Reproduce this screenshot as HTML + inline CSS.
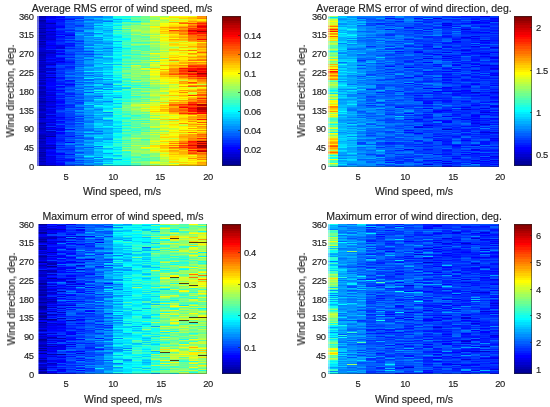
<!DOCTYPE html>
<html><head><meta charset="utf-8"><style>
*{margin:0;padding:0}
html,body{width:550px;height:407px;overflow:hidden;background:#fff}
body{position:relative;font-family:"Liberation Sans",sans-serif;color:#222}
.ax{position:absolute;overflow:hidden}
.box{position:absolute;left:0;top:0;right:0;bottom:0;border:1px solid rgba(38,38,38,0.55)}
.edge{position:absolute;left:0;top:0;right:0;bottom:0;border-right:1px solid rgba(40,30,30,0.35);border-bottom:1px solid rgba(40,30,30,0.35)}
.ledge{position:absolute;left:0;top:0;bottom:0;width:1.5px;background:rgba(235,245,255,0.45)}
.ctk{position:absolute;width:1.8px;height:1px;background:rgba(38,38,38,0.6)}
.lab,.ylab,.xt,.yt,.ct{will-change:transform;-webkit-text-stroke:0.15px #222}
.lab{position:absolute;font-size:10.5px;line-height:12px;white-space:nowrap;transform:translateX(-50%)}
.ylab{position:absolute;font-size:10.5px;line-height:12px;white-space:nowrap;transform:translate(-50%,-50%) rotate(-90deg)}
.xt{letter-spacing:-0.35px;position:absolute;font-size:9.4px;line-height:11px;white-space:nowrap;transform:translateX(-50%)}
.yt{letter-spacing:-0.35px;position:absolute;font-size:9.4px;line-height:11px;white-space:nowrap}
.ct{letter-spacing:-0.35px;position:absolute;font-size:9.4px;line-height:11px;white-space:nowrap}
</style></head><body>
<div class="ax" style="left:37.4px;top:16px;width:169.9px;height:150.4px"><svg width="169.9" height="150.4" viewBox="0 0 18 150" preserveAspectRatio="none" shape-rendering="crispEdges" style="position:absolute;left:0;top:0;filter:blur(0.35px)"><path fill="#0000af" d="M0 0h1v1h-1zM0 5h1v1h-1zM1 7h1v1h-1zM0 21h1v1h-1zM0 28h1v1h-1zM0 36h1v1h-1zM0 38h1v1h-1zM0 39h1v1h-1zM0 44h1v1h-1zM0 55h1v1h-1zM1 61h1v1h-1zM0 64h1v1h-1zM0 67h1v1h-1zM0 71h1v1h-1zM0 72h1v1h-1zM0 75h1v1h-1zM0 76h1v1h-1zM0 78h1v1h-1zM0 82h1v1h-1zM0 86h1v1h-1zM0 89h1v1h-1zM0 93h1v1h-1zM0 94h1v1h-1zM0 112h1v1h-1zM0 119h1v1h-1zM0 120h1v1h-1zM0 125h1v1h-1zM0 131h1v1h-1zM0 132h1v1h-1zM0 138h1v1h-1zM0 139h1v1h-1zM0 140h1v1h-1zM0 142h1v1h-1zM0 145h1v1h-1z"/><path fill="#0000df" d="M1 0h1v1h-1zM0 3h1v1h-1zM1 11h1v1h-1zM1 17h1v1h-1zM1 19h1v1h-1zM1 21h1v1h-1zM1 22h1v1h-1zM0 24h1v1h-1zM1 29h1v1h-1zM2 31h1v1h-1zM0 32h1v1h-1zM2 32h1v1h-1zM0 33h1v1h-1zM1 35h1v1h-1zM1 39h1v1h-1zM1 43h1v1h-1zM0 45h1v1h-1zM2 45h1v1h-1zM1 46h1v1h-1zM1 47h1v1h-1zM1 53h1v1h-1zM0 57h1v1h-1zM0 63h1v1h-1zM0 65h1v1h-1zM1 74h1v1h-1zM1 76h1v1h-1zM1 78h1v1h-1zM0 81h2v1h-2zM1 83h1v1h-1zM1 86h1v1h-1zM1 87h1v1h-1zM1 91h1v1h-1zM1 93h1v1h-1zM1 95h1v1h-1zM0 96h2v1h-2zM0 102h1v1h-1zM1 103h1v1h-1zM0 104h1v1h-1zM0 105h1v1h-1zM1 109h1v1h-1zM0 116h1v1h-1zM1 117h1v1h-1zM1 119h1v1h-1zM1 140h1v1h-1zM1 147h1v1h-1z"/><path fill="#0010ff" d="M2 0h1v1h-1zM1 3h1v1h-1zM3 3h1v1h-1zM2 4h1v1h-1zM2 5h1v1h-1zM2 9h1v1h-1zM2 15h1v1h-1zM2 16h1v1h-1zM3 18h1v1h-1zM2 21h1v1h-1zM2 24h1v1h-1zM1 26h1v1h-1zM3 27h1v1h-1zM3 29h1v1h-1zM2 34h1v1h-1zM2 41h1v1h-1zM1 42h1v1h-1zM2 44h1v1h-1zM1 45h1v1h-1zM3 46h1v1h-1zM1 58h1v1h-1zM1 60h1v1h-1zM2 61h1v1h-1zM2 62h1v1h-1zM3 64h1v1h-1zM2 67h1v1h-1zM2 68h1v1h-1zM1 70h1v1h-1zM2 71h1v1h-1zM1 75h1v1h-1zM2 76h1v1h-1zM2 79h1v1h-1zM2 81h1v1h-1zM2 83h1v1h-1zM2 84h1v1h-1zM2 87h1v1h-1zM2 90h1v1h-1zM1 92h2v1h-2zM1 102h2v1h-2zM2 103h1v1h-1zM2 106h1v1h-1zM1 107h1v1h-1zM2 109h1v1h-1zM2 110h1v1h-1zM3 113h1v1h-1zM3 120h1v1h-1zM2 124h1v1h-1zM1 127h1v1h-1zM2 129h1v1h-1zM1 134h1v1h-1zM3 138h1v1h-1zM1 139h1v1h-1zM2 142h1v1h-1zM3 143h1v1h-1zM3 144h1v1h-1zM2 146h1v1h-1zM2 149h1v1h-1z"/><path fill="#0040ff" d="M3 0h1v1h-1zM4 4h1v1h-1zM3 5h1v1h-1zM3 7h1v1h-1zM3 8h1v1h-1zM4 10h1v1h-1zM3 11h1v1h-1zM2 13h2v1h-2zM2 19h1v1h-1zM3 20h1v1h-1zM4 27h1v1h-1zM4 32h1v1h-1zM2 33h1v1h-1zM4 35h2v1h-2zM3 36h1v1h-1zM3 37h1v1h-1zM5 38h1v1h-1zM2 39h2v1h-2zM2 40h1v1h-1zM3 43h1v1h-1zM2 50h1v1h-1zM2 51h1v1h-1zM3 53h1v1h-1zM2 54h1v1h-1zM2 58h2v1h-2zM2 60h1v1h-1zM3 61h1v1h-1zM2 64h1v1h-1zM2 72h1v1h-1zM3 73h1v1h-1zM3 76h1v1h-1zM2 77h1v1h-1zM2 78h1v1h-1zM4 78h1v1h-1zM2 82h1v1h-1zM3 83h1v1h-1zM4 84h1v1h-1zM3 85h1v1h-1zM4 87h1v1h-1zM2 94h1v1h-1zM3 95h1v1h-1zM3 97h1v1h-1zM3 98h1v1h-1zM3 99h1v1h-1zM3 100h1v1h-1zM3 102h2v1h-2zM2 104h1v1h-1zM3 105h2v1h-2zM4 107h1v1h-1zM3 110h1v1h-1zM2 115h1v1h-1zM3 117h1v1h-1zM3 118h1v1h-1zM3 119h2v1h-2zM3 122h2v1h-2zM3 124h1v1h-1zM2 127h1v1h-1zM3 129h1v1h-1zM2 130h1v1h-1zM3 131h1v1h-1zM3 132h1v1h-1zM2 134h2v1h-2zM3 135h1v1h-1zM4 136h1v1h-1zM3 140h1v1h-1zM4 144h1v1h-1zM3 148h2v1h-2zM3 149h1v1h-1z"/><path fill="#0050ff" d="M4 0h1v1h-1zM3 1h2v1h-2zM3 4h1v1h-1zM3 9h1v1h-1zM3 10h1v1h-1zM4 14h1v1h-1zM4 15h1v1h-1zM4 24h1v1h-1zM3 25h1v1h-1zM3 26h1v1h-1zM4 30h1v1h-1zM3 31h1v1h-1zM3 33h2v1h-2zM3 35h1v1h-1zM4 38h1v1h-1zM3 40h1v1h-1zM4 44h1v1h-1zM4 48h1v1h-1zM2 49h2v1h-2zM4 50h1v1h-1zM3 54h1v1h-1zM3 55h1v1h-1zM3 57h1v1h-1zM4 61h1v1h-1zM3 62h1v1h-1zM3 66h2v1h-2zM4 68h1v1h-1zM2 69h1v1h-1zM3 71h1v1h-1zM4 72h1v1h-1zM3 74h1v1h-1zM5 76h1v1h-1zM3 79h1v1h-1zM4 81h1v1h-1zM3 82h2v1h-2zM3 84h1v1h-1zM3 86h1v1h-1zM4 91h1v1h-1zM3 93h2v1h-2zM2 95h1v1h-1zM3 96h2v1h-2zM4 103h1v1h-1zM3 106h1v1h-1zM2 108h1v1h-1zM3 109h1v1h-1zM4 110h1v1h-1zM3 111h1v1h-1zM3 121h2v1h-2zM3 125h1v1h-1zM2 128h1v1h-1zM4 128h1v1h-1zM3 130h1v1h-1zM5 131h1v1h-1zM2 132h1v1h-1zM2 135h1v1h-1zM3 136h1v1h-1zM3 137h1v1h-1zM3 139h1v1h-1zM4 141h1v1h-1zM4 146h1v1h-1z"/><path fill="#0080ff" d="M5 0h1v1h-1zM5 1h2v1h-2zM4 3h1v1h-1zM6 4h1v1h-1zM5 9h1v1h-1zM4 13h1v1h-1zM5 16h1v1h-1zM4 17h1v1h-1zM6 17h1v1h-1zM4 19h1v1h-1zM4 23h1v1h-1zM6 23h1v1h-1zM5 25h1v1h-1zM5 28h1v1h-1zM4 39h2v1h-2zM4 40h1v1h-1zM6 41h1v1h-1zM4 43h1v1h-1zM5 48h1v1h-1zM5 56h1v1h-1zM5 57h1v1h-1zM3 59h1v1h-1zM6 60h1v1h-1zM6 63h1v1h-1zM5 67h2v1h-2zM4 70h1v1h-1zM7 73h1v1h-1zM5 80h1v1h-1zM5 81h1v1h-1zM4 83h1v1h-1zM5 85h1v1h-1zM7 85h1v1h-1zM5 89h1v1h-1zM4 90h1v1h-1zM5 91h1v1h-1zM6 93h1v1h-1zM7 96h1v1h-1zM4 101h1v1h-1zM6 103h1v1h-1zM5 104h1v1h-1zM5 112h1v1h-1zM3 115h2v1h-2zM4 116h1v1h-1zM4 118h1v1h-1zM5 126h1v1h-1zM3 127h1v1h-1zM3 128h1v1h-1zM5 133h1v1h-1zM4 135h2v1h-2zM5 136h1v1h-1zM5 137h1v1h-1zM4 140h1v1h-1zM5 145h2v1h-2zM4 147h1v1h-1zM4 149h1v1h-1z"/><path fill="#0070ff" d="M6 0h1v1h-1zM5 4h1v1h-1zM7 5h1v1h-1zM4 6h1v1h-1zM5 7h1v1h-1zM5 10h1v1h-1zM4 11h1v1h-1zM4 12h1v1h-1zM5 17h1v1h-1zM5 19h1v1h-1zM4 20h1v1h-1zM4 21h1v1h-1zM4 22h1v1h-1zM4 26h1v1h-1zM4 29h2v1h-2zM5 32h1v1h-1zM7 32h1v1h-1zM4 36h1v1h-1zM5 37h1v1h-1zM6 38h1v1h-1zM4 45h1v1h-1zM4 47h1v1h-1zM4 49h2v1h-2zM4 52h1v1h-1zM3 56h1v1h-1zM4 58h1v1h-1zM4 59h1v1h-1zM3 60h1v1h-1zM3 63h2v1h-2zM4 64h2v1h-2zM7 68h1v1h-1zM4 71h1v1h-1zM6 72h1v1h-1zM5 73h1v1h-1zM3 75h2v1h-2zM4 76h1v1h-1zM4 79h1v1h-1zM5 84h1v1h-1zM4 98h1v1h-1zM5 99h1v1h-1zM5 101h1v1h-1zM5 105h1v1h-1zM5 106h1v1h-1zM4 109h1v1h-1zM4 111h1v1h-1zM3 112h1v1h-1zM4 113h2v1h-2zM6 115h1v1h-1zM6 117h1v1h-1zM4 120h1v1h-1zM5 121h1v1h-1zM5 123h1v1h-1zM4 126h1v1h-1zM4 129h1v1h-1zM6 130h1v1h-1zM4 133h1v1h-1zM4 139h1v1h-1zM6 141h1v1h-1zM4 142h2v1h-2zM5 144h1v1h-1zM4 145h1v1h-1zM5 146h1v1h-1zM5 149h1v1h-1z"/><path fill="#00afff" d="M7 0h1v1h-1zM8 3h1v1h-1zM5 5h1v1h-1zM6 7h1v1h-1zM6 12h1v1h-1zM6 13h1v1h-1zM5 14h1v1h-1zM4 18h1v1h-1zM7 19h1v1h-1zM6 22h1v1h-1zM7 25h2v1h-2zM7 26h1v1h-1zM7 28h1v1h-1zM7 30h1v1h-1zM7 31h2v1h-2zM5 33h1v1h-1zM7 34h1v1h-1zM6 37h2v1h-2zM7 38h1v1h-1zM7 39h1v1h-1zM5 42h1v1h-1zM7 43h1v1h-1zM6 44h1v1h-1zM7 51h1v1h-1zM6 53h1v1h-1zM6 54h1v1h-1zM5 60h1v1h-1zM6 64h1v1h-1zM6 65h1v1h-1zM6 66h1v1h-1zM6 71h1v1h-1zM5 72h1v1h-1zM6 73h1v1h-1zM5 74h1v1h-1zM7 77h1v1h-1zM6 78h1v1h-1zM6 81h1v1h-1zM6 85h1v1h-1zM5 87h1v1h-1zM6 92h1v1h-1zM5 93h1v1h-1zM6 96h1v1h-1zM6 97h1v1h-1zM6 102h1v1h-1zM6 104h1v1h-1zM6 105h2v1h-2zM6 106h1v1h-1zM5 107h1v1h-1zM7 107h1v1h-1zM7 109h1v1h-1zM6 113h2v1h-2zM6 116h2v1h-2zM5 120h1v1h-1zM6 122h1v1h-1zM5 124h2v1h-2zM7 132h1v1h-1zM6 135h1v1h-1zM6 136h1v1h-1zM4 138h1v1h-1zM5 139h2v1h-2zM7 142h1v1h-1zM8 143h1v1h-1z"/><path fill="#20ffdf" d="M8 0h1v1h-1zM8 1h2v1h-2zM8 15h1v1h-1zM8 16h1v1h-1zM9 19h1v1h-1zM8 24h1v1h-1zM9 29h1v1h-1zM9 33h1v1h-1zM9 37h1v1h-1zM9 38h2v1h-2zM8 46h1v1h-1zM9 48h1v1h-1zM8 53h1v1h-1zM8 57h1v1h-1zM8 58h1v1h-1zM8 60h1v1h-1zM8 63h1v1h-1zM9 66h1v1h-1zM9 69h1v1h-1zM11 71h1v1h-1zM9 76h1v1h-1zM9 77h1v1h-1zM9 79h1v1h-1zM9 80h2v1h-2zM9 82h1v1h-1zM8 88h1v1h-1zM8 93h1v1h-1zM8 96h1v1h-1zM8 97h1v1h-1zM9 98h1v1h-1zM10 99h1v1h-1zM8 100h1v1h-1zM9 101h1v1h-1zM8 103h1v1h-1zM10 114h1v1h-1zM8 117h1v1h-1zM9 119h1v1h-1zM8 122h1v1h-1zM9 124h1v1h-1zM8 130h1v1h-1zM7 131h1v1h-1zM8 134h1v1h-1zM8 135h1v1h-1zM9 136h1v1h-1zM9 141h1v1h-1zM8 145h1v1h-1zM8 146h2v1h-2zM9 148h1v1h-1z"/><path fill="#10ffef" d="M9 0h1v1h-1zM9 4h1v1h-1zM8 11h1v1h-1zM8 18h1v1h-1zM8 22h1v1h-1zM8 27h1v1h-1zM8 36h1v1h-1zM8 37h1v1h-1zM7 40h2v1h-2zM9 41h1v1h-1zM7 47h2v1h-2zM9 51h1v1h-1zM9 63h1v1h-1zM8 67h1v1h-1zM10 69h1v1h-1zM6 74h1v1h-1zM9 75h1v1h-1zM9 78h1v1h-1zM9 81h1v1h-1zM8 82h1v1h-1zM9 85h1v1h-1zM8 86h1v1h-1zM6 89h1v1h-1zM8 89h1v1h-1zM8 95h1v1h-1zM8 101h1v1h-1zM8 104h1v1h-1zM9 106h1v1h-1zM8 108h1v1h-1zM8 111h1v1h-1zM9 112h1v1h-1zM9 115h1v1h-1zM8 119h1v1h-1zM7 130h1v1h-1zM8 132h1v1h-1zM7 141h2v1h-2zM9 142h1v1h-1zM8 147h2v1h-2zM8 148h1v1h-1z"/><path fill="#30ffcf" d="M10 0h1v1h-1zM8 7h1v1h-1zM9 8h1v1h-1zM8 10h1v1h-1zM8 12h1v1h-1zM9 13h1v1h-1zM9 17h1v1h-1zM9 24h1v1h-1zM9 25h1v1h-1zM10 26h1v1h-1zM10 30h1v1h-1zM9 31h1v1h-1zM9 34h1v1h-1zM9 35h1v1h-1zM9 40h1v1h-1zM9 42h1v1h-1zM9 45h1v1h-1zM10 48h1v1h-1zM8 52h1v1h-1zM8 55h1v1h-1zM8 56h1v1h-1zM9 57h1v1h-1zM10 64h1v1h-1zM11 69h1v1h-1zM10 71h1v1h-1zM8 83h1v1h-1zM9 84h1v1h-1zM8 94h1v1h-1zM7 95h1v1h-1zM7 102h1v1h-1zM10 104h2v1h-2zM9 118h1v1h-1zM8 123h1v1h-1zM8 125h1v1h-1zM8 127h1v1h-1zM8 128h1v1h-1zM8 129h1v1h-1zM9 130h1v1h-1zM9 135h1v1h-1zM8 138h1v1h-1zM9 139h1v1h-1zM9 140h1v1h-1zM10 141h1v1h-1zM8 142h1v1h-1zM9 144h1v1h-1zM7 148h1v1h-1zM10 149h1v1h-1z"/><path fill="#70ff8f" d="M11 0h1v1h-1zM11 1h1v1h-1zM10 2h1v1h-1zM11 4h1v1h-1zM11 6h1v1h-1zM11 9h1v1h-1zM9 14h1v1h-1zM10 16h1v1h-1zM10 17h1v1h-1zM10 21h1v1h-1zM10 22h1v1h-1zM10 24h1v1h-1zM12 26h1v1h-1zM10 29h1v1h-1zM12 33h1v1h-1zM11 36h2v1h-2zM9 39h2v1h-2zM12 42h2v1h-2zM11 45h1v1h-1zM10 46h1v1h-1zM9 47h1v1h-1zM11 47h1v1h-1zM11 49h1v1h-1zM9 50h1v1h-1zM9 52h1v1h-1zM9 56h1v1h-1zM9 58h1v1h-1zM10 61h1v1h-1zM9 70h1v1h-1zM12 71h1v1h-1zM12 72h1v1h-1zM11 73h1v1h-1zM11 76h1v1h-1zM10 83h1v1h-1zM9 86h1v1h-1zM11 87h1v1h-1zM9 90h1v1h-1zM9 92h1v1h-1zM9 93h1v1h-1zM10 96h1v1h-1zM10 98h1v1h-1zM11 108h1v1h-1zM11 109h1v1h-1zM9 114h1v1h-1zM11 114h1v1h-1zM11 119h1v1h-1zM11 120h1v1h-1zM9 122h1v1h-1zM10 123h1v1h-1zM10 126h2v1h-2zM10 128h2v1h-2zM9 129h1v1h-1zM11 133h1v1h-1zM10 137h1v1h-1zM11 140h1v1h-1zM11 141h1v1h-1zM10 142h1v1h-1zM12 142h1v1h-1zM12 143h1v1h-1zM11 148h1v1h-1z"/><path fill="#cfff30" d="M12 0h1v1h-1zM13 1h1v1h-1zM14 2h1v1h-1zM14 3h2v1h-2zM12 13h1v1h-1zM12 16h1v1h-1zM13 20h1v1h-1zM12 21h1v1h-1zM12 24h1v1h-1zM15 25h1v1h-1zM13 26h1v1h-1zM14 32h1v1h-1zM16 32h1v1h-1zM14 35h1v1h-1zM13 36h1v1h-1zM13 37h1v1h-1zM13 38h1v1h-1zM13 39h1v1h-1zM13 40h1v1h-1zM13 45h1v1h-1zM13 48h1v1h-1zM10 49h1v1h-1zM11 53h1v1h-1zM12 54h1v1h-1zM12 61h1v1h-1zM12 63h1v1h-1zM15 64h1v1h-1zM12 65h1v1h-1zM12 67h1v1h-1zM13 72h1v1h-1zM13 78h1v1h-1zM12 79h1v1h-1zM13 80h2v1h-2zM13 84h1v1h-1zM12 86h1v1h-1zM12 87h1v1h-1zM10 89h1v1h-1zM12 89h1v1h-1zM11 94h1v1h-1zM13 98h1v1h-1zM13 99h2v1h-2zM12 101h1v1h-1zM13 102h1v1h-1zM13 105h1v1h-1zM12 110h1v1h-1zM12 111h2v1h-2zM14 113h1v1h-1zM12 116h1v1h-1zM12 118h1v1h-1zM13 123h1v1h-1zM12 124h1v1h-1zM13 126h1v1h-1zM11 132h2v1h-2zM12 135h1v1h-1zM13 142h1v1h-1zM14 144h1v1h-1zM13 146h1v1h-1zM12 147h1v1h-1zM13 148h1v1h-1zM12 149h2v1h-2z"/><path fill="#9fff60" d="M13 0h1v1h-1zM13 4h1v1h-1zM12 9h1v1h-1zM11 11h1v1h-1zM9 12h1v1h-1zM10 13h1v1h-1zM11 14h1v1h-1zM10 15h1v1h-1zM12 23h1v1h-1zM10 28h1v1h-1zM12 28h1v1h-1zM12 30h1v1h-1zM14 31h1v1h-1zM12 34h1v1h-1zM11 37h1v1h-1zM12 39h1v1h-1zM11 40h1v1h-1zM12 43h1v1h-1zM11 44h1v1h-1zM11 46h1v1h-1zM10 50h1v1h-1zM10 51h1v1h-1zM12 51h1v1h-1zM10 53h1v1h-1zM11 55h1v1h-1zM11 56h1v1h-1zM10 57h2v1h-2zM10 60h1v1h-1zM11 62h1v1h-1zM12 68h1v1h-1zM13 69h1v1h-1zM10 72h1v1h-1zM12 73h1v1h-1zM12 74h1v1h-1zM12 76h1v1h-1zM13 77h1v1h-1zM12 80h1v1h-1zM11 82h2v1h-2zM11 91h1v1h-1zM10 92h1v1h-1zM11 93h1v1h-1zM11 97h1v1h-1zM12 104h1v1h-1zM14 104h1v1h-1zM12 105h1v1h-1zM12 106h1v1h-1zM12 108h1v1h-1zM11 116h1v1h-1zM11 118h1v1h-1zM12 121h1v1h-1zM11 122h1v1h-1zM12 123h1v1h-1zM10 134h1v1h-1zM10 135h2v1h-2zM11 136h1v1h-1zM11 137h1v1h-1zM12 140h1v1h-1zM13 145h1v1h-1zM14 147h1v1h-1z"/><path fill="#efff10" d="M14 0h1v1h-1zM16 0h1v1h-1zM15 5h1v1h-1zM13 8h1v1h-1zM13 9h1v1h-1zM12 11h1v1h-1zM13 22h1v1h-1zM13 23h1v1h-1zM15 27h1v1h-1zM16 35h1v1h-1zM14 36h1v1h-1zM16 39h1v1h-1zM13 43h1v1h-1zM12 44h1v1h-1zM13 46h1v1h-1zM13 50h1v1h-1zM13 51h1v1h-1zM13 54h1v1h-1zM12 56h1v1h-1zM12 62h1v1h-1zM13 63h1v1h-1zM13 64h1v1h-1zM13 65h2v1h-2zM15 71h1v1h-1zM17 71h1v1h-1zM16 72h1v1h-1zM14 73h1v1h-1zM13 75h1v1h-1zM14 78h1v1h-1zM13 82h2v1h-2zM15 83h1v1h-1zM14 85h1v1h-1zM11 88h1v1h-1zM11 92h2v1h-2zM12 96h1v1h-1zM14 106h1v1h-1zM13 107h1v1h-1zM13 109h1v1h-1zM13 110h2v1h-2zM13 113h1v1h-1zM15 113h1v1h-1zM14 117h1v1h-1zM14 118h1v1h-1zM14 124h1v1h-1zM12 125h1v1h-1zM13 133h1v1h-1zM16 139h1v1h-1zM15 142h1v1h-1zM15 143h1v1h-1zM15 144h1v1h-1zM15 145h1v1h-1zM12 146h1v1h-1z"/><path fill="#ffff00" d="M15 0h1v1h-1zM13 2h1v1h-1zM13 7h2v1h-2zM13 19h1v1h-1zM14 22h1v1h-1zM15 33h1v1h-1zM16 36h1v1h-1zM12 37h1v1h-1zM14 37h1v1h-1zM15 39h1v1h-1zM14 42h1v1h-1zM13 47h1v1h-1zM13 52h1v1h-1zM12 53h1v1h-1zM12 55h1v1h-1zM12 58h1v1h-1zM14 63h1v1h-1zM13 67h1v1h-1zM16 68h1v1h-1zM15 69h1v1h-1zM15 73h1v1h-1zM14 77h1v1h-1zM16 80h1v1h-1zM15 81h1v1h-1zM13 88h1v1h-1zM12 94h1v1h-1zM13 96h1v1h-1zM14 100h1v1h-1zM14 102h1v1h-1zM12 103h1v1h-1zM15 106h1v1h-1zM14 111h3v1h-3zM15 112h1v1h-1zM16 113h1v1h-1zM14 114h1v1h-1zM15 115h2v1h-2zM16 117h1v1h-1zM14 119h1v1h-1zM13 124h1v1h-1zM13 128h1v1h-1zM11 131h2v1h-2zM16 145h1v1h-1zM14 148h1v1h-1z"/><path fill="#ff8f00" d="M17 0h1v1h-1zM15 6h1v1h-1zM14 11h1v1h-1zM17 24h1v1h-1zM17 30h1v1h-1zM17 31h1v1h-1zM16 37h1v1h-1zM17 40h1v1h-1zM14 44h1v1h-1zM17 46h1v1h-1zM16 48h1v1h-1zM14 52h1v1h-1zM14 54h1v1h-1zM17 65h1v1h-1zM16 69h1v1h-1zM17 73h1v1h-1zM17 81h1v1h-1zM17 83h1v1h-1zM16 85h1v1h-1zM17 87h1v1h-1zM17 100h1v1h-1zM16 103h1v1h-1zM16 105h1v1h-1zM15 107h1v1h-1zM17 110h1v1h-1zM17 114h1v1h-1zM16 123h2v1h-2zM14 132h2v1h-2zM16 133h1v1h-1zM17 136h1v1h-1zM16 142h1v1h-1z"/><path fill="#0000bf" d="M0 1h1v1h-1zM0 6h1v1h-1zM0 7h1v1h-1zM0 9h1v1h-1zM0 10h1v1h-1zM0 14h1v1h-1zM0 15h2v1h-2zM0 20h1v1h-1zM0 22h1v1h-1zM0 23h1v1h-1zM0 27h1v1h-1zM0 30h1v1h-1zM1 36h1v1h-1zM0 37h1v1h-1zM0 40h1v1h-1zM0 41h1v1h-1zM0 42h1v1h-1zM0 46h1v1h-1zM0 48h2v1h-2zM0 49h1v1h-1zM0 50h1v1h-1zM1 52h1v1h-1zM0 53h1v1h-1zM0 56h1v1h-1zM1 57h1v1h-1zM0 59h1v1h-1zM0 61h1v1h-1zM0 62h1v1h-1zM0 66h1v1h-1zM0 68h1v1h-1zM0 70h1v1h-1zM0 77h1v1h-1zM0 79h1v1h-1zM0 80h1v1h-1zM0 83h1v1h-1zM0 84h1v1h-1zM1 85h1v1h-1zM0 87h1v1h-1zM0 90h1v1h-1zM0 92h1v1h-1zM0 97h1v1h-1zM0 98h1v1h-1zM0 99h1v1h-1zM0 100h1v1h-1zM0 106h1v1h-1zM0 108h1v1h-1zM0 109h1v1h-1zM0 113h1v1h-1zM1 115h1v1h-1zM0 118h1v1h-1zM0 121h1v1h-1zM0 126h1v1h-1zM0 127h1v1h-1zM0 129h2v1h-2zM1 131h1v1h-1zM1 132h1v1h-1zM0 134h1v1h-1zM0 137h1v1h-1zM0 143h1v1h-1z"/><path fill="#0000ef" d="M1 1h1v1h-1zM1 6h1v1h-1zM1 8h1v1h-1zM1 9h1v1h-1zM1 10h1v1h-1zM1 16h1v1h-1zM3 19h1v1h-1zM1 20h1v1h-1zM1 24h1v1h-1zM2 29h1v1h-1zM2 30h1v1h-1zM1 32h1v1h-1zM2 37h1v1h-1zM1 38h1v1h-1zM1 40h1v1h-1zM1 41h1v1h-1zM2 42h1v1h-1zM1 44h1v1h-1zM1 56h1v1h-1zM1 59h1v1h-1zM1 64h1v1h-1zM1 65h1v1h-1zM0 69h1v1h-1zM1 73h1v1h-1zM1 77h1v1h-1zM1 82h1v1h-1zM1 84h1v1h-1zM1 88h1v1h-1zM1 89h1v1h-1zM1 94h1v1h-1zM1 97h1v1h-1zM1 100h1v1h-1zM1 101h2v1h-2zM1 104h1v1h-1zM1 105h1v1h-1zM1 108h1v1h-1zM2 112h1v1h-1zM2 113h1v1h-1zM1 122h1v1h-1zM1 124h1v1h-1zM1 126h1v1h-1zM1 128h1v1h-1zM1 130h1v1h-1zM1 136h1v1h-1zM1 137h1v1h-1zM1 141h1v1h-1zM1 142h1v1h-1zM1 143h1v1h-1zM1 144h1v1h-1zM1 145h1v1h-1zM1 146h1v1h-1zM1 148h1v1h-1z"/><path fill="#0000ff" d="M2 1h1v1h-1zM1 2h1v1h-1zM2 3h1v1h-1zM1 4h1v1h-1zM1 5h1v1h-1zM2 10h1v1h-1zM2 11h1v1h-1zM1 13h1v1h-1zM1 14h1v1h-1zM2 18h1v1h-1zM2 20h1v1h-1zM1 25h1v1h-1zM1 27h1v1h-1zM1 28h1v1h-1zM1 30h1v1h-1zM1 31h1v1h-1zM2 35h1v1h-1zM2 38h1v1h-1zM2 43h1v1h-1zM2 46h1v1h-1zM1 49h1v1h-1zM1 62h1v1h-1zM1 63h1v1h-1zM1 66h1v1h-1zM1 67h1v1h-1zM1 68h1v1h-1zM3 68h1v1h-1zM1 69h1v1h-1zM2 70h1v1h-1zM1 71h1v1h-1zM1 72h1v1h-1zM2 74h1v1h-1zM1 80h1v1h-1zM2 85h1v1h-1zM2 86h1v1h-1zM2 89h1v1h-1zM2 105h1v1h-1zM1 112h1v1h-1zM2 114h1v1h-1zM2 116h1v1h-1zM2 117h1v1h-1zM1 121h1v1h-1zM1 123h1v1h-1zM1 125h1v1h-1zM3 126h1v1h-1zM1 133h1v1h-1zM1 135h1v1h-1zM2 137h1v1h-1zM1 138h2v1h-2zM2 144h1v1h-1zM2 147h1v1h-1zM2 148h1v1h-1z"/><path fill="#009fff" d="M7 1h1v1h-1zM5 2h1v1h-1zM6 3h1v1h-1zM7 4h1v1h-1zM6 5h1v1h-1zM7 14h1v1h-1zM5 23h1v1h-1zM5 24h1v1h-1zM5 26h1v1h-1zM6 29h1v1h-1zM6 32h1v1h-1zM6 33h1v1h-1zM5 41h1v1h-1zM6 42h2v1h-2zM5 45h1v1h-1zM5 46h1v1h-1zM5 47h2v1h-2zM7 48h1v1h-1zM6 51h1v1h-1zM5 52h2v1h-2zM6 58h1v1h-1zM6 59h2v1h-2zM5 61h1v1h-1zM6 62h1v1h-1zM7 67h1v1h-1zM5 68h1v1h-1zM6 70h2v1h-2zM7 71h1v1h-1zM4 73h1v1h-1zM6 75h1v1h-1zM6 77h1v1h-1zM6 79h1v1h-1zM8 81h1v1h-1zM6 86h1v1h-1zM6 88h1v1h-1zM5 90h1v1h-1zM4 94h1v1h-1zM6 94h1v1h-1zM5 95h1v1h-1zM5 97h1v1h-1zM5 98h1v1h-1zM6 99h2v1h-2zM5 100h1v1h-1zM6 101h1v1h-1zM5 103h1v1h-1zM5 108h1v1h-1zM5 111h1v1h-1zM7 112h1v1h-1zM6 114h1v1h-1zM5 115h1v1h-1zM7 117h1v1h-1zM6 118h1v1h-1zM7 122h1v1h-1zM6 123h1v1h-1zM5 125h2v1h-2zM5 127h1v1h-1zM4 130h2v1h-2zM5 132h1v1h-1zM4 134h1v1h-1zM7 137h1v1h-1zM5 141h1v1h-1zM5 143h1v1h-1zM7 143h1v1h-1zM6 144h1v1h-1zM5 147h1v1h-1z"/><path fill="#60ff9f" d="M10 1h1v1h-1zM11 3h1v1h-1zM10 4h1v1h-1zM9 6h1v1h-1zM9 7h1v1h-1zM9 11h1v1h-1zM9 15h1v1h-1zM11 18h1v1h-1zM10 19h1v1h-1zM10 20h2v1h-2zM11 23h1v1h-1zM10 27h2v1h-2zM10 36h1v1h-1zM10 37h1v1h-1zM11 39h1v1h-1zM10 40h1v1h-1zM10 41h1v1h-1zM11 42h1v1h-1zM10 43h1v1h-1zM9 44h1v1h-1zM11 48h1v1h-1zM9 49h1v1h-1zM11 54h1v1h-1zM11 59h1v1h-1zM11 61h1v1h-1zM10 66h1v1h-1zM11 67h1v1h-1zM10 68h1v1h-1zM11 74h1v1h-1zM11 80h1v1h-1zM10 82h1v1h-1zM11 85h1v1h-1zM8 92h1v1h-1zM9 96h1v1h-1zM11 96h1v1h-1zM9 99h1v1h-1zM11 99h1v1h-1zM9 100h1v1h-1zM11 100h1v1h-1zM10 101h1v1h-1zM9 105h2v1h-2zM10 106h1v1h-1zM10 107h1v1h-1zM10 109h1v1h-1zM9 110h1v1h-1zM12 112h1v1h-1zM11 113h1v1h-1zM10 115h1v1h-1zM9 117h2v1h-2zM10 118h1v1h-1zM10 120h1v1h-1zM9 121h1v1h-1zM9 123h1v1h-1zM11 124h1v1h-1zM9 125h1v1h-1zM9 133h1v1h-1zM12 141h1v1h-1zM10 143h1v1h-1zM10 145h1v1h-1z"/><path fill="#8fff70" d="M12 1h1v1h-1zM12 2h1v1h-1zM10 9h1v1h-1zM10 10h1v1h-1zM10 11h1v1h-1zM10 12h2v1h-2zM11 13h1v1h-1zM11 17h1v1h-1zM12 18h1v1h-1zM11 24h1v1h-1zM12 25h1v1h-1zM12 29h1v1h-1zM10 34h1v1h-1zM11 35h1v1h-1zM13 35h1v1h-1zM11 50h1v1h-1zM10 55h1v1h-1zM10 59h1v1h-1zM11 60h1v1h-1zM10 62h1v1h-1zM11 64h2v1h-2zM11 65h1v1h-1zM12 66h1v1h-1zM12 69h1v1h-1zM12 70h1v1h-1zM11 72h1v1h-1zM13 76h1v1h-1zM11 78h1v1h-1zM10 79h1v1h-1zM10 87h1v1h-1zM9 91h1v1h-1zM10 94h1v1h-1zM10 103h1v1h-1zM12 107h1v1h-1zM12 109h1v1h-1zM10 111h1v1h-1zM12 119h1v1h-1zM12 120h1v1h-1zM10 124h1v1h-1zM10 127h1v1h-1zM9 131h2v1h-2zM10 132h1v1h-1zM11 134h1v1h-1zM10 136h1v1h-1zM10 139h1v1h-1zM12 139h1v1h-1zM10 146h2v1h-2z"/><path fill="#ffdf00" d="M14 1h2v1h-2zM16 3h1v1h-1zM14 9h2v1h-2zM13 12h1v1h-1zM13 16h1v1h-1zM14 19h1v1h-1zM14 25h1v1h-1zM15 26h1v1h-1zM14 27h1v1h-1zM15 28h2v1h-2zM14 29h3v1h-3zM15 36h1v1h-1zM17 38h1v1h-1zM14 39h1v1h-1zM16 42h1v1h-1zM15 45h1v1h-1zM14 46h1v1h-1zM14 47h1v1h-1zM14 61h1v1h-1zM14 62h1v1h-1zM15 63h1v1h-1zM16 65h1v1h-1zM14 66h1v1h-1zM17 72h1v1h-1zM16 73h1v1h-1zM16 78h1v1h-1zM13 79h1v1h-1zM15 82h1v1h-1zM13 90h1v1h-1zM15 101h1v1h-1zM15 104h1v1h-1zM14 105h1v1h-1zM17 105h1v1h-1zM14 108h1v1h-1zM14 116h1v1h-1zM13 118h1v1h-1zM14 120h1v1h-1zM14 121h1v1h-1zM14 126h1v1h-1zM12 129h1v1h-1zM12 130h1v1h-1zM14 130h1v1h-1zM14 133h1v1h-1zM13 134h1v1h-1zM14 137h1v1h-1zM15 139h1v1h-1zM14 140h2v1h-2zM16 141h1v1h-1zM14 143h1v1h-1zM16 144h1v1h-1zM14 145h1v1h-1zM17 145h1v1h-1zM14 146h1v1h-1zM16 146h1v1h-1zM16 149h1v1h-1z"/><path fill="#ffbf00" d="M16 1h1v1h-1zM16 2h1v1h-1zM16 6h1v1h-1zM13 15h1v1h-1zM14 21h1v1h-1zM15 24h1v1h-1zM15 31h1v1h-1zM17 37h1v1h-1zM16 38h1v1h-1zM17 39h1v1h-1zM15 40h1v1h-1zM14 41h1v1h-1zM17 47h1v1h-1zM14 50h2v1h-2zM13 56h1v1h-1zM14 59h1v1h-1zM13 60h1v1h-1zM17 67h1v1h-1zM17 75h1v1h-1zM14 79h1v1h-1zM16 81h1v1h-1zM13 89h1v1h-1zM13 91h1v1h-1zM13 94h1v1h-1zM13 95h1v1h-1zM14 97h1v1h-1zM15 102h1v1h-1zM16 110h1v1h-1zM15 114h2v1h-2zM15 116h1v1h-1zM17 116h1v1h-1zM15 118h1v1h-1zM15 119h1v1h-1zM15 122h1v1h-1zM15 124h1v1h-1zM13 131h1v1h-1zM14 138h2v1h-2zM17 142h1v1h-1zM16 148h1v1h-1zM17 149h1v1h-1z"/><path fill="#ff9f00" d="M17 1h1v1h-1zM16 5h1v1h-1zM16 8h1v1h-1zM15 12h1v1h-1zM15 13h1v1h-1zM14 15h1v1h-1zM15 16h1v1h-1zM15 21h1v1h-1zM14 23h1v1h-1zM17 27h1v1h-1zM17 28h1v1h-1zM16 41h2v1h-2zM16 47h1v1h-1zM14 49h1v1h-1zM15 51h1v1h-1zM14 56h1v1h-1zM13 58h1v1h-1zM15 59h1v1h-1zM14 60h1v1h-1zM15 65h1v1h-1zM15 67h1v1h-1zM15 70h1v1h-1zM15 74h1v1h-1zM16 75h1v1h-1zM15 84h2v1h-2zM14 86h2v1h-2zM16 101h1v1h-1zM16 108h1v1h-1zM16 112h1v1h-1zM16 118h1v1h-1zM16 119h1v1h-1zM15 120h2v1h-2zM16 121h1v1h-1zM14 125h1v1h-1zM15 133h1v1h-1zM14 134h1v1h-1zM16 138h1v1h-1zM17 139h1v1h-1zM17 146h1v1h-1z"/><path fill="#0000cf" d="M0 2h1v1h-1zM0 8h1v1h-1zM0 11h1v1h-1zM1 12h1v1h-1zM0 13h1v1h-1zM0 17h1v1h-1zM0 18h2v1h-2zM1 23h1v1h-1zM0 26h1v1h-1zM0 29h1v1h-1zM0 31h1v1h-1zM0 34h2v1h-2zM0 35h1v1h-1zM1 37h1v1h-1zM0 43h1v1h-1zM0 47h1v1h-1zM0 51h1v1h-1zM0 52h1v1h-1zM0 54h2v1h-2zM0 58h1v1h-1zM0 60h1v1h-1zM0 73h1v1h-1zM0 74h1v1h-1zM1 79h1v1h-1zM0 88h1v1h-1zM1 90h1v1h-1zM0 91h1v1h-1zM0 95h1v1h-1zM1 99h1v1h-1zM0 103h1v1h-1zM1 106h1v1h-1zM0 110h1v1h-1zM0 111h2v1h-2zM1 113h1v1h-1zM0 114h1v1h-1zM0 115h1v1h-1zM1 116h1v1h-1zM0 117h1v1h-1zM1 118h1v1h-1zM0 123h1v1h-1zM0 124h1v1h-1zM0 128h1v1h-1zM0 130h1v1h-1zM0 133h1v1h-1zM0 135h1v1h-1zM0 141h1v1h-1zM0 144h1v1h-1zM0 146h1v1h-1zM0 147h1v1h-1zM0 148h1v1h-1zM1 149h1v1h-1z"/><path fill="#0020ff" d="M2 2h1v1h-1zM2 6h1v1h-1zM2 7h1v1h-1zM2 8h1v1h-1zM2 14h2v1h-2zM2 17h2v1h-2zM2 22h2v1h-2zM3 24h1v1h-1zM2 25h1v1h-1zM2 28h2v1h-2zM3 30h1v1h-1zM3 32h1v1h-1zM1 33h1v1h-1zM3 38h1v1h-1zM3 41h1v1h-1zM3 45h1v1h-1zM2 47h1v1h-1zM2 48h1v1h-1zM1 50h1v1h-1zM3 50h1v1h-1zM1 51h1v1h-1zM3 51h1v1h-1zM2 52h1v1h-1zM2 53h1v1h-1zM1 55h1v1h-1zM2 57h1v1h-1zM2 65h2v1h-2zM2 66h1v1h-1zM3 69h1v1h-1zM2 75h1v1h-1zM3 77h1v1h-1zM3 78h1v1h-1zM2 80h2v1h-2zM3 89h1v1h-1zM2 91h2v1h-2zM2 93h1v1h-1zM2 97h1v1h-1zM1 98h2v1h-2zM2 99h1v1h-1zM2 100h1v1h-1zM3 101h1v1h-1zM3 103h1v1h-1zM2 107h1v1h-1zM2 111h1v1h-1zM2 118h1v1h-1zM2 120h1v1h-1zM2 122h1v1h-1zM2 123h1v1h-1zM2 125h1v1h-1zM2 131h1v1h-1zM2 133h2v1h-2zM2 140h1v1h-1zM2 143h1v1h-1zM2 145h1v1h-1z"/><path fill="#0030ff" d="M3 2h2v1h-2zM4 9h1v1h-1zM2 12h1v1h-1zM3 16h1v1h-1zM3 21h1v1h-1zM2 23h1v1h-1zM4 25h1v1h-1zM2 26h1v1h-1zM2 27h1v1h-1zM2 36h1v1h-1zM3 44h1v1h-1zM3 47h1v1h-1zM3 48h1v1h-1zM3 52h1v1h-1zM2 55h1v1h-1zM2 56h1v1h-1zM2 59h1v1h-1zM2 63h1v1h-1zM3 67h1v1h-1zM3 70h1v1h-1zM2 73h1v1h-1zM4 86h1v1h-1zM2 88h2v1h-2zM3 90h1v1h-1zM2 96h1v1h-1zM4 100h1v1h-1zM3 104h1v1h-1zM3 107h1v1h-1zM3 108h1v1h-1zM1 110h1v1h-1zM1 114h1v1h-1zM3 116h1v1h-1zM2 119h1v1h-1zM2 121h1v1h-1zM2 126h1v1h-1zM2 136h1v1h-1zM2 139h1v1h-1zM2 141h1v1h-1zM3 142h1v1h-1zM3 145h1v1h-1z"/><path fill="#00bfff" d="M6 2h2v1h-2zM7 10h1v1h-1zM6 11h1v1h-1zM7 12h1v1h-1zM5 15h1v1h-1zM7 15h1v1h-1zM7 16h1v1h-1zM6 18h1v1h-1zM5 20h1v1h-1zM7 20h1v1h-1zM7 22h1v1h-1zM6 24h1v1h-1zM6 30h1v1h-1zM6 31h1v1h-1zM7 33h1v1h-1zM6 36h2v1h-2zM6 39h1v1h-1zM6 40h1v1h-1zM7 41h1v1h-1zM7 44h1v1h-1zM6 45h2v1h-2zM6 48h1v1h-1zM8 48h1v1h-1zM7 50h1v1h-1zM5 51h1v1h-1zM7 53h1v1h-1zM7 56h1v1h-1zM6 57h1v1h-1zM5 58h1v1h-1zM7 61h1v1h-1zM5 65h1v1h-1zM7 65h2v1h-2zM7 66h1v1h-1zM5 69h1v1h-1zM7 69h2v1h-2zM8 73h1v1h-1zM5 75h1v1h-1zM5 77h1v1h-1zM5 78h1v1h-1zM7 80h1v1h-1zM6 84h1v1h-1zM5 86h1v1h-1zM7 86h1v1h-1zM6 87h1v1h-1zM8 87h1v1h-1zM6 91h1v1h-1zM5 92h1v1h-1zM6 95h1v1h-1zM7 98h1v1h-1zM6 100h2v1h-2zM7 106h1v1h-1zM7 108h1v1h-1zM6 110h1v1h-1zM8 112h1v1h-1zM7 114h1v1h-1zM7 115h1v1h-1zM5 119h1v1h-1zM7 119h1v1h-1zM6 120h2v1h-2zM7 121h1v1h-1zM7 126h1v1h-1zM5 128h1v1h-1zM6 137h1v1h-1zM6 138h1v1h-1zM8 139h1v1h-1zM7 145h1v1h-1zM7 147h1v1h-1z"/><path fill="#00ffff" d="M8 2h1v1h-1zM8 8h1v1h-1zM8 19h1v1h-1zM9 22h1v1h-1zM8 23h2v1h-2zM8 26h1v1h-1zM8 29h1v1h-1zM8 34h1v1h-1zM8 41h1v1h-1zM8 50h1v1h-1zM8 51h1v1h-1zM8 54h1v1h-1zM7 62h2v1h-2zM9 68h1v1h-1zM8 70h1v1h-1zM8 74h1v1h-1zM8 76h1v1h-1zM7 78h2v1h-2zM8 85h1v1h-1zM7 90h1v1h-1zM7 94h1v1h-1zM8 99h1v1h-1zM8 102h2v1h-2zM9 109h1v1h-1zM7 110h1v1h-1zM8 118h1v1h-1zM7 134h1v1h-1zM7 135h1v1h-1zM8 137h1v1h-1zM9 143h1v1h-1zM8 144h1v1h-1zM9 145h1v1h-1z"/><path fill="#40ffbf" d="M9 2h1v1h-1zM10 6h1v1h-1zM8 17h1v1h-1zM9 20h1v1h-1zM9 21h1v1h-1zM11 26h1v1h-1zM9 27h1v1h-1zM11 30h1v1h-1zM10 31h1v1h-1zM10 33h1v1h-1zM11 34h1v1h-1zM9 36h1v1h-1zM10 42h1v1h-1zM10 45h1v1h-1zM12 45h1v1h-1zM9 46h1v1h-1zM8 49h1v1h-1zM11 51h1v1h-1zM9 62h1v1h-1zM10 67h1v1h-1zM8 68h1v1h-1zM10 73h1v1h-1zM9 74h1v1h-1zM11 77h1v1h-1zM10 81h1v1h-1zM9 83h1v1h-1zM9 95h1v1h-1zM9 97h1v1h-1zM8 98h1v1h-1zM10 100h1v1h-1zM9 103h1v1h-1zM11 106h1v1h-1zM9 108h1v1h-1zM10 110h1v1h-1zM9 111h1v1h-1zM11 111h1v1h-1zM10 112h1v1h-1zM10 113h1v1h-1zM11 115h1v1h-1zM10 116h1v1h-1zM9 120h1v1h-1zM11 123h1v1h-1zM9 126h1v1h-1zM9 128h1v1h-1zM9 137h1v1h-1zM9 138h1v1h-1zM11 142h1v1h-1zM11 144h1v1h-1zM10 147h1v1h-1z"/><path fill="#80ff80" d="M11 2h1v1h-1zM12 3h1v1h-1zM10 7h1v1h-1zM9 10h1v1h-1zM11 22h1v1h-1zM10 23h1v1h-1zM10 25h2v1h-2zM12 31h1v1h-1zM12 32h1v1h-1zM12 35h1v1h-1zM12 40h1v1h-1zM10 44h1v1h-1zM10 47h1v1h-1zM10 52h1v1h-1zM9 54h2v1h-2zM9 55h1v1h-1zM10 56h1v1h-1zM10 58h1v1h-1zM9 59h1v1h-1zM9 61h1v1h-1zM10 63h2v1h-2zM11 68h1v1h-1zM11 70h1v1h-1zM13 71h1v1h-1zM10 75h1v1h-1zM10 77h1v1h-1zM11 79h1v1h-1zM12 81h1v1h-1zM11 84h1v1h-1zM12 85h1v1h-1zM10 86h1v1h-1zM9 89h1v1h-1zM10 91h1v1h-1zM9 94h1v1h-1zM10 95h1v1h-1zM10 97h1v1h-1zM12 99h1v1h-1zM11 102h2v1h-2zM11 103h1v1h-1zM11 105h1v1h-1zM11 110h1v1h-1zM12 113h1v1h-1zM12 115h2v1h-2zM11 117h2v1h-2zM10 119h1v1h-1zM10 121h2v1h-2zM10 125h2v1h-2zM9 127h1v1h-1zM11 127h1v1h-1zM10 130h2v1h-2zM10 133h1v1h-1zM12 137h1v1h-1zM10 138h1v1h-1zM12 138h1v1h-1zM11 145h1v1h-1zM11 147h1v1h-1zM12 148h1v1h-1zM11 149h1v1h-1z"/><path fill="#ffcf00" d="M15 2h1v1h-1zM16 4h1v1h-1zM14 10h1v1h-1zM13 13h1v1h-1zM13 17h1v1h-1zM15 19h1v1h-1zM14 20h1v1h-1zM15 22h1v1h-1zM14 24h1v1h-1zM14 28h1v1h-1zM16 31h1v1h-1zM17 32h1v1h-1zM14 33h1v1h-1zM14 34h1v1h-1zM17 34h1v1h-1zM16 40h1v1h-1zM17 42h1v1h-1zM14 43h1v1h-1zM15 44h1v1h-1zM14 48h1v1h-1zM14 51h1v1h-1zM12 52h1v1h-1zM13 55h1v1h-1zM13 59h1v1h-1zM16 64h1v1h-1zM14 75h1v1h-1zM15 80h1v1h-1zM15 85h1v1h-1zM13 86h1v1h-1zM12 95h1v1h-1zM13 103h1v1h-1zM15 103h1v1h-1zM16 104h2v1h-2zM16 107h1v1h-1zM16 109h1v1h-1zM13 121h1v1h-1zM15 123h1v1h-1zM13 125h1v1h-1zM13 130h1v1h-1zM13 132h1v1h-1zM15 134h1v1h-1zM13 135h1v1h-1zM14 136h1v1h-1zM16 140h1v1h-1zM15 146h1v1h-1z"/><path fill="#ff8000" d="M17 2h1v1h-1zM16 9h1v1h-1zM16 11h1v1h-1zM15 17h1v1h-1zM15 18h1v1h-1zM16 22h1v1h-1zM16 24h1v1h-1zM17 43h1v1h-1zM16 46h1v1h-1zM17 48h1v1h-1zM15 49h1v1h-1zM14 53h1v1h-1zM14 55h1v1h-1zM15 61h2v1h-2zM17 63h1v1h-1zM17 64h1v1h-1zM16 67h1v1h-1zM17 69h1v1h-1zM17 70h1v1h-1zM17 74h1v1h-1zM15 76h1v1h-1zM17 76h1v1h-1zM16 83h1v1h-1zM14 92h2v1h-2zM14 93h1v1h-1zM14 94h1v1h-1zM15 95h1v1h-1zM16 96h1v1h-1zM17 99h1v1h-1zM17 101h1v1h-1zM17 108h1v1h-1zM17 119h1v1h-1zM16 122h1v1h-1zM16 124h1v1h-1zM15 125h1v1h-1zM15 126h1v1h-1zM14 127h1v1h-1zM17 138h1v1h-1zM17 141h1v1h-1zM17 143h1v1h-1z"/><path fill="#0060ff" d="M5 3h1v1h-1zM4 5h1v1h-1zM3 6h1v1h-1zM4 7h1v1h-1zM4 8h1v1h-1zM3 12h1v1h-1zM5 12h1v1h-1zM3 15h1v1h-1zM3 23h1v1h-1zM4 28h1v1h-1zM4 31h1v1h-1zM3 34h2v1h-2zM4 37h1v1h-1zM5 40h1v1h-1zM4 41h1v1h-1zM3 42h2v1h-2zM5 43h1v1h-1zM4 46h1v1h-1zM4 54h1v1h-1zM4 56h1v1h-1zM4 57h1v1h-1zM5 59h1v1h-1zM4 62h1v1h-1zM5 63h1v1h-1zM5 66h1v1h-1zM5 70h1v1h-1zM3 72h1v1h-1zM4 74h1v1h-1zM4 77h1v1h-1zM4 80h1v1h-1zM6 80h1v1h-1zM3 81h1v1h-1zM4 85h1v1h-1zM3 87h1v1h-1zM4 88h1v1h-1zM3 92h2v1h-2zM3 94h1v1h-1zM4 99h1v1h-1zM4 104h1v1h-1zM4 108h1v1h-1zM4 112h1v1h-1zM3 114h3v1h-3zM4 117h2v1h-2zM5 122h1v1h-1zM3 123h1v1h-1zM4 124h1v1h-1zM4 125h1v1h-1zM4 131h1v1h-1zM4 132h1v1h-1zM4 137h1v1h-1zM3 141h1v1h-1zM3 146h1v1h-1zM3 147h1v1h-1z"/><path fill="#00dfff" d="M7 3h1v1h-1zM9 3h1v1h-1zM7 6h2v1h-2zM6 8h2v1h-2zM8 9h1v1h-1zM6 10h1v1h-1zM7 11h1v1h-1zM8 13h1v1h-1zM7 17h1v1h-1zM6 19h1v1h-1zM8 20h1v1h-1zM7 21h2v1h-2zM8 28h1v1h-1zM8 33h1v1h-1zM6 34h1v1h-1zM7 49h1v1h-1zM6 50h1v1h-1zM7 54h1v1h-1zM6 61h1v1h-1zM8 61h1v1h-1zM7 64h1v1h-1zM6 68h1v1h-1zM6 69h1v1h-1zM9 71h1v1h-1zM7 75h1v1h-1zM8 80h1v1h-1zM7 87h1v1h-1zM5 88h1v1h-1zM7 89h1v1h-1zM8 91h1v1h-1zM7 93h1v1h-1zM6 98h1v1h-1zM7 101h1v1h-1zM7 103h1v1h-1zM8 105h1v1h-1zM8 106h1v1h-1zM6 107h1v1h-1zM6 108h1v1h-1zM6 111h2v1h-2zM8 114h1v1h-1zM8 116h1v1h-1zM7 124h1v1h-1zM7 125h1v1h-1zM6 126h1v1h-1zM7 128h1v1h-1zM8 131h1v1h-1zM8 133h1v1h-1zM7 138h1v1h-1zM7 139h1v1h-1zM8 140h1v1h-1z"/><path fill="#50ffaf" d="M10 3h1v1h-1zM11 5h1v1h-1zM10 8h1v1h-1zM9 9h1v1h-1zM8 14h1v1h-1zM9 16h1v1h-1zM9 18h1v1h-1zM11 21h1v1h-1zM9 26h1v1h-1zM9 28h1v1h-1zM11 29h1v1h-1zM9 30h1v1h-1zM11 31h1v1h-1zM10 32h2v1h-2zM11 33h1v1h-1zM10 35h1v1h-1zM11 38h1v1h-1zM11 41h1v1h-1zM9 43h1v1h-1zM11 43h1v1h-1zM9 53h1v1h-1zM9 60h1v1h-1zM9 64h1v1h-1zM9 65h1v1h-1zM11 66h1v1h-1zM9 67h1v1h-1zM10 70h1v1h-1zM9 73h1v1h-1zM10 74h1v1h-1zM8 75h1v1h-1zM10 76h1v1h-1zM10 78h1v1h-1zM11 81h1v1h-1zM11 83h1v1h-1zM10 84h1v1h-1zM10 85h1v1h-1zM9 87h1v1h-1zM9 88h1v1h-1zM11 98h1v1h-1zM11 101h1v1h-1zM10 102h1v1h-1zM9 104h1v1h-1zM9 107h1v1h-1zM10 108h1v1h-1zM11 112h1v1h-1zM9 113h1v1h-1zM9 116h1v1h-1zM9 132h1v1h-1zM11 138h1v1h-1zM11 139h1v1h-1zM10 140h1v1h-1zM11 143h1v1h-1zM10 144h1v1h-1zM12 144h1v1h-1zM10 148h1v1h-1z"/><path fill="#bfff40" d="M13 3h1v1h-1zM12 5h3v1h-3zM13 6h1v1h-1zM11 7h2v1h-2zM12 8h1v1h-1zM12 12h1v1h-1zM10 14h1v1h-1zM12 17h1v1h-1zM14 26h1v1h-1zM12 27h2v1h-2zM13 29h1v1h-1zM13 30h1v1h-1zM13 31h1v1h-1zM12 41h1v1h-1zM14 45h1v1h-1zM12 50h1v1h-1zM12 60h1v1h-1zM13 66h1v1h-1zM13 68h1v1h-1zM17 68h1v1h-1zM13 70h1v1h-1zM14 71h1v1h-1zM16 71h1v1h-1zM12 75h1v1h-1zM16 77h1v1h-1zM12 78h1v1h-1zM13 81h1v1h-1zM13 87h1v1h-1zM10 88h1v1h-1zM11 89h1v1h-1zM11 90h1v1h-1zM12 97h1v1h-1zM14 112h1v1h-1zM13 114h1v1h-1zM13 117h1v1h-1zM10 122h1v1h-1zM14 122h1v1h-1zM10 129h1v1h-1zM12 136h1v1h-1zM13 137h1v1h-1z"/><path fill="#ffef00" d="M17 3h1v1h-1zM14 4h2v1h-2zM17 4h1v1h-1zM14 8h2v1h-2zM12 10h2v1h-2zM14 13h1v1h-1zM13 14h1v1h-1zM14 18h1v1h-1zM13 21h1v1h-1zM13 24h1v1h-1zM17 26h1v1h-1zM16 27h1v1h-1zM16 33h1v1h-1zM15 37h1v1h-1zM14 40h1v1h-1zM13 41h1v1h-1zM15 41h1v1h-1zM15 42h1v1h-1zM15 43h1v1h-1zM13 44h1v1h-1zM16 45h2v1h-2zM15 48h1v1h-1zM13 61h1v1h-1zM13 62h1v1h-1zM14 64h1v1h-1zM14 67h1v1h-1zM15 68h1v1h-1zM15 72h1v1h-1zM14 74h1v1h-1zM15 75h1v1h-1zM14 76h1v1h-1zM15 77h1v1h-1zM15 78h1v1h-1zM14 81h1v1h-1zM14 83h1v1h-1zM12 90h1v1h-1zM12 91h1v1h-1zM13 92h1v1h-1zM12 93h1v1h-1zM13 97h1v1h-1zM14 98h1v1h-1zM15 99h2v1h-2zM13 100h1v1h-1zM15 100h1v1h-1zM15 105h1v1h-1zM16 106h1v1h-1zM17 107h1v1h-1zM14 109h1v1h-1zM17 109h1v1h-1zM15 110h1v1h-1zM17 113h1v1h-1zM17 115h1v1h-1zM13 120h1v1h-1zM14 123h1v1h-1zM13 127h1v1h-1zM14 128h1v1h-1zM12 134h1v1h-1zM13 138h1v1h-1zM14 139h1v1h-1zM14 141h2v1h-2zM14 142h1v1h-1zM16 143h1v1h-1zM17 144h1v1h-1zM16 147h1v1h-1zM14 149h2v1h-2z"/><path fill="#00009f" d="M0 4h1v1h-1zM0 12h1v1h-1zM0 16h1v1h-1zM0 19h1v1h-1zM0 25h1v1h-1zM0 85h1v1h-1zM0 101h1v1h-1zM0 107h1v1h-1zM1 120h1v1h-1zM0 122h1v1h-1zM0 136h1v1h-1zM0 149h1v1h-1z"/><path fill="#00efff" d="M8 4h1v1h-1zM9 5h2v1h-2zM7 9h1v1h-1zM6 16h1v1h-1zM6 20h1v1h-1zM7 23h1v1h-1zM8 30h1v1h-1zM8 32h2v1h-2zM8 38h1v1h-1zM8 39h1v1h-1zM8 42h1v1h-1zM8 44h1v1h-1zM8 45h1v1h-1zM5 55h3v1h-3zM7 57h1v1h-1zM7 58h1v1h-1zM8 59h1v1h-1zM5 62h1v1h-1zM8 64h1v1h-1zM7 72h1v1h-1zM7 74h1v1h-1zM6 76h2v1h-2zM8 77h1v1h-1zM7 81h1v1h-1zM6 83h1v1h-1zM8 84h1v1h-1zM6 90h1v1h-1zM8 90h1v1h-1zM7 91h1v1h-1zM8 107h1v1h-1zM8 109h1v1h-1zM8 113h1v1h-1zM8 120h1v1h-1zM6 121h1v1h-1zM8 121h1v1h-1zM8 124h1v1h-1zM8 126h1v1h-1zM7 127h1v1h-1zM6 129h2v1h-2zM7 136h2v1h-2zM5 140h1v1h-1zM7 140h1v1h-1zM6 142h1v1h-1zM7 146h1v1h-1zM8 149h2v1h-2z"/><path fill="#dfff20" d="M12 4h1v1h-1zM12 14h1v1h-1zM12 15h1v1h-1zM13 18h1v1h-1zM12 19h1v1h-1zM13 25h1v1h-1zM16 26h1v1h-1zM13 28h1v1h-1zM14 30h2v1h-2zM15 32h1v1h-1zM13 34h1v1h-1zM15 35h1v1h-1zM14 38h2v1h-2zM12 46h1v1h-1zM12 48h1v1h-1zM12 49h1v1h-1zM11 52h1v1h-1zM12 57h1v1h-1zM12 59h1v1h-1zM14 69h1v1h-1zM14 70h1v1h-1zM14 72h1v1h-1zM13 74h1v1h-1zM16 76h1v1h-1zM13 83h1v1h-1zM12 84h1v1h-1zM12 88h1v1h-1zM12 98h1v1h-1zM12 100h1v1h-1zM13 101h2v1h-2zM13 106h1v1h-1zM14 107h1v1h-1zM15 108h1v1h-1zM14 115h1v1h-1zM13 116h1v1h-1zM15 117h1v1h-1zM13 119h1v1h-1zM13 122h1v1h-1zM12 127h1v1h-1zM12 133h1v1h-1zM13 136h1v1h-1zM13 139h1v1h-1zM13 140h1v1h-1zM15 147h1v1h-1z"/><path fill="#00cfff" d="M8 5h1v1h-1zM7 7h1v1h-1zM7 13h1v1h-1zM6 14h1v1h-1zM6 15h1v1h-1zM7 18h1v1h-1zM7 24h1v1h-1zM6 28h1v1h-1zM7 29h1v1h-1zM5 30h1v1h-1zM8 35h1v1h-1zM6 43h1v1h-1zM8 43h1v1h-1zM6 46h2v1h-2zM6 49h1v1h-1zM7 52h1v1h-1zM7 60h1v1h-1zM8 66h1v1h-1zM8 71h1v1h-1zM8 72h2v1h-2zM7 79h2v1h-2zM7 82h1v1h-1zM7 83h1v1h-1zM7 84h1v1h-1zM7 88h1v1h-1zM7 92h1v1h-1zM7 97h1v1h-1zM6 109h1v1h-1zM8 110h1v1h-1zM8 115h1v1h-1zM5 116h1v1h-1zM7 118h1v1h-1zM6 119h1v1h-1zM6 127h1v1h-1zM6 128h1v1h-1zM6 131h1v1h-1zM6 133h2v1h-2zM6 134h1v1h-1zM6 140h1v1h-1zM7 144h1v1h-1zM6 146h1v1h-1zM6 149h2v1h-2z"/><path fill="#ffaf00" d="M17 5h1v1h-1zM14 6h1v1h-1zM15 10h1v1h-1zM13 11h1v1h-1zM14 12h1v1h-1zM14 16h1v1h-1zM14 17h1v1h-1zM15 20h1v1h-1zM15 23h1v1h-1zM16 25h1v1h-1zM17 29h1v1h-1zM16 30h1v1h-1zM17 33h1v1h-1zM15 34h1v1h-1zM17 35h1v1h-1zM16 43h1v1h-1zM15 46h1v1h-1zM15 47h1v1h-1zM13 49h1v1h-1zM13 53h1v1h-1zM13 57h1v1h-1zM15 62h1v1h-1zM16 63h1v1h-1zM15 66h1v1h-1zM17 66h1v1h-1zM16 74h1v1h-1zM17 77h1v1h-1zM15 79h1v1h-1zM17 80h1v1h-1zM16 82h1v1h-1zM14 84h1v1h-1zM14 87h2v1h-2zM14 90h1v1h-1zM14 91h1v1h-1zM13 93h1v1h-1zM14 96h1v1h-1zM15 98h1v1h-1zM17 98h1v1h-1zM16 100h1v1h-1zM16 102h2v1h-2zM14 103h1v1h-1zM17 111h1v1h-1zM17 112h1v1h-1zM17 117h1v1h-1zM15 121h1v1h-1zM17 121h1v1h-1zM15 128h1v1h-1zM13 129h1v1h-1zM14 135h2v1h-2zM15 136h1v1h-1zM15 137h1v1h-1zM17 140h1v1h-1zM17 147h1v1h-1zM15 148h1v1h-1zM17 148h1v1h-1z"/><path fill="#008fff" d="M5 6h2v1h-2zM5 8h1v1h-1zM6 9h1v1h-1zM5 11h1v1h-1zM5 13h1v1h-1zM4 16h1v1h-1zM5 18h1v1h-1zM5 21h2v1h-2zM5 22h1v1h-1zM6 25h1v1h-1zM6 26h1v1h-1zM5 27h3v1h-3zM5 31h1v1h-1zM5 34h1v1h-1zM6 35h2v1h-2zM5 36h1v1h-1zM5 44h1v1h-1zM5 50h1v1h-1zM4 51h1v1h-1zM4 53h2v1h-2zM5 54h1v1h-1zM4 55h1v1h-1zM6 56h1v1h-1zM4 60h1v1h-1zM7 63h1v1h-1zM4 65h1v1h-1zM4 67h1v1h-1zM4 69h1v1h-1zM5 71h1v1h-1zM5 79h1v1h-1zM5 82h2v1h-2zM5 83h1v1h-1zM4 89h1v1h-1zM5 94h1v1h-1zM4 95h1v1h-1zM5 96h1v1h-1zM4 97h1v1h-1zM5 102h1v1h-1zM7 104h1v1h-1zM4 106h1v1h-1zM5 109h1v1h-1zM5 110h1v1h-1zM6 112h1v1h-1zM5 118h1v1h-1zM4 123h1v1h-1zM7 123h1v1h-1zM4 127h1v1h-1zM5 129h1v1h-1zM6 132h1v1h-1zM5 134h1v1h-1zM5 138h1v1h-1zM4 143h1v1h-1zM6 143h1v1h-1zM6 147h1v1h-1zM5 148h2v1h-2z"/><path fill="#afff50" d="M12 6h1v1h-1zM11 8h1v1h-1zM11 10h1v1h-1zM11 15h1v1h-1zM11 16h1v1h-1zM10 18h1v1h-1zM11 19h1v1h-1zM12 20h1v1h-1zM12 22h1v1h-1zM11 28h1v1h-1zM13 32h1v1h-1zM13 33h1v1h-1zM12 38h1v1h-1zM12 47h1v1h-1zM11 58h1v1h-1zM10 65h1v1h-1zM14 68h1v1h-1zM13 73h1v1h-1zM11 75h1v1h-1zM12 77h1v1h-1zM12 83h1v1h-1zM13 85h1v1h-1zM11 86h1v1h-1zM10 90h1v1h-1zM10 93h1v1h-1zM11 95h1v1h-1zM13 104h1v1h-1zM11 107h1v1h-1zM13 108h1v1h-1zM15 109h1v1h-1zM13 112h1v1h-1zM12 114h1v1h-1zM12 122h1v1h-1zM12 126h1v1h-1zM12 128h1v1h-1zM11 129h1v1h-1zM9 134h1v1h-1zM13 141h1v1h-1zM13 143h1v1h-1zM13 144h1v1h-1zM12 145h1v1h-1zM13 147h1v1h-1z"/><path fill="#ff6000" d="M17 6h1v1h-1zM15 7h1v1h-1zM15 14h1v1h-1zM17 18h1v1h-1zM17 20h1v1h-1zM17 21h1v1h-1zM17 22h1v1h-1zM17 36h1v1h-1zM16 51h1v1h-1zM15 56h2v1h-2zM16 59h1v1h-1zM16 62h1v1h-1zM17 85h1v1h-1zM14 88h1v1h-1zM14 89h2v1h-2zM15 93h1v1h-1zM17 118h1v1h-1zM15 130h1v1h-1zM14 131h1v1h-1zM17 133h1v1h-1zM16 136h1v1h-1zM17 137h1v1h-1z"/><path fill="#ff4000" d="M16 7h1v1h-1zM17 12h1v1h-1zM16 13h1v1h-1zM14 14h1v1h-1zM16 16h1v1h-1zM16 18h1v1h-1zM16 49h2v1h-2zM15 58h1v1h-1zM16 66h1v1h-1zM17 86h1v1h-1zM16 87h1v1h-1zM15 90h1v1h-1zM15 127h2v1h-2zM16 130h1v1h-1zM16 137h1v1h-1z"/><path fill="#ff2000" d="M17 7h1v1h-1zM16 50h1v1h-1zM17 54h1v1h-1zM15 57h2v1h-2zM16 60h1v1h-1zM17 82h1v1h-1zM16 91h1v1h-1zM16 93h1v1h-1zM17 96h1v1h-1zM17 122h1v1h-1zM16 126h2v1h-2zM17 128h1v1h-1zM16 131h1v1h-1zM16 132h2v1h-2z"/><path fill="#ff5000" d="M17 8h1v1h-1zM16 10h1v1h-1zM17 51h1v1h-1zM15 53h1v1h-1zM14 58h1v1h-1zM16 70h1v1h-1zM17 78h1v1h-1zM17 79h1v1h-1zM17 84h1v1h-1zM16 90h2v1h-2zM15 94h1v1h-1zM17 106h1v1h-1z"/><path fill="#ff1000" d="M17 9h1v1h-1zM17 13h1v1h-1zM17 16h1v1h-1zM16 17h2v1h-2zM15 52h2v1h-2zM16 53h1v1h-1zM17 56h1v1h-1zM17 59h1v1h-1zM16 94h1v1h-1zM16 95h1v1h-1zM16 97h1v1h-1zM17 103h1v1h-1zM16 125h1v1h-1zM16 134h1v1h-1z"/><path fill="#df0000" d="M17 10h1v1h-1zM16 14h1v1h-1zM17 58h1v1h-1zM17 94h1v1h-1zM16 129h1v1h-1zM17 134h1v1h-1z"/><path fill="#ff7000" d="M15 11h1v1h-1zM15 15h1v1h-1zM16 19h1v1h-1zM16 20h1v1h-1zM16 21h1v1h-1zM16 23h1v1h-1zM17 25h1v1h-1zM16 34h1v1h-1zM16 44h2v1h-2zM14 57h1v1h-1zM15 60h1v1h-1zM17 61h1v1h-1zM14 95h1v1h-1zM15 96h1v1h-1zM16 98h1v1h-1zM16 116h1v1h-1zM17 120h1v1h-1zM17 124h1v1h-1zM14 129h1v1h-1zM16 135h1v1h-1z"/><path fill="#ff0000" d="M17 11h1v1h-1zM17 14h1v1h-1zM16 15h1v1h-1zM17 23h1v1h-1zM16 54h1v1h-1zM16 58h1v1h-1zM15 91h1v1h-1zM17 97h1v1h-1z"/><path fill="#ff3000" d="M16 12h1v1h-1zM17 19h1v1h-1zM17 50h1v1h-1zM15 54h1v1h-1zM15 55h1v1h-1zM17 62h1v1h-1zM16 79h1v1h-1zM16 86h1v1h-1zM15 88h1v1h-1zM16 89h1v1h-1zM15 97h1v1h-1zM16 128h1v1h-1zM15 129h1v1h-1zM15 131h1v1h-1z"/><path fill="#9f0000" d="M17 15h1v1h-1zM16 55h1v1h-1zM17 57h1v1h-1z"/><path fill="#ef0000" d="M17 52h1v1h-1zM17 53h1v1h-1zM17 55h1v1h-1zM17 60h1v1h-1zM16 88h1v1h-1zM16 92h1v1h-1z"/><path fill="#af0000" d="M17 88h1v1h-1zM17 92h1v1h-1zM17 93h1v1h-1zM17 127h1v1h-1zM17 130h1v1h-1zM17 131h1v1h-1z"/><path fill="#bf0000" d="M17 89h1v1h-1zM17 91h1v1h-1zM17 135h1v1h-1z"/><path fill="#cf0000" d="M17 95h1v1h-1z"/><path fill="#8f0000" d="M17 125h1v1h-1zM17 129h1v1h-1z"/></svg><div class="edge"></div><div class="ledge"></div></div><div class="ax" style="left:222px;top:16px;width:18.5px;height:150px"><svg width="18.5" height="150" viewBox="0 0 1 64" preserveAspectRatio="none" shape-rendering="crispEdges" style="position:absolute;left:0;top:0"><rect x="0" y="0" width="1" height="1" fill="#800000"/><rect x="0" y="1" width="1" height="1" fill="#8f0000"/><rect x="0" y="2" width="1" height="1" fill="#9f0000"/><rect x="0" y="3" width="1" height="1" fill="#af0000"/><rect x="0" y="4" width="1" height="1" fill="#bf0000"/><rect x="0" y="5" width="1" height="1" fill="#cf0000"/><rect x="0" y="6" width="1" height="1" fill="#df0000"/><rect x="0" y="7" width="1" height="1" fill="#ef0000"/><rect x="0" y="8" width="1" height="1" fill="#ff0000"/><rect x="0" y="9" width="1" height="1" fill="#ff1000"/><rect x="0" y="10" width="1" height="1" fill="#ff2000"/><rect x="0" y="11" width="1" height="1" fill="#ff3000"/><rect x="0" y="12" width="1" height="1" fill="#ff4000"/><rect x="0" y="13" width="1" height="1" fill="#ff5000"/><rect x="0" y="14" width="1" height="1" fill="#ff6000"/><rect x="0" y="15" width="1" height="1" fill="#ff7000"/><rect x="0" y="16" width="1" height="1" fill="#ff8000"/><rect x="0" y="17" width="1" height="1" fill="#ff8f00"/><rect x="0" y="18" width="1" height="1" fill="#ff9f00"/><rect x="0" y="19" width="1" height="1" fill="#ffaf00"/><rect x="0" y="20" width="1" height="1" fill="#ffbf00"/><rect x="0" y="21" width="1" height="1" fill="#ffcf00"/><rect x="0" y="22" width="1" height="1" fill="#ffdf00"/><rect x="0" y="23" width="1" height="1" fill="#ffef00"/><rect x="0" y="24" width="1" height="1" fill="#ffff00"/><rect x="0" y="25" width="1" height="1" fill="#efff10"/><rect x="0" y="26" width="1" height="1" fill="#dfff20"/><rect x="0" y="27" width="1" height="1" fill="#cfff30"/><rect x="0" y="28" width="1" height="1" fill="#bfff40"/><rect x="0" y="29" width="1" height="1" fill="#afff50"/><rect x="0" y="30" width="1" height="1" fill="#9fff60"/><rect x="0" y="31" width="1" height="1" fill="#8fff70"/><rect x="0" y="32" width="1" height="1" fill="#80ff80"/><rect x="0" y="33" width="1" height="1" fill="#70ff8f"/><rect x="0" y="34" width="1" height="1" fill="#60ff9f"/><rect x="0" y="35" width="1" height="1" fill="#50ffaf"/><rect x="0" y="36" width="1" height="1" fill="#40ffbf"/><rect x="0" y="37" width="1" height="1" fill="#30ffcf"/><rect x="0" y="38" width="1" height="1" fill="#20ffdf"/><rect x="0" y="39" width="1" height="1" fill="#10ffef"/><rect x="0" y="40" width="1" height="1" fill="#00ffff"/><rect x="0" y="41" width="1" height="1" fill="#00efff"/><rect x="0" y="42" width="1" height="1" fill="#00dfff"/><rect x="0" y="43" width="1" height="1" fill="#00cfff"/><rect x="0" y="44" width="1" height="1" fill="#00bfff"/><rect x="0" y="45" width="1" height="1" fill="#00afff"/><rect x="0" y="46" width="1" height="1" fill="#009fff"/><rect x="0" y="47" width="1" height="1" fill="#008fff"/><rect x="0" y="48" width="1" height="1" fill="#0080ff"/><rect x="0" y="49" width="1" height="1" fill="#0070ff"/><rect x="0" y="50" width="1" height="1" fill="#0060ff"/><rect x="0" y="51" width="1" height="1" fill="#0050ff"/><rect x="0" y="52" width="1" height="1" fill="#0040ff"/><rect x="0" y="53" width="1" height="1" fill="#0030ff"/><rect x="0" y="54" width="1" height="1" fill="#0020ff"/><rect x="0" y="55" width="1" height="1" fill="#0010ff"/><rect x="0" y="56" width="1" height="1" fill="#0000ff"/><rect x="0" y="57" width="1" height="1" fill="#0000ef"/><rect x="0" y="58" width="1" height="1" fill="#0000df"/><rect x="0" y="59" width="1" height="1" fill="#0000cf"/><rect x="0" y="60" width="1" height="1" fill="#0000bf"/><rect x="0" y="61" width="1" height="1" fill="#0000af"/><rect x="0" y="62" width="1" height="1" fill="#00009f"/><rect x="0" y="63" width="1" height="1" fill="#00008f"/></svg><div class="box"></div></div><div class="lab" style="left:122.35px;top:1.6999999999999993px">Average RMS error of wind speed, m/s</div><div class="lab" style="left:122.35px;top:184.9px">Wind speed, m/s</div><div class="ylab" style="left:10.2px;top:91.2px">Wind direction, deg.</div><div class="xt" style="left:66.01666666666667px;top:170.8px">5</div><div class="xt" style="left:113.2111111111111px;top:170.8px">10</div><div class="xt" style="left:160.40555555555557px;top:170.8px">15</div><div class="xt" style="left:207.60000000000002px;top:170.8px">20</div><div class="yt" style="right:516.5px;top:160.9px">0</div><div class="yt" style="right:516.5px;top:142.1px">45</div><div class="yt" style="right:516.5px;top:123.30000000000001px">90</div><div class="yt" style="right:516.5px;top:104.5px">135</div><div class="yt" style="right:516.5px;top:85.7px">180</div><div class="yt" style="right:516.5px;top:66.9px">225</div><div class="yt" style="right:516.5px;top:48.099999999999994px">270</div><div class="yt" style="right:516.5px;top:29.30000000000001px">315</div><div class="yt" style="right:516.5px;top:10.5px">360</div><div class="ctk" style="left:238.3px;top:148.8px"></div><div class="ct" style="left:244.0px;top:143.8px">0.02</div><div class="ctk" style="left:238.3px;top:129.8px"></div><div class="ct" style="left:244.0px;top:124.80000000000001px">0.04</div><div class="ctk" style="left:238.3px;top:110.9px"></div><div class="ct" style="left:244.0px;top:105.9px">0.06</div><div class="ctk" style="left:238.3px;top:91.9px"></div><div class="ct" style="left:244.0px;top:86.9px">0.08</div><div class="ctk" style="left:238.3px;top:72.9px"></div><div class="ct" style="left:244.0px;top:67.9px">0.1</div><div class="ctk" style="left:238.3px;top:54.0px"></div><div class="ct" style="left:244.0px;top:49.0px">0.12</div><div class="ctk" style="left:238.3px;top:35.1px"></div><div class="ct" style="left:244.0px;top:30.1px">0.14</div><div class="ax" style="left:328.4px;top:16px;width:171.0px;height:150.6px"><svg width="171.0" height="150.6" viewBox="0 0 18 150" preserveAspectRatio="none" shape-rendering="crispEdges" style="position:absolute;left:0;top:0;filter:blur(0.35px)"><path fill="#9fff60" d="M0 0h1v1h-1zM0 46h1v1h-1zM0 133h1v1h-1z"/><path fill="#00bfff" d="M1 0h1v1h-1zM2 2h1v1h-1zM2 4h1v1h-1zM1 5h1v1h-1zM3 6h1v1h-1zM3 8h1v1h-1zM1 9h1v1h-1zM2 20h1v1h-1zM1 28h1v1h-1zM1 29h1v1h-1zM1 30h1v1h-1zM3 37h1v1h-1zM2 41h1v1h-1zM2 44h1v1h-1zM4 46h1v1h-1zM1 49h1v1h-1zM1 50h2v1h-2zM2 51h1v1h-1zM2 55h1v1h-1zM1 56h1v1h-1zM1 57h1v1h-1zM3 57h1v1h-1zM2 58h1v1h-1zM1 62h1v1h-1zM1 66h1v1h-1zM2 69h1v1h-1zM3 70h1v1h-1zM1 72h2v1h-2zM1 74h1v1h-1zM2 75h1v1h-1zM2 77h1v1h-1zM1 80h1v1h-1zM2 81h1v1h-1zM1 82h1v1h-1zM2 87h1v1h-1zM1 89h1v1h-1zM1 90h1v1h-1zM1 96h1v1h-1zM2 98h1v1h-1zM1 109h1v1h-1zM2 111h1v1h-1zM1 112h1v1h-1zM2 113h1v1h-1zM3 114h1v1h-1zM1 115h1v1h-1zM2 116h1v1h-1zM1 121h1v1h-1zM2 122h1v1h-1zM2 123h1v1h-1zM2 125h1v1h-1zM1 126h1v1h-1zM2 127h1v1h-1zM3 128h1v1h-1zM2 139h1v1h-1zM1 145h1v1h-1z"/><path fill="#009fff" d="M2 0h1v1h-1zM1 2h1v1h-1zM5 2h1v1h-1zM2 3h2v1h-2zM2 5h1v1h-1zM2 8h1v1h-1zM1 10h1v1h-1zM3 13h1v1h-1zM3 14h1v1h-1zM2 15h1v1h-1zM3 17h2v1h-2zM3 18h1v1h-1zM5 25h1v1h-1zM2 26h1v1h-1zM8 27h1v1h-1zM2 29h1v1h-1zM3 30h1v1h-1zM2 31h1v1h-1zM6 31h1v1h-1zM5 32h1v1h-1zM2 36h1v1h-1zM2 37h1v1h-1zM2 40h1v1h-1zM1 42h2v1h-2zM4 45h1v1h-1zM3 47h1v1h-1zM2 49h1v1h-1zM1 51h1v1h-1zM2 52h1v1h-1zM3 54h1v1h-1zM2 57h1v1h-1zM7 58h1v1h-1zM1 60h1v1h-1zM2 61h1v1h-1zM4 62h1v1h-1zM1 63h2v1h-2zM2 64h1v1h-1zM2 65h1v1h-1zM2 66h1v1h-1zM8 66h1v1h-1zM2 67h1v1h-1zM4 69h1v1h-1zM4 70h1v1h-1zM4 71h1v1h-1zM3 74h1v1h-1zM1 75h1v1h-1zM2 76h1v1h-1zM1 78h1v1h-1zM1 84h1v1h-1zM1 86h1v1h-1zM1 87h1v1h-1zM5 88h1v1h-1zM4 92h1v1h-1zM3 93h1v1h-1zM2 95h1v1h-1zM4 95h1v1h-1zM8 95h1v1h-1zM2 97h1v1h-1zM3 98h1v1h-1zM5 98h1v1h-1zM1 99h2v1h-2zM2 100h1v1h-1zM7 102h1v1h-1zM1 103h1v1h-1zM3 104h1v1h-1zM1 105h1v1h-1zM1 106h2v1h-2zM4 109h1v1h-1zM3 111h2v1h-2zM2 115h1v1h-1zM3 118h1v1h-1zM4 122h1v1h-1zM4 126h1v1h-1zM2 130h1v1h-1zM2 131h1v1h-1zM4 131h1v1h-1zM2 132h1v1h-1zM2 134h1v1h-1zM5 134h1v1h-1zM1 135h1v1h-1zM3 135h1v1h-1zM1 136h1v1h-1zM5 136h1v1h-1zM1 137h1v1h-1zM3 138h1v1h-1zM3 141h1v1h-1zM1 143h1v1h-1zM1 144h3v1h-3zM2 145h2v1h-2zM3 146h1v1h-1zM1 148h2v1h-2z"/><path fill="#0080ff" d="M3 0h2v1h-2zM8 3h1v1h-1zM4 6h2v1h-2zM3 7h1v1h-1zM5 9h1v1h-1zM3 10h2v1h-2zM4 11h1v1h-1zM13 11h1v1h-1zM4 13h1v1h-1zM9 13h1v1h-1zM11 13h1v1h-1zM4 14h1v1h-1zM6 14h1v1h-1zM5 15h1v1h-1zM13 15h1v1h-1zM6 16h1v1h-1zM5 17h1v1h-1zM4 18h1v1h-1zM3 19h1v1h-1zM7 19h1v1h-1zM10 19h1v1h-1zM8 21h1v1h-1zM2 22h1v1h-1zM7 22h1v1h-1zM9 22h1v1h-1zM3 23h1v1h-1zM2 24h1v1h-1zM6 24h2v1h-2zM3 26h1v1h-1zM1 27h1v1h-1zM2 28h1v1h-1zM6 28h1v1h-1zM4 29h1v1h-1zM7 30h1v1h-1zM2 32h1v1h-1zM4 32h1v1h-1zM9 32h1v1h-1zM5 34h1v1h-1zM7 34h1v1h-1zM4 35h1v1h-1zM5 36h1v1h-1zM1 37h1v1h-1zM4 39h1v1h-1zM8 39h1v1h-1zM11 45h1v1h-1zM3 46h1v1h-1zM5 46h1v1h-1zM6 47h1v1h-1zM4 49h1v1h-1zM12 49h1v1h-1zM4 51h1v1h-1zM6 51h1v1h-1zM4 52h1v1h-1zM8 52h1v1h-1zM4 53h2v1h-2zM10 54h1v1h-1zM2 59h1v1h-1zM6 59h1v1h-1zM11 60h1v1h-1zM4 65h3v1h-3zM4 66h1v1h-1zM3 67h1v1h-1zM5 67h1v1h-1zM11 68h1v1h-1zM6 71h1v1h-1zM3 72h1v1h-1zM2 73h1v1h-1zM4 74h1v1h-1zM3 75h3v1h-3zM7 76h1v1h-1zM2 78h2v1h-2zM2 79h2v1h-2zM5 79h1v1h-1zM2 80h1v1h-1zM3 81h1v1h-1zM7 82h1v1h-1zM6 83h1v1h-1zM4 86h1v1h-1zM3 87h1v1h-1zM7 87h1v1h-1zM11 88h1v1h-1zM5 89h1v1h-1zM12 89h1v1h-1zM3 90h1v1h-1zM3 91h1v1h-1zM5 91h2v1h-2zM9 91h1v1h-1zM2 92h2v1h-2zM13 92h1v1h-1zM3 94h3v1h-3zM5 95h1v1h-1zM4 96h2v1h-2zM5 97h1v1h-1zM8 98h1v1h-1zM6 100h1v1h-1zM2 101h1v1h-1zM4 101h2v1h-2zM5 102h1v1h-1zM2 104h1v1h-1zM4 104h1v1h-1zM5 105h1v1h-1zM3 106h1v1h-1zM5 106h1v1h-1zM11 106h1v1h-1zM7 107h1v1h-1zM6 108h1v1h-1zM2 110h1v1h-1zM4 110h2v1h-2zM16 112h1v1h-1zM3 113h1v1h-1zM6 113h1v1h-1zM3 115h1v1h-1zM7 115h1v1h-1zM3 116h1v1h-1zM5 118h1v1h-1zM6 119h1v1h-1zM2 120h1v1h-1zM9 123h1v1h-1zM5 124h1v1h-1zM4 125h1v1h-1zM7 125h1v1h-1zM13 126h1v1h-1zM7 128h1v1h-1zM5 129h1v1h-1zM4 130h1v1h-1zM7 130h1v1h-1zM3 131h1v1h-1zM4 132h1v1h-1zM3 133h1v1h-1zM4 134h1v1h-1zM4 135h2v1h-2zM8 135h1v1h-1zM3 137h1v1h-1zM9 137h1v1h-1zM1 138h2v1h-2zM1 141h1v1h-1zM5 142h1v1h-1zM9 142h1v1h-1zM3 143h2v1h-2zM5 144h1v1h-1zM8 147h1v1h-1zM3 148h1v1h-1zM1 149h1v1h-1zM4 149h1v1h-1z"/><path fill="#0070ff" d="M5 0h1v1h-1zM10 0h1v1h-1zM3 1h4v1h-4zM8 2h1v1h-1zM3 4h1v1h-1zM6 4h2v1h-2zM9 4h1v1h-1zM8 5h1v1h-1zM8 6h2v1h-2zM11 9h1v1h-1zM14 9h1v1h-1zM5 10h2v1h-2zM15 11h1v1h-1zM4 12h2v1h-2zM7 12h1v1h-1zM10 14h1v1h-1zM6 15h1v1h-1zM11 15h1v1h-1zM4 16h1v1h-1zM13 17h1v1h-1zM11 18h1v1h-1zM4 19h1v1h-1zM5 20h2v1h-2zM3 21h1v1h-1zM7 21h1v1h-1zM3 22h1v1h-1zM3 25h1v1h-1zM12 25h1v1h-1zM4 26h2v1h-2zM7 26h1v1h-1zM4 27h1v1h-1zM15 27h1v1h-1zM4 28h2v1h-2zM7 28h1v1h-1zM5 29h1v1h-1zM5 30h1v1h-1zM11 30h1v1h-1zM5 31h1v1h-1zM11 31h1v1h-1zM3 32h1v1h-1zM8 32h1v1h-1zM3 33h1v1h-1zM4 36h1v1h-1zM4 37h2v1h-2zM4 38h2v1h-2zM8 38h1v1h-1zM3 39h1v1h-1zM10 39h1v1h-1zM5 40h2v1h-2zM14 40h1v1h-1zM4 41h1v1h-1zM4 42h2v1h-2zM11 44h1v1h-1zM12 45h1v1h-1zM1 46h1v1h-1zM11 46h1v1h-1zM8 47h1v1h-1zM11 47h1v1h-1zM5 48h1v1h-1zM8 48h1v1h-1zM5 49h1v1h-1zM4 50h1v1h-1zM12 50h1v1h-1zM6 52h1v1h-1zM9 52h1v1h-1zM13 52h1v1h-1zM7 53h1v1h-1zM10 53h1v1h-1zM6 55h1v1h-1zM8 55h1v1h-1zM4 56h2v1h-2zM4 57h1v1h-1zM6 57h1v1h-1zM9 57h1v1h-1zM5 58h1v1h-1zM8 59h1v1h-1zM10 59h2v1h-2zM5 60h1v1h-1zM8 60h1v1h-1zM4 61h1v1h-1zM6 61h1v1h-1zM3 62h1v1h-1zM4 63h1v1h-1zM8 63h2v1h-2zM3 64h2v1h-2zM3 66h1v1h-1zM5 66h1v1h-1zM4 67h1v1h-1zM6 67h2v1h-2zM9 67h1v1h-1zM11 67h1v1h-1zM2 68h1v1h-1zM8 68h1v1h-1zM11 69h1v1h-1zM11 71h1v1h-1zM4 72h1v1h-1zM6 72h2v1h-2zM9 72h1v1h-1zM7 74h1v1h-1zM11 74h1v1h-1zM8 75h1v1h-1zM4 76h1v1h-1zM5 77h1v1h-1zM7 77h1v1h-1zM4 78h1v1h-1zM10 78h1v1h-1zM4 79h1v1h-1zM7 81h1v1h-1zM13 81h1v1h-1zM3 82h2v1h-2zM3 85h1v1h-1zM6 85h1v1h-1zM8 85h1v1h-1zM9 86h1v1h-1zM8 87h1v1h-1zM3 88h1v1h-1zM6 90h1v1h-1zM11 91h1v1h-1zM2 93h1v1h-1zM8 93h1v1h-1zM10 93h1v1h-1zM2 94h1v1h-1zM7 94h1v1h-1zM6 95h1v1h-1zM3 97h1v1h-1zM9 97h1v1h-1zM4 98h1v1h-1zM11 98h1v1h-1zM4 99h1v1h-1zM6 99h1v1h-1zM11 99h1v1h-1zM8 100h1v1h-1zM6 101h1v1h-1zM7 103h1v1h-1zM2 107h1v1h-1zM6 107h1v1h-1zM9 107h1v1h-1zM14 107h1v1h-1zM7 108h1v1h-1zM3 109h1v1h-1zM6 109h1v1h-1zM9 109h1v1h-1zM3 110h1v1h-1zM8 110h1v1h-1zM4 112h1v1h-1zM8 112h1v1h-1zM4 113h2v1h-2zM7 113h1v1h-1zM5 114h1v1h-1zM4 115h1v1h-1zM5 116h1v1h-1zM3 117h1v1h-1zM4 118h1v1h-1zM6 118h1v1h-1zM8 118h1v1h-1zM5 119h1v1h-1zM8 119h1v1h-1zM3 120h1v1h-1zM8 121h2v1h-2zM14 121h1v1h-1zM9 122h1v1h-1zM3 123h1v1h-1zM10 123h1v1h-1zM13 123h1v1h-1zM3 124h1v1h-1zM10 124h1v1h-1zM6 125h1v1h-1zM8 125h1v1h-1zM15 126h1v1h-1zM16 128h1v1h-1zM5 131h1v1h-1zM8 131h1v1h-1zM12 131h1v1h-1zM3 132h1v1h-1zM5 132h3v1h-3zM8 134h1v1h-1zM7 135h1v1h-1zM3 136h2v1h-2zM7 136h1v1h-1zM6 137h1v1h-1zM10 137h1v1h-1zM4 138h1v1h-1zM6 138h2v1h-2zM6 139h1v1h-1zM8 141h1v1h-1zM9 143h1v1h-1zM6 144h1v1h-1zM8 146h2v1h-2zM2 147h1v1h-1zM5 148h1v1h-1zM14 148h1v1h-1zM5 149h2v1h-2z"/><path fill="#0040ff" d="M6 0h1v1h-1zM13 0h1v1h-1zM17 0h1v1h-1zM12 1h1v1h-1zM7 2h1v1h-1zM14 2h1v1h-1zM11 3h1v1h-1zM16 3h1v1h-1zM5 4h1v1h-1zM10 4h3v1h-3zM12 6h1v1h-1zM14 6h1v1h-1zM4 7h1v1h-1zM9 7h1v1h-1zM15 8h2v1h-2zM4 9h1v1h-1zM9 9h1v1h-1zM7 10h1v1h-1zM11 10h1v1h-1zM17 10h1v1h-1zM15 12h2v1h-2zM12 14h1v1h-1zM9 15h1v1h-1zM12 15h1v1h-1zM16 15h1v1h-1zM9 16h1v1h-1zM13 16h1v1h-1zM17 16h1v1h-1zM8 18h1v1h-1zM10 18h1v1h-1zM16 18h2v1h-2zM14 19h2v1h-2zM9 20h1v1h-1zM13 20h1v1h-1zM16 21h1v1h-1zM9 23h1v1h-1zM11 23h1v1h-1zM14 23h1v1h-1zM10 24h1v1h-1zM13 24h2v1h-2zM6 25h2v1h-2zM10 26h1v1h-1zM7 27h1v1h-1zM10 27h1v1h-1zM11 28h2v1h-2zM12 29h1v1h-1zM13 30h1v1h-1zM6 32h1v1h-1zM9 33h1v1h-1zM13 33h1v1h-1zM9 34h1v1h-1zM16 34h2v1h-2zM8 35h1v1h-1zM11 35h1v1h-1zM13 35h1v1h-1zM10 36h1v1h-1zM13 36h2v1h-2zM17 37h1v1h-1zM6 38h1v1h-1zM13 38h1v1h-1zM6 39h1v1h-1zM11 39h1v1h-1zM17 39h1v1h-1zM8 40h2v1h-2zM7 41h2v1h-2zM12 41h1v1h-1zM14 41h1v1h-1zM6 42h3v1h-3zM14 42h1v1h-1zM11 43h2v1h-2zM14 43h1v1h-1zM16 43h2v1h-2zM9 44h1v1h-1zM9 46h1v1h-1zM5 47h1v1h-1zM7 47h1v1h-1zM16 47h1v1h-1zM14 48h1v1h-1zM17 48h1v1h-1zM3 49h1v1h-1zM6 49h1v1h-1zM8 49h1v1h-1zM10 49h1v1h-1zM14 49h1v1h-1zM8 50h1v1h-1zM10 50h1v1h-1zM14 50h1v1h-1zM10 51h1v1h-1zM15 51h1v1h-1zM11 52h1v1h-1zM14 52h1v1h-1zM8 53h2v1h-2zM15 53h1v1h-1zM8 54h2v1h-2zM11 54h1v1h-1zM17 54h1v1h-1zM7 55h1v1h-1zM17 55h1v1h-1zM7 56h1v1h-1zM11 56h1v1h-1zM14 56h1v1h-1zM4 58h1v1h-1zM6 58h1v1h-1zM15 58h1v1h-1zM7 59h1v1h-1zM7 60h1v1h-1zM10 60h1v1h-1zM14 60h1v1h-1zM17 60h1v1h-1zM8 62h1v1h-1zM12 62h4v1h-4zM10 63h1v1h-1zM13 63h1v1h-1zM16 63h2v1h-2zM5 64h1v1h-1zM11 64h1v1h-1zM12 65h2v1h-2zM16 65h1v1h-1zM10 66h1v1h-1zM13 66h1v1h-1zM16 66h1v1h-1zM16 67h1v1h-1zM5 68h1v1h-1zM13 68h1v1h-1zM5 69h2v1h-2zM8 69h1v1h-1zM15 69h2v1h-2zM7 70h1v1h-1zM5 71h1v1h-1zM5 72h1v1h-1zM8 72h1v1h-1zM8 73h1v1h-1zM6 74h1v1h-1zM8 74h1v1h-1zM10 74h1v1h-1zM15 74h1v1h-1zM16 75h1v1h-1zM9 76h1v1h-1zM6 77h1v1h-1zM8 78h1v1h-1zM15 78h1v1h-1zM7 79h2v1h-2zM10 79h1v1h-1zM12 79h1v1h-1zM4 80h1v1h-1zM9 80h1v1h-1zM11 80h2v1h-2zM8 81h2v1h-2zM15 81h1v1h-1zM13 82h1v1h-1zM10 83h1v1h-1zM6 84h2v1h-2zM16 84h2v1h-2zM11 85h1v1h-1zM13 85h1v1h-1zM13 86h1v1h-1zM15 86h1v1h-1zM4 87h1v1h-1zM11 87h3v1h-3zM6 88h1v1h-1zM12 88h1v1h-1zM6 89h3v1h-3zM11 89h1v1h-1zM14 89h1v1h-1zM5 90h1v1h-1zM9 90h1v1h-1zM11 90h1v1h-1zM13 90h1v1h-1zM16 90h1v1h-1zM15 91h2v1h-2zM8 92h1v1h-1zM16 93h1v1h-1zM6 94h1v1h-1zM9 94h1v1h-1zM13 94h1v1h-1zM15 96h1v1h-1zM15 97h1v1h-1zM9 98h1v1h-1zM12 98h1v1h-1zM14 98h1v1h-1zM7 99h1v1h-1zM14 99h1v1h-1zM16 99h1v1h-1zM17 100h1v1h-1zM8 101h1v1h-1zM11 101h1v1h-1zM9 102h1v1h-1zM6 103h1v1h-1zM5 104h3v1h-3zM10 104h1v1h-1zM13 104h2v1h-2zM17 104h1v1h-1zM6 106h1v1h-1zM8 106h1v1h-1zM10 106h1v1h-1zM14 106h1v1h-1zM10 107h1v1h-1zM17 107h1v1h-1zM13 108h1v1h-1zM12 109h1v1h-1zM14 109h1v1h-1zM7 110h1v1h-1zM13 110h1v1h-1zM11 111h1v1h-1zM7 112h1v1h-1zM14 112h1v1h-1zM17 113h1v1h-1zM11 114h1v1h-1zM13 114h1v1h-1zM15 114h1v1h-1zM6 115h1v1h-1zM10 115h2v1h-2zM13 115h1v1h-1zM17 115h1v1h-1zM6 116h1v1h-1zM9 116h1v1h-1zM9 118h1v1h-1zM12 118h2v1h-2zM17 118h1v1h-1zM4 119h1v1h-1zM11 119h1v1h-1zM15 119h1v1h-1zM8 120h1v1h-1zM6 121h1v1h-1zM12 121h1v1h-1zM15 121h1v1h-1zM5 122h1v1h-1zM7 122h1v1h-1zM8 124h1v1h-1zM13 124h1v1h-1zM15 124h1v1h-1zM3 126h1v1h-1zM5 126h1v1h-1zM8 126h1v1h-1zM14 126h1v1h-1zM5 127h1v1h-1zM7 127h1v1h-1zM10 127h1v1h-1zM17 127h1v1h-1zM8 128h1v1h-1zM10 128h1v1h-1zM6 129h1v1h-1zM8 129h1v1h-1zM12 130h1v1h-1zM7 131h1v1h-1zM10 131h2v1h-2zM17 131h1v1h-1zM11 132h1v1h-1zM13 132h1v1h-1zM8 133h2v1h-2zM11 133h1v1h-1zM13 133h1v1h-1zM10 134h2v1h-2zM13 134h1v1h-1zM9 135h3v1h-3zM15 135h1v1h-1zM6 136h1v1h-1zM9 136h1v1h-1zM4 137h1v1h-1zM8 137h1v1h-1zM13 137h1v1h-1zM9 138h1v1h-1zM12 138h2v1h-2zM5 139h1v1h-1zM7 139h2v1h-2zM7 140h1v1h-1zM11 140h1v1h-1zM12 141h1v1h-1zM14 141h1v1h-1zM6 142h2v1h-2zM12 142h1v1h-1zM15 142h1v1h-1zM17 142h1v1h-1zM12 143h2v1h-2zM16 143h1v1h-1zM9 144h1v1h-1zM14 144h1v1h-1zM12 145h1v1h-1zM10 146h2v1h-2zM5 147h1v1h-1zM11 147h2v1h-2zM6 148h1v1h-1zM9 148h1v1h-1zM13 148h1v1h-1zM17 148h1v1h-1zM7 149h1v1h-1zM10 149h1v1h-1z"/><path fill="#008fff" d="M7 0h1v1h-1zM2 1h1v1h-1zM7 1h1v1h-1zM10 2h1v1h-1zM1 3h1v1h-1zM8 4h1v1h-1zM1 7h1v1h-1zM1 8h1v1h-1zM3 11h1v1h-1zM7 11h1v1h-1zM3 12h1v1h-1zM6 12h1v1h-1zM5 14h1v1h-1zM3 16h1v1h-1zM5 16h1v1h-1zM11 19h1v1h-1zM4 20h1v1h-1zM7 20h1v1h-1zM4 22h2v1h-2zM5 23h2v1h-2zM3 27h1v1h-1zM5 27h1v1h-1zM3 28h1v1h-1zM3 31h1v1h-1zM3 34h2v1h-2zM6 34h1v1h-1zM2 35h2v1h-2zM1 36h1v1h-1zM3 36h1v1h-1zM6 36h1v1h-1zM2 38h1v1h-1zM2 39h1v1h-1zM3 40h2v1h-2zM3 41h1v1h-1zM5 43h1v1h-1zM4 44h1v1h-1zM6 45h1v1h-1zM3 48h2v1h-2zM3 51h1v1h-1zM3 53h1v1h-1zM4 54h1v1h-1zM3 55h1v1h-1zM3 56h1v1h-1zM7 57h1v1h-1zM3 58h1v1h-1zM3 59h1v1h-1zM2 60h1v1h-1zM3 61h1v1h-1zM5 61h1v1h-1zM5 62h1v1h-1zM1 65h1v1h-1zM3 65h1v1h-1zM10 67h1v1h-1zM3 68h1v1h-1zM3 69h1v1h-1zM3 71h1v1h-1zM1 73h1v1h-1zM6 73h1v1h-1zM3 76h1v1h-1zM4 77h1v1h-1zM7 78h1v1h-1zM3 80h1v1h-1zM1 83h2v1h-2zM5 83h1v1h-1zM3 84h1v1h-1zM5 85h1v1h-1zM3 86h1v1h-1zM4 88h1v1h-1zM2 91h1v1h-1zM7 92h1v1h-1zM4 93h1v1h-1zM8 94h1v1h-1zM7 96h1v1h-1zM3 100h1v1h-1zM2 103h3v1h-3zM1 104h1v1h-1zM3 105h2v1h-2zM5 107h1v1h-1zM5 108h1v1h-1zM2 112h1v1h-1zM6 114h1v1h-1zM1 116h1v1h-1zM2 117h1v1h-1zM5 117h1v1h-1zM7 117h1v1h-1zM3 119h1v1h-1zM3 121h3v1h-3zM7 121h1v1h-1zM2 124h1v1h-1zM3 125h1v1h-1zM5 125h1v1h-1zM4 129h1v1h-1zM3 134h1v1h-1zM3 139h2v1h-2zM3 140h2v1h-2zM5 145h1v1h-1zM2 146h1v1h-1zM4 146h3v1h-3zM3 147h2v1h-2zM7 147h1v1h-1zM15 147h1v1h-1zM4 148h1v1h-1zM3 149h1v1h-1z"/><path fill="#0060ff" d="M8 0h1v1h-1zM11 0h1v1h-1zM8 1h2v1h-2zM4 2h1v1h-1zM12 2h2v1h-2zM5 3h2v1h-2zM4 4h1v1h-1zM14 4h1v1h-1zM4 5h2v1h-2zM6 6h1v1h-1zM11 6h1v1h-1zM17 6h1v1h-1zM7 7h1v1h-1zM6 8h3v1h-3zM10 8h1v1h-1zM3 9h1v1h-1zM14 10h1v1h-1zM6 11h1v1h-1zM5 13h1v1h-1zM8 13h1v1h-1zM3 15h2v1h-2zM7 16h1v1h-1zM11 16h1v1h-1zM8 17h1v1h-1zM11 17h1v1h-1zM5 18h1v1h-1zM9 18h1v1h-1zM8 20h1v1h-1zM6 21h1v1h-1zM4 23h1v1h-1zM7 23h1v1h-1zM12 23h1v1h-1zM3 24h2v1h-2zM8 24h1v1h-1zM12 24h1v1h-1zM4 25h1v1h-1zM6 26h1v1h-1zM6 27h1v1h-1zM11 27h1v1h-1zM8 28h1v1h-1zM17 28h1v1h-1zM6 29h2v1h-2zM9 29h1v1h-1zM4 31h1v1h-1zM7 31h2v1h-2zM16 31h1v1h-1zM12 32h1v1h-1zM2 33h1v1h-1zM5 33h1v1h-1zM10 34h1v1h-1zM6 37h1v1h-1zM12 37h1v1h-1zM3 38h1v1h-1zM7 38h1v1h-1zM7 40h1v1h-1zM11 40h1v1h-1zM6 41h1v1h-1zM11 41h1v1h-1zM3 42h1v1h-1zM9 42h1v1h-1zM3 43h1v1h-1zM6 43h1v1h-1zM8 43h1v1h-1zM10 43h1v1h-1zM5 44h2v1h-2zM14 44h1v1h-1zM16 44h1v1h-1zM3 45h1v1h-1zM5 45h1v1h-1zM9 45h2v1h-2zM7 46h1v1h-1zM4 47h1v1h-1zM10 47h1v1h-1zM6 48h1v1h-1zM7 49h1v1h-1zM7 50h1v1h-1zM5 51h1v1h-1zM7 51h1v1h-1zM11 51h1v1h-1zM7 52h1v1h-1zM11 53h1v1h-1zM6 54h2v1h-2zM4 55h2v1h-2zM9 56h1v1h-1zM13 56h1v1h-1zM14 57h1v1h-1zM16 57h1v1h-1zM5 59h1v1h-1zM6 60h1v1h-1zM9 61h1v1h-1zM6 62h1v1h-1zM9 62h1v1h-1zM11 62h1v1h-1zM7 63h1v1h-1zM11 63h1v1h-1zM6 64h2v1h-2zM9 64h1v1h-1zM7 65h1v1h-1zM6 66h1v1h-1zM14 66h1v1h-1zM4 68h1v1h-1zM10 68h1v1h-1zM9 69h1v1h-1zM12 69h1v1h-1zM6 70h1v1h-1zM8 70h1v1h-1zM10 70h1v1h-1zM15 70h1v1h-1zM5 73h1v1h-1zM7 73h1v1h-1zM10 73h2v1h-2zM10 75h1v1h-1zM12 76h1v1h-1zM6 78h1v1h-1zM5 80h1v1h-1zM7 80h2v1h-2zM10 80h1v1h-1zM5 81h2v1h-2zM14 81h1v1h-1zM5 82h2v1h-2zM8 82h1v1h-1zM8 84h1v1h-1zM4 85h1v1h-1zM7 85h1v1h-1zM9 85h1v1h-1zM7 86h2v1h-2zM6 87h1v1h-1zM9 87h1v1h-1zM16 87h1v1h-1zM7 88h1v1h-1zM9 88h1v1h-1zM17 88h1v1h-1zM3 89h1v1h-1zM4 90h1v1h-1zM4 91h1v1h-1zM10 91h1v1h-1zM6 92h1v1h-1zM11 92h1v1h-1zM6 93h2v1h-2zM7 95h1v1h-1zM3 96h1v1h-1zM7 97h1v1h-1zM12 97h1v1h-1zM3 99h1v1h-1zM5 99h1v1h-1zM5 100h1v1h-1zM11 100h1v1h-1zM3 101h1v1h-1zM7 101h1v1h-1zM12 101h2v1h-2zM4 102h1v1h-1zM8 102h1v1h-1zM11 102h1v1h-1zM5 103h1v1h-1zM8 104h1v1h-1zM11 105h1v1h-1zM4 107h1v1h-1zM8 107h1v1h-1zM8 108h1v1h-1zM14 108h1v1h-1zM17 109h1v1h-1zM6 110h1v1h-1zM16 110h1v1h-1zM7 111h1v1h-1zM5 112h2v1h-2zM9 112h2v1h-2zM10 113h1v1h-1zM4 114h1v1h-1zM7 114h1v1h-1zM4 116h1v1h-1zM14 116h1v1h-1zM6 117h1v1h-1zM10 117h1v1h-1zM13 117h1v1h-1zM9 119h1v1h-1zM4 120h2v1h-2zM9 120h1v1h-1zM14 120h1v1h-1zM11 121h1v1h-1zM8 122h1v1h-1zM4 123h1v1h-1zM6 123h1v1h-1zM8 123h1v1h-1zM16 123h1v1h-1zM4 124h1v1h-1zM13 125h1v1h-1zM9 126h1v1h-1zM5 128h2v1h-2zM7 129h1v1h-1zM14 129h2v1h-2zM3 130h1v1h-1zM6 130h1v1h-1zM8 130h2v1h-2zM6 131h1v1h-1zM14 131h1v1h-1zM4 133h1v1h-1zM7 134h1v1h-1zM6 135h1v1h-1zM16 135h1v1h-1zM8 136h1v1h-1zM5 137h1v1h-1zM11 138h1v1h-1zM10 139h2v1h-2zM16 139h1v1h-1zM10 140h1v1h-1zM12 140h1v1h-1zM14 140h1v1h-1zM5 141h1v1h-1zM3 142h2v1h-2zM10 142h1v1h-1zM5 143h1v1h-1zM7 143h1v1h-1zM4 144h1v1h-1zM4 145h1v1h-1zM8 145h1v1h-1zM14 146h1v1h-1zM6 147h1v1h-1zM9 147h1v1h-1zM8 148h1v1h-1zM10 148h2v1h-2zM15 148h1v1h-1zM8 149h2v1h-2zM11 149h1v1h-1zM14 149h2v1h-2z"/><path fill="#0050ff" d="M9 0h1v1h-1zM11 1h1v1h-1zM3 2h1v1h-1zM4 3h1v1h-1zM9 3h1v1h-1zM15 4h1v1h-1zM6 5h1v1h-1zM12 5h1v1h-1zM7 6h1v1h-1zM13 6h1v1h-1zM8 7h1v1h-1zM10 7h2v1h-2zM4 8h1v1h-1zM7 9h2v1h-2zM13 9h1v1h-1zM8 10h1v1h-1zM5 11h1v1h-1zM9 11h2v1h-2zM10 12h1v1h-1zM7 13h1v1h-1zM13 13h1v1h-1zM7 14h1v1h-1zM11 14h1v1h-1zM7 15h2v1h-2zM8 16h1v1h-1zM10 16h1v1h-1zM6 17h2v1h-2zM10 17h1v1h-1zM7 18h1v1h-1zM12 18h2v1h-2zM5 19h1v1h-1zM8 19h2v1h-2zM13 19h1v1h-1zM4 21h2v1h-2zM9 21h1v1h-1zM6 22h1v1h-1zM8 22h1v1h-1zM10 22h1v1h-1zM12 22h1v1h-1zM10 23h1v1h-1zM16 23h1v1h-1zM5 24h1v1h-1zM8 25h1v1h-1zM11 25h1v1h-1zM8 26h2v1h-2zM9 28h1v1h-1zM16 28h1v1h-1zM11 29h1v1h-1zM13 29h1v1h-1zM15 29h1v1h-1zM14 32h1v1h-1zM7 33h2v1h-2zM17 33h1v1h-1zM8 34h1v1h-1zM11 34h1v1h-1zM5 35h2v1h-2zM10 35h1v1h-1zM12 35h1v1h-1zM7 36h2v1h-2zM8 37h2v1h-2zM11 37h1v1h-1zM13 37h1v1h-1zM9 38h1v1h-1zM5 39h1v1h-1zM7 39h1v1h-1zM9 39h1v1h-1zM15 39h1v1h-1zM9 41h2v1h-2zM4 43h1v1h-1zM7 43h1v1h-1zM7 44h1v1h-1zM10 44h1v1h-1zM7 45h1v1h-1zM13 45h1v1h-1zM6 46h1v1h-1zM12 46h1v1h-1zM15 46h1v1h-1zM9 47h1v1h-1zM12 47h2v1h-2zM17 47h1v1h-1zM10 48h1v1h-1zM12 48h1v1h-1zM15 49h1v1h-1zM5 50h1v1h-1zM9 50h1v1h-1zM13 50h1v1h-1zM3 52h1v1h-1zM5 52h1v1h-1zM15 52h1v1h-1zM5 54h1v1h-1zM12 54h1v1h-1zM14 55h1v1h-1zM8 56h1v1h-1zM12 56h1v1h-1zM15 56h1v1h-1zM5 57h1v1h-1zM8 57h1v1h-1zM8 58h2v1h-2zM13 58h1v1h-1zM4 59h1v1h-1zM16 59h1v1h-1zM3 60h1v1h-1zM7 61h1v1h-1zM10 61h1v1h-1zM14 61h1v1h-1zM5 63h1v1h-1zM8 64h1v1h-1zM8 65h1v1h-1zM7 66h1v1h-1zM11 66h1v1h-1zM15 66h1v1h-1zM6 68h2v1h-2zM12 68h1v1h-1zM7 69h1v1h-1zM13 69h1v1h-1zM5 70h1v1h-1zM11 70h2v1h-2zM17 70h1v1h-1zM7 71h4v1h-4zM15 71h1v1h-1zM9 73h1v1h-1zM13 73h1v1h-1zM15 73h2v1h-2zM9 74h1v1h-1zM6 75h1v1h-1zM9 75h1v1h-1zM15 75h1v1h-1zM6 76h1v1h-1zM8 76h1v1h-1zM3 77h1v1h-1zM12 77h1v1h-1zM5 78h1v1h-1zM9 78h1v1h-1zM6 79h1v1h-1zM6 80h1v1h-1zM13 80h1v1h-1zM4 81h1v1h-1zM10 81h1v1h-1zM4 83h1v1h-1zM7 83h2v1h-2zM11 83h1v1h-1zM13 83h2v1h-2zM4 84h1v1h-1zM15 84h1v1h-1zM15 85h1v1h-1zM6 86h1v1h-1zM11 86h1v1h-1zM5 87h1v1h-1zM17 87h1v1h-1zM8 88h1v1h-1zM10 88h1v1h-1zM14 88h1v1h-1zM13 89h1v1h-1zM12 90h1v1h-1zM8 91h1v1h-1zM17 92h1v1h-1zM5 93h1v1h-1zM9 93h1v1h-1zM10 94h1v1h-1zM3 95h1v1h-1zM9 95h2v1h-2zM17 95h1v1h-1zM6 96h1v1h-1zM8 96h2v1h-2zM4 97h1v1h-1zM6 97h1v1h-1zM10 97h2v1h-2zM7 98h1v1h-1zM12 99h1v1h-1zM4 100h1v1h-1zM9 100h1v1h-1zM16 100h1v1h-1zM9 101h1v1h-1zM16 101h2v1h-2zM6 102h1v1h-1zM12 102h1v1h-1zM10 103h3v1h-3zM6 105h3v1h-3zM13 105h1v1h-1zM7 106h1v1h-1zM9 106h1v1h-1zM13 106h1v1h-1zM12 107h2v1h-2zM4 108h1v1h-1zM9 108h1v1h-1zM12 108h1v1h-1zM5 109h1v1h-1zM7 109h1v1h-1zM6 111h1v1h-1zM8 111h1v1h-1zM12 111h1v1h-1zM14 111h2v1h-2zM17 111h1v1h-1zM11 112h1v1h-1zM8 113h2v1h-2zM11 113h1v1h-1zM9 114h1v1h-1zM12 114h1v1h-1zM5 115h1v1h-1zM8 115h2v1h-2zM15 115h1v1h-1zM7 116h1v1h-1zM11 116h2v1h-2zM4 117h1v1h-1zM8 117h1v1h-1zM15 117h1v1h-1zM7 118h1v1h-1zM10 118h1v1h-1zM7 119h1v1h-1zM10 119h1v1h-1zM6 120h2v1h-2zM10 120h1v1h-1zM6 122h1v1h-1zM10 122h1v1h-1zM13 122h1v1h-1zM5 123h1v1h-1zM7 123h1v1h-1zM15 123h1v1h-1zM6 124h2v1h-2zM16 124h1v1h-1zM10 125h2v1h-2zM11 126h1v1h-1zM3 127h2v1h-2zM11 127h1v1h-1zM9 128h1v1h-1zM17 128h1v1h-1zM11 129h2v1h-2zM10 130h2v1h-2zM16 130h2v1h-2zM9 131h1v1h-1zM15 131h1v1h-1zM9 132h1v1h-1zM14 132h1v1h-1zM6 133h1v1h-1zM6 134h1v1h-1zM14 134h2v1h-2zM17 135h1v1h-1zM11 136h1v1h-1zM13 136h2v1h-2zM8 138h1v1h-1zM10 138h1v1h-1zM6 140h1v1h-1zM9 140h1v1h-1zM6 141h1v1h-1zM9 141h1v1h-1zM11 141h1v1h-1zM11 142h1v1h-1zM11 144h1v1h-1zM13 144h1v1h-1zM10 145h1v1h-1zM7 148h1v1h-1z"/><path fill="#0030ff" d="M12 0h1v1h-1zM10 1h1v1h-1zM14 1h4v1h-4zM16 2h1v1h-1zM7 3h1v1h-1zM14 3h1v1h-1zM13 4h1v1h-1zM10 5h2v1h-2zM13 5h2v1h-2zM6 7h1v1h-1zM13 7h1v1h-1zM5 8h1v1h-1zM9 8h1v1h-1zM11 8h1v1h-1zM14 8h1v1h-1zM6 9h1v1h-1zM10 9h1v1h-1zM15 9h1v1h-1zM17 9h1v1h-1zM9 10h2v1h-2zM12 10h1v1h-1zM16 11h1v1h-1zM8 12h2v1h-2zM11 12h2v1h-2zM12 13h1v1h-1zM15 13h1v1h-1zM17 13h1v1h-1zM8 14h1v1h-1zM13 14h3v1h-3zM12 16h1v1h-1zM9 17h1v1h-1zM6 18h1v1h-1zM14 18h2v1h-2zM6 19h1v1h-1zM16 19h1v1h-1zM11 20h1v1h-1zM14 20h1v1h-1zM17 20h1v1h-1zM11 21h1v1h-1zM13 21h1v1h-1zM15 21h1v1h-1zM11 22h1v1h-1zM16 22h1v1h-1zM9 24h1v1h-1zM11 24h1v1h-1zM9 25h2v1h-2zM14 25h2v1h-2zM14 26h1v1h-1zM17 26h1v1h-1zM9 27h1v1h-1zM13 27h2v1h-2zM13 28h2v1h-2zM8 29h1v1h-1zM10 29h1v1h-1zM14 29h1v1h-1zM17 29h1v1h-1zM4 30h1v1h-1zM6 30h1v1h-1zM9 30h1v1h-1zM17 30h1v1h-1zM9 31h2v1h-2zM14 31h1v1h-1zM10 32h1v1h-1zM13 32h1v1h-1zM15 32h1v1h-1zM6 33h1v1h-1zM10 33h3v1h-3zM12 34h1v1h-1zM15 34h1v1h-1zM15 35h1v1h-1zM17 35h1v1h-1zM11 36h1v1h-1zM7 37h1v1h-1zM12 38h1v1h-1zM17 38h1v1h-1zM12 39h1v1h-1zM16 39h1v1h-1zM13 40h1v1h-1zM11 42h1v1h-1zM13 42h1v1h-1zM16 42h1v1h-1zM3 44h1v1h-1zM8 44h1v1h-1zM8 46h1v1h-1zM14 46h1v1h-1zM16 46h2v1h-2zM7 48h1v1h-1zM9 48h1v1h-1zM9 49h1v1h-1zM11 49h1v1h-1zM9 51h1v1h-1zM12 51h2v1h-2zM10 52h1v1h-1zM6 53h1v1h-1zM12 53h1v1h-1zM14 53h1v1h-1zM13 54h2v1h-2zM9 55h1v1h-1zM16 55h1v1h-1zM6 56h1v1h-1zM10 56h1v1h-1zM10 57h2v1h-2zM13 57h1v1h-1zM11 58h1v1h-1zM9 59h1v1h-1zM13 59h1v1h-1zM15 59h1v1h-1zM12 60h2v1h-2zM17 61h1v1h-1zM7 62h1v1h-1zM10 62h1v1h-1zM6 63h1v1h-1zM15 63h1v1h-1zM10 64h1v1h-1zM13 64h1v1h-1zM9 65h1v1h-1zM11 65h1v1h-1zM14 65h1v1h-1zM9 66h1v1h-1zM17 66h1v1h-1zM12 67h1v1h-1zM14 67h1v1h-1zM14 68h1v1h-1zM16 68h2v1h-2zM10 69h1v1h-1zM9 70h1v1h-1zM13 70h1v1h-1zM13 71h1v1h-1zM17 71h1v1h-1zM14 72h2v1h-2zM17 72h1v1h-1zM4 73h1v1h-1zM14 73h1v1h-1zM17 74h1v1h-1zM10 76h2v1h-2zM13 76h1v1h-1zM16 77h1v1h-1zM11 78h1v1h-1zM14 78h1v1h-1zM11 79h1v1h-1zM17 79h1v1h-1zM14 80h1v1h-1zM16 80h1v1h-1zM11 81h2v1h-2zM16 81h1v1h-1zM14 82h1v1h-1zM16 82h1v1h-1zM9 83h1v1h-1zM12 83h1v1h-1zM15 83h2v1h-2zM13 84h2v1h-2zM16 85h1v1h-1zM5 86h1v1h-1zM14 86h1v1h-1zM14 87h1v1h-1zM13 88h1v1h-1zM4 89h1v1h-1zM9 89h1v1h-1zM7 90h2v1h-2zM10 90h1v1h-1zM14 90h2v1h-2zM12 91h1v1h-1zM9 92h1v1h-1zM12 92h1v1h-1zM14 92h2v1h-2zM11 93h1v1h-1zM17 93h1v1h-1zM14 94h2v1h-2zM14 95h2v1h-2zM13 96h1v1h-1zM13 97h1v1h-1zM16 97h1v1h-1zM6 98h1v1h-1zM8 99h1v1h-1zM10 99h1v1h-1zM14 100h1v1h-1zM10 102h1v1h-1zM14 102h1v1h-1zM13 103h1v1h-1zM16 103h1v1h-1zM14 105h1v1h-1zM16 105h2v1h-2zM11 108h1v1h-1zM8 109h1v1h-1zM13 109h1v1h-1zM10 110h2v1h-2zM17 110h1v1h-1zM13 112h1v1h-1zM16 113h1v1h-1zM10 114h1v1h-1zM16 114h1v1h-1zM12 115h1v1h-1zM10 116h1v1h-1zM11 117h2v1h-2zM13 119h2v1h-2zM16 119h1v1h-1zM12 120h1v1h-1zM17 121h1v1h-1zM12 122h1v1h-1zM15 122h2v1h-2zM11 123h1v1h-1zM14 125h2v1h-2zM7 126h1v1h-1zM17 126h1v1h-1zM6 127h1v1h-1zM8 127h1v1h-1zM14 127h1v1h-1zM11 128h2v1h-2zM5 130h1v1h-1zM15 130h1v1h-1zM13 131h1v1h-1zM16 131h1v1h-1zM16 132h1v1h-1zM10 133h1v1h-1zM9 134h1v1h-1zM12 135h2v1h-2zM7 137h1v1h-1zM17 137h1v1h-1zM5 138h1v1h-1zM14 138h1v1h-1zM17 138h1v1h-1zM9 139h1v1h-1zM14 139h1v1h-1zM13 140h1v1h-1zM15 140h1v1h-1zM7 141h1v1h-1zM10 141h1v1h-1zM15 141h1v1h-1zM13 142h1v1h-1zM8 143h1v1h-1zM14 143h1v1h-1zM8 144h1v1h-1zM10 144h1v1h-1zM7 145h1v1h-1zM15 145h1v1h-1zM7 146h1v1h-1zM17 146h1v1h-1zM13 147h2v1h-2zM16 149h1v1h-1z"/><path fill="#0010ff" d="M14 0h1v1h-1zM6 2h1v1h-1zM9 2h1v1h-1zM10 3h1v1h-1zM15 3h1v1h-1zM17 3h1v1h-1zM16 4h2v1h-2zM14 7h1v1h-1zM16 7h1v1h-1zM12 8h1v1h-1zM13 10h1v1h-1zM8 11h1v1h-1zM12 11h1v1h-1zM6 13h1v1h-1zM10 13h1v1h-1zM17 14h1v1h-1zM14 15h1v1h-1zM17 17h1v1h-1zM12 20h1v1h-1zM14 22h1v1h-1zM13 23h1v1h-1zM17 24h1v1h-1zM13 26h1v1h-1zM15 26h1v1h-1zM12 27h1v1h-1zM16 27h1v1h-1zM15 28h1v1h-1zM16 29h1v1h-1zM10 30h1v1h-1zM12 30h1v1h-1zM12 31h1v1h-1zM17 32h1v1h-1zM14 33h1v1h-1zM13 34h1v1h-1zM7 35h1v1h-1zM9 35h1v1h-1zM15 36h1v1h-1zM15 37h1v1h-1zM16 38h1v1h-1zM13 39h1v1h-1zM13 41h1v1h-1zM15 43h1v1h-1zM15 44h1v1h-1zM17 45h1v1h-1zM13 46h1v1h-1zM14 47h2v1h-2zM11 48h1v1h-1zM13 48h1v1h-1zM6 50h1v1h-1zM11 50h1v1h-1zM17 50h1v1h-1zM14 51h1v1h-1zM17 51h1v1h-1zM12 52h1v1h-1zM10 55h1v1h-1zM13 55h1v1h-1zM15 57h1v1h-1zM12 58h1v1h-1zM16 58h2v1h-2zM14 59h1v1h-1zM9 60h1v1h-1zM15 60h1v1h-1zM8 61h1v1h-1zM13 61h1v1h-1zM15 61h1v1h-1zM16 62h2v1h-2zM12 63h1v1h-1zM14 63h1v1h-1zM12 64h1v1h-1zM14 64h1v1h-1zM12 66h1v1h-1zM8 67h1v1h-1zM15 67h1v1h-1zM17 67h1v1h-1zM14 71h1v1h-1zM12 72h1v1h-1zM17 73h1v1h-1zM14 75h1v1h-1zM14 76h1v1h-1zM16 76h1v1h-1zM10 77h1v1h-1zM13 77h3v1h-3zM17 77h1v1h-1zM13 78h1v1h-1zM9 79h1v1h-1zM13 79h1v1h-1zM15 79h1v1h-1zM17 80h1v1h-1zM9 82h1v1h-1zM11 82h1v1h-1zM17 82h1v1h-1zM9 84h1v1h-1zM11 84h2v1h-2zM10 85h1v1h-1zM12 85h1v1h-1zM14 85h1v1h-1zM10 86h1v1h-1zM16 86h1v1h-1zM7 91h1v1h-1zM13 91h1v1h-1zM17 91h1v1h-1zM15 93h1v1h-1zM11 94h1v1h-1zM16 94h2v1h-2zM16 95h1v1h-1zM11 96h1v1h-1zM8 97h1v1h-1zM10 98h1v1h-1zM13 98h1v1h-1zM15 98h1v1h-1zM17 99h1v1h-1zM10 101h1v1h-1zM13 102h1v1h-1zM16 102h1v1h-1zM8 103h2v1h-2zM17 103h1v1h-1zM12 104h1v1h-1zM16 104h1v1h-1zM15 106h1v1h-1zM17 106h1v1h-1zM17 108h1v1h-1zM9 110h1v1h-1zM14 110h2v1h-2zM10 111h1v1h-1zM14 113h1v1h-1zM8 114h1v1h-1zM14 115h1v1h-1zM16 115h1v1h-1zM8 116h1v1h-1zM17 117h1v1h-1zM14 118h1v1h-1zM16 118h1v1h-1zM11 120h1v1h-1zM13 120h1v1h-1zM17 123h1v1h-1zM12 125h1v1h-1zM16 125h1v1h-1zM16 126h1v1h-1zM12 127h1v1h-1zM16 127h1v1h-1zM13 129h1v1h-1zM17 129h1v1h-1zM10 132h1v1h-1zM12 133h1v1h-1zM16 133h2v1h-2zM14 135h1v1h-1zM16 136h2v1h-2zM11 137h2v1h-2zM16 138h1v1h-1zM13 139h1v1h-1zM17 140h1v1h-1zM17 141h1v1h-1zM16 142h1v1h-1zM10 143h1v1h-1zM17 145h1v1h-1zM16 146h1v1h-1zM12 148h1v1h-1z"/><path fill="#0020ff" d="M15 0h1v1h-1zM13 1h1v1h-1zM15 2h1v1h-1zM12 3h2v1h-2zM7 5h1v1h-1zM9 5h1v1h-1zM16 5h1v1h-1zM10 6h1v1h-1zM5 7h1v1h-1zM17 7h1v1h-1zM13 8h1v1h-1zM17 8h1v1h-1zM16 9h1v1h-1zM15 10h1v1h-1zM11 11h1v1h-1zM14 11h1v1h-1zM17 11h1v1h-1zM13 12h2v1h-2zM17 12h1v1h-1zM16 13h1v1h-1zM9 14h1v1h-1zM16 14h1v1h-1zM10 15h1v1h-1zM15 15h1v1h-1zM17 15h1v1h-1zM14 16h1v1h-1zM12 17h1v1h-1zM14 17h3v1h-3zM12 19h1v1h-1zM17 19h1v1h-1zM10 20h1v1h-1zM16 20h1v1h-1zM10 21h1v1h-1zM12 21h1v1h-1zM17 21h1v1h-1zM13 22h1v1h-1zM17 22h1v1h-1zM8 23h1v1h-1zM15 23h1v1h-1zM17 23h1v1h-1zM15 24h1v1h-1zM16 25h2v1h-2zM11 26h2v1h-2zM17 27h1v1h-1zM10 28h1v1h-1zM8 30h1v1h-1zM14 30h1v1h-1zM16 30h1v1h-1zM13 31h1v1h-1zM15 31h1v1h-1zM7 32h1v1h-1zM16 32h1v1h-1zM15 33h2v1h-2zM14 35h1v1h-1zM16 35h1v1h-1zM16 36h1v1h-1zM10 37h1v1h-1zM10 38h1v1h-1zM14 38h2v1h-2zM14 39h1v1h-1zM10 40h1v1h-1zM15 40h1v1h-1zM17 40h1v1h-1zM15 41h2v1h-2zM15 42h1v1h-1zM9 43h1v1h-1zM13 43h1v1h-1zM12 44h2v1h-2zM17 44h1v1h-1zM8 45h1v1h-1zM14 45h3v1h-3zM16 48h1v1h-1zM16 50h1v1h-1zM16 51h1v1h-1zM16 52h1v1h-1zM16 53h1v1h-1zM16 54h1v1h-1zM11 55h1v1h-1zM15 55h1v1h-1zM16 56h2v1h-2zM12 57h1v1h-1zM10 58h1v1h-1zM14 58h1v1h-1zM12 59h1v1h-1zM16 60h1v1h-1zM11 61h1v1h-1zM16 61h1v1h-1zM15 64h3v1h-3zM10 65h1v1h-1zM15 65h1v1h-1zM17 65h1v1h-1zM13 67h1v1h-1zM9 68h1v1h-1zM14 69h1v1h-1zM16 70h1v1h-1zM16 71h1v1h-1zM13 72h1v1h-1zM16 72h1v1h-1zM12 73h1v1h-1zM12 74h2v1h-2zM16 74h1v1h-1zM7 75h1v1h-1zM17 75h1v1h-1zM5 76h1v1h-1zM8 77h2v1h-2zM11 77h1v1h-1zM12 78h1v1h-1zM16 78h2v1h-2zM14 79h1v1h-1zM15 80h1v1h-1zM10 82h1v1h-1zM12 82h1v1h-1zM15 82h1v1h-1zM17 83h1v1h-1zM10 84h1v1h-1zM12 86h1v1h-1zM17 86h1v1h-1zM15 87h1v1h-1zM15 88h2v1h-2zM10 89h1v1h-1zM16 89h1v1h-1zM12 93h2v1h-2zM12 95h2v1h-2zM10 96h1v1h-1zM12 96h1v1h-1zM14 96h1v1h-1zM14 97h1v1h-1zM17 97h1v1h-1zM17 98h1v1h-1zM9 99h1v1h-1zM13 99h1v1h-1zM10 100h1v1h-1zM13 100h1v1h-1zM14 101h2v1h-2zM15 103h1v1h-1zM9 104h1v1h-1zM9 105h2v1h-2zM15 105h1v1h-1zM16 106h1v1h-1zM11 107h1v1h-1zM16 107h1v1h-1zM10 108h1v1h-1zM15 108h1v1h-1zM11 109h1v1h-1zM15 109h2v1h-2zM12 110h1v1h-1zM13 111h1v1h-1zM16 111h1v1h-1zM12 112h1v1h-1zM15 112h1v1h-1zM17 112h1v1h-1zM13 113h1v1h-1zM15 113h1v1h-1zM14 114h1v1h-1zM17 114h1v1h-1zM13 116h1v1h-1zM15 116h1v1h-1zM14 117h1v1h-1zM16 117h1v1h-1zM11 118h1v1h-1zM15 118h1v1h-1zM12 119h1v1h-1zM17 119h1v1h-1zM15 120h3v1h-3zM10 121h1v1h-1zM13 121h1v1h-1zM16 121h1v1h-1zM11 122h1v1h-1zM14 122h1v1h-1zM12 123h1v1h-1zM14 123h1v1h-1zM9 124h1v1h-1zM12 124h1v1h-1zM9 125h1v1h-1zM17 125h1v1h-1zM6 126h1v1h-1zM10 126h1v1h-1zM12 126h1v1h-1zM9 127h1v1h-1zM13 127h1v1h-1zM15 127h1v1h-1zM14 128h1v1h-1zM9 129h2v1h-2zM16 129h1v1h-1zM13 130h2v1h-2zM12 132h1v1h-1zM17 132h1v1h-1zM7 133h1v1h-1zM14 133h1v1h-1zM12 134h1v1h-1zM16 134h2v1h-2zM10 136h1v1h-1zM12 136h1v1h-1zM15 137h2v1h-2zM15 138h1v1h-1zM12 139h1v1h-1zM15 139h1v1h-1zM8 140h1v1h-1zM16 141h1v1h-1zM8 142h1v1h-1zM14 142h1v1h-1zM6 143h1v1h-1zM7 144h1v1h-1zM15 144h1v1h-1zM17 144h1v1h-1zM6 145h1v1h-1zM9 145h1v1h-1zM11 145h1v1h-1zM13 145h2v1h-2zM16 145h1v1h-1zM13 146h1v1h-1zM16 147h1v1h-1zM16 148h1v1h-1zM13 149h1v1h-1zM17 149h1v1h-1z"/><path fill="#0000df" d="M16 0h1v1h-1zM14 13h1v1h-1zM17 31h1v1h-1zM17 52h1v1h-1zM17 76h1v1h-1zM17 90h1v1h-1zM14 93h1v1h-1zM16 96h1v1h-1zM16 108h1v1h-1zM9 111h1v1h-1zM16 116h2v1h-2zM12 146h1v1h-1z"/><path fill="#00dfff" d="M0 1h1v1h-1zM1 11h1v1h-1zM1 12h1v1h-1zM2 18h1v1h-1zM1 19h1v1h-1zM1 20h1v1h-1zM2 23h1v1h-1zM1 26h1v1h-1zM2 27h1v1h-1zM1 33h1v1h-1zM1 45h2v1h-2zM1 52h1v1h-1zM2 56h1v1h-1zM1 58h1v1h-1zM1 64h1v1h-1zM1 68h1v1h-1zM2 71h1v1h-1zM2 74h1v1h-1zM0 77h1v1h-1zM1 81h1v1h-1zM2 108h1v1h-1zM2 119h1v1h-1zM2 121h1v1h-1zM1 122h1v1h-1zM1 127h1v1h-1zM1 128h1v1h-1zM1 129h1v1h-1zM1 133h1v1h-1zM2 136h1v1h-1zM1 142h2v1h-2zM1 147h1v1h-1z"/><path fill="#00cfff" d="M1 1h1v1h-1zM1 6h1v1h-1zM2 9h1v1h-1zM2 12h1v1h-1zM1 13h1v1h-1zM2 14h1v1h-1zM1 15h1v1h-1zM1 18h1v1h-1zM2 21h1v1h-1zM1 25h1v1h-1zM1 31h1v1h-1zM1 32h1v1h-1zM1 35h1v1h-1zM1 38h1v1h-1zM5 41h1v1h-1zM1 43h2v1h-2zM1 44h1v1h-1zM1 53h1v1h-1zM1 61h1v1h-1zM1 67h1v1h-1zM1 70h1v1h-1zM1 71h1v1h-1zM3 73h1v1h-1zM1 76h1v1h-1zM1 77h1v1h-1zM1 79h1v1h-1zM2 85h1v1h-1zM1 92h1v1h-1zM1 93h1v1h-1zM1 94h1v1h-1zM1 100h1v1h-1zM7 100h1v1h-1zM1 107h1v1h-1zM1 113h1v1h-1zM2 118h1v1h-1zM1 119h1v1h-1zM1 120h1v1h-1zM1 123h1v1h-1zM1 124h1v1h-1zM2 129h1v1h-1zM5 133h1v1h-1zM1 134h1v1h-1zM2 143h1v1h-1z"/><path fill="#50ffaf" d="M0 2h1v1h-1zM0 31h1v1h-1zM0 42h1v1h-1zM0 83h1v1h-1zM0 104h1v1h-1zM0 143h1v1h-1z"/><path fill="#0000ef" d="M11 2h1v1h-1zM17 5h1v1h-1zM12 7h1v1h-1zM12 9h1v1h-1zM15 20h1v1h-1zM14 21h1v1h-1zM16 24h1v1h-1zM15 30h1v1h-1zM14 34h1v1h-1zM12 36h1v1h-1zM16 37h1v1h-1zM12 40h1v1h-1zM17 41h1v1h-1zM10 42h1v1h-1zM16 49h2v1h-2zM15 54h1v1h-1zM17 59h1v1h-1zM13 75h1v1h-1zM16 92h1v1h-1zM15 107h1v1h-1zM10 109h1v1h-1zM17 122h1v1h-1zM15 128h1v1h-1zM8 132h1v1h-1zM15 132h1v1h-1zM17 139h1v1h-1zM17 143h1v1h-1zM15 146h1v1h-1zM10 147h1v1h-1z"/><path fill="#0000ff" d="M17 2h1v1h-1zM15 5h1v1h-1zM15 6h2v1h-2zM15 7h1v1h-1zM16 10h1v1h-1zM15 16h2v1h-2zM15 22h1v1h-1zM13 25h1v1h-1zM16 26h1v1h-1zM11 32h1v1h-1zM9 36h1v1h-1zM17 36h1v1h-1zM14 37h1v1h-1zM11 38h1v1h-1zM16 40h1v1h-1zM12 42h1v1h-1zM17 42h1v1h-1zM10 46h1v1h-1zM15 48h1v1h-1zM13 49h1v1h-1zM15 50h1v1h-1zM8 51h1v1h-1zM13 53h1v1h-1zM17 53h1v1h-1zM12 55h1v1h-1zM17 57h1v1h-1zM12 61h1v1h-1zM15 68h1v1h-1zM17 69h1v1h-1zM14 70h1v1h-1zM12 71h1v1h-1zM10 72h2v1h-2zM14 74h1v1h-1zM11 75h2v1h-2zM16 79h1v1h-1zM17 81h1v1h-1zM17 85h1v1h-1zM10 87h1v1h-1zM15 89h1v1h-1zM17 89h1v1h-1zM14 91h1v1h-1zM10 92h1v1h-1zM12 94h1v1h-1zM11 95h1v1h-1zM17 96h1v1h-1zM16 98h1v1h-1zM15 99h1v1h-1zM12 100h1v1h-1zM15 100h1v1h-1zM15 102h1v1h-1zM17 102h1v1h-1zM14 103h1v1h-1zM11 104h1v1h-1zM15 104h1v1h-1zM12 105h1v1h-1zM12 106h1v1h-1zM9 117h1v1h-1zM11 124h1v1h-1zM14 124h1v1h-1zM17 124h1v1h-1zM13 128h1v1h-1zM15 133h1v1h-1zM15 136h1v1h-1zM14 137h1v1h-1zM16 140h1v1h-1zM13 141h1v1h-1zM11 143h1v1h-1zM15 143h1v1h-1zM12 144h1v1h-1zM16 144h1v1h-1zM17 147h1v1h-1zM12 149h1v1h-1z"/><path fill="#bfff40" d="M0 3h1v1h-1zM0 6h1v1h-1zM0 27h1v1h-1zM0 33h1v1h-1zM0 49h1v1h-1zM0 68h1v1h-1zM0 87h1v1h-1zM0 99h1v1h-1zM0 106h1v1h-1zM0 118h1v1h-1z"/><path fill="#cfff30" d="M0 4h1v1h-1zM0 8h1v1h-1zM0 41h1v1h-1zM0 44h1v1h-1zM0 79h1v1h-1zM0 82h1v1h-1zM0 120h1v1h-1zM0 121h1v1h-1z"/><path fill="#00afff" d="M1 4h1v1h-1zM3 5h1v1h-1zM2 6h1v1h-1zM2 7h1v1h-1zM2 10h1v1h-1zM2 11h1v1h-1zM1 14h1v1h-1zM1 16h2v1h-2zM2 17h1v1h-1zM3 20h1v1h-1zM1 21h1v1h-1zM1 22h1v1h-1zM1 23h1v1h-1zM1 24h1v1h-1zM2 25h1v1h-1zM3 29h1v1h-1zM2 30h1v1h-1zM4 33h1v1h-1zM1 34h2v1h-2zM1 39h1v1h-1zM1 40h1v1h-1zM1 41h1v1h-1zM2 46h1v1h-1zM1 47h2v1h-2zM2 48h1v1h-1zM3 50h1v1h-1zM2 53h1v1h-1zM1 54h2v1h-2zM1 59h1v1h-1zM4 60h1v1h-1zM2 62h1v1h-1zM3 63h1v1h-1zM2 70h1v1h-1zM5 74h1v1h-1zM2 82h1v1h-1zM3 83h1v1h-1zM2 84h1v1h-1zM5 84h1v1h-1zM1 85h1v1h-1zM2 86h1v1h-1zM1 88h1v1h-1zM2 89h1v1h-1zM2 90h1v1h-1zM1 91h1v1h-1zM5 92h1v1h-1zM2 96h1v1h-1zM1 98h1v1h-1zM1 101h1v1h-1zM1 102h3v1h-3zM2 105h1v1h-1zM4 106h1v1h-1zM3 107h1v1h-1zM1 108h1v1h-1zM3 108h1v1h-1zM2 109h1v1h-1zM1 110h1v1h-1zM1 111h1v1h-1zM5 111h1v1h-1zM3 112h1v1h-1zM1 114h2v1h-2zM1 117h1v1h-1zM1 118h1v1h-1zM3 122h1v1h-1zM1 125h1v1h-1zM2 126h1v1h-1zM2 128h1v1h-1zM4 128h1v1h-1zM3 129h1v1h-1zM1 131h1v1h-1zM1 132h1v1h-1zM2 133h1v1h-1zM2 135h1v1h-1zM2 137h1v1h-1zM1 139h1v1h-1zM1 140h2v1h-2zM5 140h1v1h-1zM2 141h1v1h-1zM4 141h1v1h-1zM1 146h1v1h-1zM2 149h1v1h-1z"/><path fill="#ffff00" d="M0 5h1v1h-1zM0 19h1v1h-1zM0 52h1v1h-1zM0 86h1v1h-1zM0 89h1v1h-1zM0 98h1v1h-1zM0 117h1v1h-1z"/><path fill="#dfff20" d="M0 7h1v1h-1zM0 23h1v1h-1zM0 96h1v1h-1zM0 112h1v1h-1z"/><path fill="#ffcf00" d="M0 9h1v1h-1zM0 58h1v1h-1zM0 93h1v1h-1zM0 122h1v1h-1zM0 132h1v1h-1z"/><path fill="#ff7000" d="M0 10h1v1h-1zM0 59h1v1h-1zM0 128h1v1h-1z"/><path fill="#efff10" d="M0 11h1v1h-1zM0 16h1v1h-1zM0 84h1v1h-1zM0 142h1v1h-1zM0 146h1v1h-1z"/><path fill="#ffaf00" d="M0 12h1v1h-1zM0 14h1v1h-1zM0 48h1v1h-1zM0 62h1v1h-1zM0 130h1v1h-1zM0 134h1v1h-1z"/><path fill="#ff3000" d="M0 13h1v1h-1z"/><path fill="#10ffef" d="M2 13h1v1h-1zM1 48h1v1h-1zM0 75h1v1h-1zM0 140h1v1h-1zM0 141h1v1h-1z"/><path fill="#ff1000" d="M0 15h1v1h-1zM0 55h1v1h-1z"/><path fill="#ff8f00" d="M0 17h1v1h-1zM0 91h1v1h-1zM0 95h1v1h-1z"/><path fill="#00ffff" d="M1 17h1v1h-1zM2 19h1v1h-1zM1 69h1v1h-1zM1 95h1v1h-1zM0 108h1v1h-1zM0 138h1v1h-1z"/><path fill="#ff9f00" d="M0 18h1v1h-1zM0 57h1v1h-1zM0 60h1v1h-1zM0 126h1v1h-1zM0 131h1v1h-1z"/><path fill="#ff6000" d="M0 20h1v1h-1zM0 135h1v1h-1z"/><path fill="#ffdf00" d="M0 21h1v1h-1zM0 22h1v1h-1zM0 24h1v1h-1zM0 61h1v1h-1zM0 88h1v1h-1z"/><path fill="#70ff8f" d="M0 25h1v1h-1zM0 32h1v1h-1zM0 34h1v1h-1zM0 76h1v1h-1zM0 109h1v1h-1z"/><path fill="#8fff70" d="M0 26h1v1h-1zM0 37h1v1h-1zM0 40h1v1h-1zM0 47h1v1h-1zM0 67h1v1h-1zM0 97h1v1h-1zM0 101h1v1h-1zM0 114h1v1h-1zM0 115h1v1h-1zM0 139h1v1h-1z"/><path fill="#afff50" d="M0 28h1v1h-1zM0 66h1v1h-1zM0 69h1v1h-1zM0 78h1v1h-1zM0 81h1v1h-1zM0 111h1v1h-1z"/><path fill="#60ff9f" d="M0 29h1v1h-1zM0 30h1v1h-1zM0 36h1v1h-1zM0 39h1v1h-1zM0 45h1v1h-1zM0 80h1v1h-1zM0 105h1v1h-1zM0 107h1v1h-1zM0 148h1v1h-1z"/><path fill="#00efff" d="M0 35h1v1h-1zM1 55h1v1h-1zM0 74h1v1h-1zM2 88h1v1h-1zM1 97h1v1h-1zM0 116h1v1h-1zM1 130h1v1h-1z"/><path fill="#80ff80" d="M0 38h1v1h-1zM0 64h1v1h-1zM0 70h1v1h-1zM0 71h1v1h-1zM0 119h1v1h-1zM0 137h1v1h-1zM0 147h1v1h-1z"/><path fill="#ffef00" d="M0 43h1v1h-1zM0 51h1v1h-1zM0 54h1v1h-1zM0 85h1v1h-1zM0 94h1v1h-1zM0 100h1v1h-1zM0 124h1v1h-1zM0 127h1v1h-1z"/><path fill="#ffbf00" d="M0 50h1v1h-1zM0 92h1v1h-1zM0 123h1v1h-1zM0 125h1v1h-1zM0 136h1v1h-1z"/><path fill="#ff5000" d="M0 53h1v1h-1zM0 56h1v1h-1zM0 129h1v1h-1z"/><path fill="#ff8000" d="M0 63h1v1h-1zM0 90h1v1h-1z"/><path fill="#40ffbf" d="M0 65h1v1h-1zM0 72h1v1h-1zM0 102h1v1h-1zM0 110h1v1h-1zM0 144h1v1h-1z"/><path fill="#30ffcf" d="M0 73h1v1h-1zM0 103h1v1h-1zM0 113h1v1h-1zM0 145h1v1h-1z"/><path fill="#0000cf" d="M15 76h1v1h-1zM12 113h1v1h-1z"/><path fill="#20ffdf" d="M0 149h1v1h-1z"/></svg><div class="edge"></div><div class="ledge"></div></div><div class="ax" style="left:513.5px;top:16px;width:18.8px;height:150px"><svg width="18.8" height="150" viewBox="0 0 1 64" preserveAspectRatio="none" shape-rendering="crispEdges" style="position:absolute;left:0;top:0"><rect x="0" y="0" width="1" height="1" fill="#800000"/><rect x="0" y="1" width="1" height="1" fill="#8f0000"/><rect x="0" y="2" width="1" height="1" fill="#9f0000"/><rect x="0" y="3" width="1" height="1" fill="#af0000"/><rect x="0" y="4" width="1" height="1" fill="#bf0000"/><rect x="0" y="5" width="1" height="1" fill="#cf0000"/><rect x="0" y="6" width="1" height="1" fill="#df0000"/><rect x="0" y="7" width="1" height="1" fill="#ef0000"/><rect x="0" y="8" width="1" height="1" fill="#ff0000"/><rect x="0" y="9" width="1" height="1" fill="#ff1000"/><rect x="0" y="10" width="1" height="1" fill="#ff2000"/><rect x="0" y="11" width="1" height="1" fill="#ff3000"/><rect x="0" y="12" width="1" height="1" fill="#ff4000"/><rect x="0" y="13" width="1" height="1" fill="#ff5000"/><rect x="0" y="14" width="1" height="1" fill="#ff6000"/><rect x="0" y="15" width="1" height="1" fill="#ff7000"/><rect x="0" y="16" width="1" height="1" fill="#ff8000"/><rect x="0" y="17" width="1" height="1" fill="#ff8f00"/><rect x="0" y="18" width="1" height="1" fill="#ff9f00"/><rect x="0" y="19" width="1" height="1" fill="#ffaf00"/><rect x="0" y="20" width="1" height="1" fill="#ffbf00"/><rect x="0" y="21" width="1" height="1" fill="#ffcf00"/><rect x="0" y="22" width="1" height="1" fill="#ffdf00"/><rect x="0" y="23" width="1" height="1" fill="#ffef00"/><rect x="0" y="24" width="1" height="1" fill="#ffff00"/><rect x="0" y="25" width="1" height="1" fill="#efff10"/><rect x="0" y="26" width="1" height="1" fill="#dfff20"/><rect x="0" y="27" width="1" height="1" fill="#cfff30"/><rect x="0" y="28" width="1" height="1" fill="#bfff40"/><rect x="0" y="29" width="1" height="1" fill="#afff50"/><rect x="0" y="30" width="1" height="1" fill="#9fff60"/><rect x="0" y="31" width="1" height="1" fill="#8fff70"/><rect x="0" y="32" width="1" height="1" fill="#80ff80"/><rect x="0" y="33" width="1" height="1" fill="#70ff8f"/><rect x="0" y="34" width="1" height="1" fill="#60ff9f"/><rect x="0" y="35" width="1" height="1" fill="#50ffaf"/><rect x="0" y="36" width="1" height="1" fill="#40ffbf"/><rect x="0" y="37" width="1" height="1" fill="#30ffcf"/><rect x="0" y="38" width="1" height="1" fill="#20ffdf"/><rect x="0" y="39" width="1" height="1" fill="#10ffef"/><rect x="0" y="40" width="1" height="1" fill="#00ffff"/><rect x="0" y="41" width="1" height="1" fill="#00efff"/><rect x="0" y="42" width="1" height="1" fill="#00dfff"/><rect x="0" y="43" width="1" height="1" fill="#00cfff"/><rect x="0" y="44" width="1" height="1" fill="#00bfff"/><rect x="0" y="45" width="1" height="1" fill="#00afff"/><rect x="0" y="46" width="1" height="1" fill="#009fff"/><rect x="0" y="47" width="1" height="1" fill="#008fff"/><rect x="0" y="48" width="1" height="1" fill="#0080ff"/><rect x="0" y="49" width="1" height="1" fill="#0070ff"/><rect x="0" y="50" width="1" height="1" fill="#0060ff"/><rect x="0" y="51" width="1" height="1" fill="#0050ff"/><rect x="0" y="52" width="1" height="1" fill="#0040ff"/><rect x="0" y="53" width="1" height="1" fill="#0030ff"/><rect x="0" y="54" width="1" height="1" fill="#0020ff"/><rect x="0" y="55" width="1" height="1" fill="#0010ff"/><rect x="0" y="56" width="1" height="1" fill="#0000ff"/><rect x="0" y="57" width="1" height="1" fill="#0000ef"/><rect x="0" y="58" width="1" height="1" fill="#0000df"/><rect x="0" y="59" width="1" height="1" fill="#0000cf"/><rect x="0" y="60" width="1" height="1" fill="#0000bf"/><rect x="0" y="61" width="1" height="1" fill="#0000af"/><rect x="0" y="62" width="1" height="1" fill="#00009f"/><rect x="0" y="63" width="1" height="1" fill="#00008f"/></svg><div class="box"></div></div><div class="lab" style="left:413.9px;top:1.6999999999999993px">Average RMS error of wind direction, deg.</div><div class="lab" style="left:413.9px;top:185.1px">Wind speed, m/s</div><div class="ylab" style="left:301.2px;top:91.3px">Wind direction, deg.</div><div class="xt" style="left:357.9px;top:171.0px">5</div><div class="xt" style="left:405.4px;top:171.0px">10</div><div class="xt" style="left:452.9px;top:171.0px">15</div><div class="xt" style="left:500.4px;top:171.0px">20</div><div class="yt" style="right:223.8px;top:161.1px">0</div><div class="yt" style="right:223.8px;top:142.275px">45</div><div class="yt" style="right:223.8px;top:123.44999999999999px">90</div><div class="yt" style="right:223.8px;top:104.625px">135</div><div class="yt" style="right:223.8px;top:85.8px">180</div><div class="yt" style="right:223.8px;top:66.975px">225</div><div class="yt" style="right:223.8px;top:48.150000000000006px">270</div><div class="yt" style="right:223.8px;top:29.32499999999999px">315</div><div class="yt" style="right:223.8px;top:10.5px">360</div><div class="ctk" style="left:530.0999999999999px;top:153.6px"></div><div class="ct" style="left:535.8px;top:148.6px">0.5</div><div class="ctk" style="left:530.0999999999999px;top:111.7px"></div><div class="ct" style="left:535.8px;top:106.7px">1</div><div class="ctk" style="left:530.0999999999999px;top:69.9px"></div><div class="ct" style="left:535.8px;top:64.9px">1.5</div><div class="ctk" style="left:530.0999999999999px;top:27.1px"></div><div class="ct" style="left:535.8px;top:22.1px">2</div><div class="ax" style="left:37.8px;top:224px;width:169.6px;height:150px"><svg width="169.6" height="150" viewBox="0 0 18 150" preserveAspectRatio="none" shape-rendering="crispEdges" style="position:absolute;left:0;top:0;filter:blur(0.35px)"><path fill="#00008f" d="M0 0h1v1h-1zM0 8h1v1h-1zM0 17h1v1h-1zM0 21h1v1h-1zM0 38h1v1h-1zM1 42h1v1h-1zM0 59h1v1h-1zM0 78h1v1h-1zM0 82h1v1h-1zM0 83h1v1h-1zM0 89h1v1h-1zM0 92h1v1h-1zM0 95h2v1h-2zM0 98h1v1h-1zM0 115h1v1h-1zM0 124h1v1h-1zM0 126h1v1h-1zM0 129h1v1h-1zM0 145h1v1h-1zM0 148h1v1h-1z"/><path fill="#0000ff" d="M1 0h1v1h-1zM2 2h1v1h-1zM2 3h1v1h-1zM2 4h1v1h-1zM4 5h1v1h-1zM2 6h1v1h-1zM2 7h1v1h-1zM1 8h1v1h-1zM3 10h1v1h-1zM5 12h1v1h-1zM1 15h1v1h-1zM3 17h1v1h-1zM3 19h1v1h-1zM1 20h1v1h-1zM4 20h1v1h-1zM2 23h1v1h-1zM1 24h1v1h-1zM1 25h1v1h-1zM0 26h1v1h-1zM1 27h1v1h-1zM2 28h1v1h-1zM1 29h1v1h-1zM3 29h1v1h-1zM2 31h1v1h-1zM2 33h2v1h-2zM1 35h2v1h-2zM3 37h1v1h-1zM2 38h1v1h-1zM0 39h1v1h-1zM2 39h1v1h-1zM3 43h1v1h-1zM2 44h2v1h-2zM1 45h1v1h-1zM2 48h2v1h-2zM1 51h1v1h-1zM3 51h1v1h-1zM3 52h1v1h-1zM1 53h1v1h-1zM2 54h1v1h-1zM4 59h1v1h-1zM2 61h1v1h-1zM5 63h1v1h-1zM1 64h1v1h-1zM4 68h1v1h-1zM2 70h1v1h-1zM3 71h1v1h-1zM2 74h1v1h-1zM3 77h1v1h-1zM3 83h1v1h-1zM5 87h1v1h-1zM1 93h1v1h-1zM4 95h1v1h-1zM0 97h3v1h-3zM4 99h1v1h-1zM1 102h1v1h-1zM2 104h1v1h-1zM1 105h1v1h-1zM1 106h2v1h-2zM3 108h1v1h-1zM3 109h1v1h-1zM1 111h1v1h-1zM1 112h1v1h-1zM3 115h2v1h-2zM2 120h1v1h-1zM3 122h1v1h-1zM1 123h1v1h-1zM1 126h1v1h-1zM4 127h1v1h-1zM2 136h1v1h-1zM2 138h1v1h-1zM2 146h1v1h-1zM4 146h1v1h-1zM2 147h1v1h-1zM1 148h1v1h-1z"/><path fill="#0030ff" d="M2 0h1v1h-1zM3 2h1v1h-1zM7 2h1v1h-1zM3 3h1v1h-1zM3 5h1v1h-1zM4 7h1v1h-1zM4 13h1v1h-1zM4 14h1v1h-1zM4 17h1v1h-1zM5 21h1v1h-1zM3 22h1v1h-1zM6 24h1v1h-1zM5 28h1v1h-1zM6 30h1v1h-1zM4 31h2v1h-2zM3 32h1v1h-1zM3 35h1v1h-1zM2 37h1v1h-1zM3 39h1v1h-1zM2 42h2v1h-2zM5 45h1v1h-1zM1 49h1v1h-1zM3 50h2v1h-2zM2 52h1v1h-1zM4 52h1v1h-1zM6 52h1v1h-1zM2 53h2v1h-2zM5 53h1v1h-1zM4 56h1v1h-1zM4 57h1v1h-1zM5 58h1v1h-1zM3 59h1v1h-1zM2 60h1v1h-1zM1 61h1v1h-1zM5 61h1v1h-1zM3 63h1v1h-1zM2 65h1v1h-1zM4 67h1v1h-1zM6 70h1v1h-1zM2 71h1v1h-1zM1 72h1v1h-1zM4 72h1v1h-1zM3 73h1v1h-1zM5 73h1v1h-1zM5 74h1v1h-1zM2 75h1v1h-1zM4 75h1v1h-1zM2 77h1v1h-1zM2 79h1v1h-1zM2 83h1v1h-1zM1 84h1v1h-1zM5 84h1v1h-1zM1 89h2v1h-2zM4 90h1v1h-1zM4 92h2v1h-2zM1 94h1v1h-1zM3 94h1v1h-1zM2 95h1v1h-1zM5 95h1v1h-1zM3 99h1v1h-1zM5 99h1v1h-1zM7 101h1v1h-1zM3 102h1v1h-1zM3 103h1v1h-1zM7 103h1v1h-1zM3 105h1v1h-1zM6 105h1v1h-1zM4 106h2v1h-2zM2 108h1v1h-1zM2 109h1v1h-1zM6 109h1v1h-1zM1 110h1v1h-1zM3 112h2v1h-2zM2 113h1v1h-1zM4 113h1v1h-1zM3 116h1v1h-1zM3 124h1v1h-1zM2 128h1v1h-1zM2 131h1v1h-1zM4 131h1v1h-1zM5 132h1v1h-1zM2 134h1v1h-1zM5 135h1v1h-1zM3 137h1v1h-1zM3 139h1v1h-1zM3 143h2v1h-2zM2 144h1v1h-1zM5 144h1v1h-1zM3 148h1v1h-1z"/><path fill="#0000ef" d="M3 0h1v1h-1zM0 2h1v1h-1zM4 3h1v1h-1zM1 6h1v1h-1zM4 6h1v1h-1zM1 7h1v1h-1zM0 10h1v1h-1zM0 11h1v1h-1zM0 12h1v1h-1zM3 12h1v1h-1zM1 18h1v1h-1zM6 18h1v1h-1zM0 19h1v1h-1zM1 23h1v1h-1zM3 25h1v1h-1zM1 26h1v1h-1zM1 30h1v1h-1zM2 32h1v1h-1zM1 34h1v1h-1zM0 36h1v1h-1zM3 38h2v1h-2zM2 43h1v1h-1zM0 44h1v1h-1zM2 45h1v1h-1zM0 53h1v1h-1zM1 55h1v1h-1zM2 56h1v1h-1zM1 57h1v1h-1zM3 58h1v1h-1zM4 60h1v1h-1zM3 62h1v1h-1zM1 70h1v1h-1zM1 74h1v1h-1zM1 85h1v1h-1zM0 87h1v1h-1zM2 90h1v1h-1zM0 96h1v1h-1zM2 99h1v1h-1zM1 100h1v1h-1zM2 101h1v1h-1zM1 103h2v1h-2zM0 104h2v1h-2zM3 110h1v1h-1zM0 111h1v1h-1zM2 111h1v1h-1zM2 116h1v1h-1zM2 117h1v1h-1zM1 118h1v1h-1zM0 123h1v1h-1zM2 123h1v1h-1zM2 124h1v1h-1zM1 125h2v1h-2zM0 127h1v1h-1zM0 128h1v1h-1zM0 130h1v1h-1zM0 131h1v1h-1zM0 132h1v1h-1zM0 133h1v1h-1zM2 133h1v1h-1zM0 135h1v1h-1zM1 136h1v1h-1zM1 137h2v1h-2zM1 141h1v1h-1zM0 146h1v1h-1zM1 147h1v1h-1z"/><path fill="#0050ff" d="M4 0h1v1h-1zM3 1h1v1h-1zM5 1h1v1h-1zM6 2h1v1h-1zM5 3h1v1h-1zM7 3h1v1h-1zM3 4h1v1h-1zM5 7h3v1h-3zM7 9h1v1h-1zM2 11h2v1h-2zM5 13h2v1h-2zM5 15h1v1h-1zM4 16h1v1h-1zM5 17h1v1h-1zM4 18h1v1h-1zM4 22h1v1h-1zM4 24h1v1h-1zM5 25h1v1h-1zM2 29h1v1h-1zM4 29h1v1h-1zM4 30h1v1h-1zM5 34h1v1h-1zM4 37h1v1h-1zM6 38h1v1h-1zM4 39h1v1h-1zM5 40h2v1h-2zM7 43h1v1h-1zM3 45h1v1h-1zM4 46h1v1h-1zM3 47h1v1h-1zM5 47h1v1h-1zM6 48h1v1h-1zM3 49h1v1h-1zM6 53h1v1h-1zM5 54h2v1h-2zM5 55h1v1h-1zM1 58h1v1h-1zM5 60h1v1h-1zM3 61h2v1h-2zM6 63h1v1h-1zM4 64h1v1h-1zM3 66h1v1h-1zM4 70h1v1h-1zM5 71h1v1h-1zM2 73h1v1h-1zM4 73h1v1h-1zM4 74h1v1h-1zM5 75h2v1h-2zM4 76h1v1h-1zM6 76h1v1h-1zM3 78h2v1h-2zM4 81h1v1h-1zM5 82h2v1h-2zM5 83h1v1h-1zM3 86h1v1h-1zM3 87h2v1h-2zM6 87h1v1h-1zM6 90h1v1h-1zM6 91h1v1h-1zM2 93h1v1h-1zM5 93h3v1h-3zM4 94h1v1h-1zM6 96h1v1h-1zM3 98h1v1h-1zM5 98h1v1h-1zM3 100h1v1h-1zM5 100h1v1h-1zM5 101h1v1h-1zM4 103h1v1h-1zM3 106h1v1h-1zM7 106h1v1h-1zM4 108h1v1h-1zM5 109h1v1h-1zM3 111h1v1h-1zM5 112h1v1h-1zM5 113h1v1h-1zM7 115h1v1h-1zM4 116h1v1h-1zM6 116h1v1h-1zM5 117h1v1h-1zM2 118h1v1h-1zM2 119h1v1h-1zM5 120h2v1h-2zM3 121h2v1h-2zM6 122h1v1h-1zM3 123h1v1h-1zM4 125h1v1h-1zM4 128h1v1h-1zM2 129h1v1h-1zM4 130h1v1h-1zM3 131h1v1h-1zM5 131h2v1h-2zM3 133h2v1h-2zM3 135h2v1h-2zM5 136h3v1h-3zM2 139h1v1h-1zM5 139h1v1h-1zM3 140h1v1h-1zM2 142h1v1h-1zM3 144h1v1h-1zM1 146h1v1h-1zM3 147h1v1h-1zM5 147h1v1h-1zM4 149h1v1h-1z"/><path fill="#0070ff" d="M5 0h1v1h-1zM5 2h1v1h-1zM4 4h2v1h-2zM6 5h1v1h-1zM5 9h2v1h-2zM4 10h1v1h-1zM4 11h1v1h-1zM6 14h1v1h-1zM6 17h1v1h-1zM6 20h1v1h-1zM7 24h1v1h-1zM2 25h1v1h-1zM3 31h1v1h-1zM8 31h1v1h-1zM6 32h1v1h-1zM4 34h1v1h-1zM6 34h1v1h-1zM6 35h1v1h-1zM5 38h1v1h-1zM6 39h1v1h-1zM2 40h3v1h-3zM5 41h1v1h-1zM5 43h1v1h-1zM7 46h1v1h-1zM4 55h1v1h-1zM7 55h1v1h-1zM5 56h1v1h-1zM7 58h1v1h-1zM6 60h3v1h-3zM7 61h1v1h-1zM5 64h1v1h-1zM6 65h1v1h-1zM8 65h1v1h-1zM5 66h1v1h-1zM6 67h1v1h-1zM5 68h1v1h-1zM7 68h1v1h-1zM4 69h1v1h-1zM5 70h1v1h-1zM6 72h1v1h-1zM3 76h1v1h-1zM5 76h1v1h-1zM7 77h1v1h-1zM6 79h1v1h-1zM4 82h1v1h-1zM7 82h1v1h-1zM6 88h1v1h-1zM3 89h1v1h-1zM6 89h1v1h-1zM7 94h1v1h-1zM6 95h1v1h-1zM5 96h1v1h-1zM5 97h1v1h-1zM7 99h1v1h-1zM7 102h1v1h-1zM5 103h1v1h-1zM7 104h1v1h-1zM6 108h1v1h-1zM5 111h1v1h-1zM4 114h1v1h-1zM7 116h1v1h-1zM6 119h1v1h-1zM4 120h1v1h-1zM2 126h2v1h-2zM6 126h1v1h-1zM5 127h1v1h-1zM7 129h1v1h-1zM4 132h1v1h-1zM6 133h1v1h-1zM5 134h2v1h-2zM6 137h1v1h-1zM5 138h1v1h-1zM8 139h1v1h-1zM7 142h1v1h-1zM6 146h1v1h-1zM6 147h1v1h-1zM6 148h1v1h-1zM5 149h1v1h-1z"/><path fill="#0080ff" d="M6 0h1v1h-1zM8 3h1v1h-1zM6 10h1v1h-1zM7 17h1v1h-1zM5 18h1v1h-1zM2 19h1v1h-1zM7 20h1v1h-1zM7 25h1v1h-1zM5 27h1v1h-1zM5 29h1v1h-1zM6 31h1v1h-1zM5 32h1v1h-1zM6 37h1v1h-1zM5 39h1v1h-1zM6 41h1v1h-1zM4 44h1v1h-1zM7 44h1v1h-1zM4 47h1v1h-1zM6 49h1v1h-1zM6 55h1v1h-1zM8 55h1v1h-1zM2 58h1v1h-1zM5 62h1v1h-1zM7 64h1v1h-1zM3 67h1v1h-1zM6 68h1v1h-1zM3 69h1v1h-1zM6 71h1v1h-1zM2 76h1v1h-1zM7 76h1v1h-1zM4 80h1v1h-1zM7 81h1v1h-1zM7 83h1v1h-1zM7 84h1v1h-1zM4 85h1v1h-1zM5 88h1v1h-1zM7 90h1v1h-1zM8 91h1v1h-1zM8 96h1v1h-1zM6 98h1v1h-1zM6 99h1v1h-1zM6 104h1v1h-1zM6 106h1v1h-1zM6 107h1v1h-1zM7 109h1v1h-1zM6 112h1v1h-1zM8 114h1v1h-1zM7 118h1v1h-1zM7 119h1v1h-1zM7 124h1v1h-1zM9 124h1v1h-1zM8 125h1v1h-1zM6 132h1v1h-1zM5 133h1v1h-1zM6 135h1v1h-1zM4 137h1v1h-1zM7 138h1v1h-1zM7 139h1v1h-1zM4 142h1v1h-1zM6 142h1v1h-1zM5 143h2v1h-2zM7 144h1v1h-1zM4 145h1v1h-1zM6 145h2v1h-2zM5 148h1v1h-1z"/><path fill="#0060ff" d="M7 0h1v1h-1zM4 2h1v1h-1zM6 3h1v1h-1zM5 5h1v1h-1zM5 6h1v1h-1zM6 8h2v1h-2zM5 10h1v1h-1zM6 11h1v1h-1zM3 16h1v1h-1zM5 16h2v1h-2zM3 18h1v1h-1zM3 21h1v1h-1zM6 23h1v1h-1zM11 23h1v1h-1zM4 25h1v1h-1zM6 25h1v1h-1zM4 28h1v1h-1zM6 28h2v1h-2zM6 29h1v1h-1zM6 33h1v1h-1zM2 34h1v1h-1zM5 36h3v1h-3zM3 41h1v1h-1zM4 43h1v1h-1zM6 44h1v1h-1zM6 47h1v1h-1zM6 50h1v1h-1zM5 51h1v1h-1zM5 52h1v1h-1zM6 58h1v1h-1zM2 59h1v1h-1zM6 59h1v1h-1zM6 61h1v1h-1zM6 66h1v1h-1zM7 70h1v1h-1zM7 72h1v1h-1zM7 73h1v1h-1zM6 74h1v1h-1zM5 81h1v1h-1zM3 82h1v1h-1zM3 84h1v1h-1zM4 86h1v1h-1zM6 86h1v1h-1zM3 88h1v1h-1zM3 90h1v1h-1zM3 91h2v1h-2zM5 94h1v1h-1zM3 95h1v1h-1zM7 97h1v1h-1zM6 101h1v1h-1zM5 102h1v1h-1zM5 105h1v1h-1zM4 110h3v1h-3zM7 111h1v1h-1zM7 112h1v1h-1zM5 114h1v1h-1zM5 116h1v1h-1zM3 117h2v1h-2zM5 118h2v1h-2zM7 120h1v1h-1zM4 122h1v1h-1zM4 123h1v1h-1zM7 123h1v1h-1zM3 125h1v1h-1zM7 125h1v1h-1zM6 128h2v1h-2zM3 129h1v1h-1zM6 129h1v1h-1zM3 136h1v1h-1zM4 138h1v1h-1zM6 138h1v1h-1zM6 139h1v1h-1zM4 140h1v1h-1zM6 140h1v1h-1zM5 142h1v1h-1zM4 147h1v1h-1z"/><path fill="#00dfff" d="M8 0h1v1h-1zM12 0h1v1h-1zM10 3h1v1h-1zM8 4h1v1h-1zM8 9h1v1h-1zM8 11h2v1h-2zM8 12h1v1h-1zM9 13h2v1h-2zM9 15h1v1h-1zM10 17h1v1h-1zM12 26h1v1h-1zM8 27h2v1h-2zM9 32h1v1h-1zM9 34h3v1h-3zM10 37h1v1h-1zM7 39h1v1h-1zM11 39h1v1h-1zM10 40h1v1h-1zM10 47h1v1h-1zM9 48h1v1h-1zM8 49h2v1h-2zM8 54h1v1h-1zM10 60h1v1h-1zM10 62h1v1h-1zM9 63h1v1h-1zM9 64h1v1h-1zM9 65h1v1h-1zM7 67h2v1h-2zM11 68h1v1h-1zM11 70h1v1h-1zM11 72h1v1h-1zM9 73h1v1h-1zM11 74h1v1h-1zM11 75h1v1h-1zM9 76h2v1h-2zM12 77h1v1h-1zM12 78h1v1h-1zM9 79h1v1h-1zM8 81h1v1h-1zM10 81h1v1h-1zM15 81h1v1h-1zM9 87h1v1h-1zM10 90h1v1h-1zM12 90h1v1h-1zM9 91h1v1h-1zM9 92h1v1h-1zM11 92h1v1h-1zM11 94h1v1h-1zM8 95h1v1h-1zM8 97h2v1h-2zM10 98h1v1h-1zM8 102h1v1h-1zM11 107h1v1h-1zM8 109h1v1h-1zM11 109h1v1h-1zM8 110h1v1h-1zM10 111h1v1h-1zM9 112h1v1h-1zM12 112h1v1h-1zM11 113h1v1h-1zM8 116h2v1h-2zM8 117h1v1h-1zM8 118h2v1h-2zM9 119h1v1h-1zM8 120h1v1h-1zM11 120h1v1h-1zM8 122h1v1h-1zM9 123h1v1h-1zM11 125h1v1h-1zM8 128h2v1h-2zM11 130h1v1h-1zM10 133h1v1h-1zM11 135h1v1h-1zM11 137h1v1h-1zM9 138h1v1h-1zM9 140h1v1h-1zM8 145h2v1h-2zM9 146h1v1h-1zM11 146h1v1h-1zM9 147h1v1h-1z"/><path fill="#009fff" d="M9 0h1v1h-1zM8 1h1v1h-1zM7 4h1v1h-1zM7 11h1v1h-1zM5 14h1v1h-1zM8 15h1v1h-1zM9 16h1v1h-1zM6 19h2v1h-2zM7 22h1v1h-1zM7 23h1v1h-1zM4 26h1v1h-1zM6 26h2v1h-2zM6 27h1v1h-1zM9 30h1v1h-1zM7 31h1v1h-1zM8 35h1v1h-1zM9 36h1v1h-1zM9 43h1v1h-1zM6 45h2v1h-2zM9 45h1v1h-1zM7 47h1v1h-1zM7 53h1v1h-1zM6 57h1v1h-1zM4 63h1v1h-1zM6 69h1v1h-1zM7 71h1v1h-1zM8 72h1v1h-1zM7 86h1v1h-1zM7 87h1v1h-1zM7 91h1v1h-1zM8 93h1v1h-1zM7 98h1v1h-1zM8 99h1v1h-1zM10 102h1v1h-1zM12 102h1v1h-1zM7 105h1v1h-1zM8 106h1v1h-1zM7 107h1v1h-1zM7 110h1v1h-1zM7 113h1v1h-1zM6 115h1v1h-1zM6 117h1v1h-1zM7 122h1v1h-1zM8 123h1v1h-1zM9 126h1v1h-1zM6 127h1v1h-1zM8 127h1v1h-1zM7 130h1v1h-1zM7 131h1v1h-1zM7 134h1v1h-1zM9 135h1v1h-1zM7 146h1v1h-1zM6 149h2v1h-2z"/><path fill="#40ffbf" d="M10 0h1v1h-1zM14 1h1v1h-1zM10 6h1v1h-1zM14 6h1v1h-1zM11 7h1v1h-1zM15 7h1v1h-1zM11 8h1v1h-1zM15 8h1v1h-1zM12 9h1v1h-1zM13 10h1v1h-1zM9 18h1v1h-1zM10 21h1v1h-1zM12 21h1v1h-1zM10 24h1v1h-1zM14 29h1v1h-1zM16 29h1v1h-1zM13 32h1v1h-1zM15 32h1v1h-1zM12 34h1v1h-1zM13 35h1v1h-1zM16 36h1v1h-1zM13 39h1v1h-1zM12 41h2v1h-2zM15 41h1v1h-1zM16 42h1v1h-1zM13 47h1v1h-1zM11 48h1v1h-1zM12 52h1v1h-1zM10 56h1v1h-1zM11 57h1v1h-1zM10 58h1v1h-1zM12 58h1v1h-1zM11 59h1v1h-1zM14 64h1v1h-1zM15 65h1v1h-1zM17 65h1v1h-1zM14 66h1v1h-1zM11 67h1v1h-1zM11 69h3v1h-3zM16 72h1v1h-1zM12 76h1v1h-1zM13 78h1v1h-1zM16 82h1v1h-1zM16 84h1v1h-1zM12 87h1v1h-1zM12 88h1v1h-1zM12 89h1v1h-1zM14 91h1v1h-1zM10 92h1v1h-1zM15 100h1v1h-1zM12 101h2v1h-2zM17 102h1v1h-1zM11 103h1v1h-1zM14 105h1v1h-1zM10 108h1v1h-1zM12 109h1v1h-1zM14 112h1v1h-1zM12 113h1v1h-1zM16 114h1v1h-1zM11 117h1v1h-1zM11 119h1v1h-1zM13 119h1v1h-1zM14 121h1v1h-1zM12 122h2v1h-2zM10 128h1v1h-1zM12 133h1v1h-1zM10 136h1v1h-1zM15 136h1v1h-1zM12 138h1v1h-1zM11 142h1v1h-1zM14 142h1v1h-1zM13 143h2v1h-2zM11 145h1v1h-1zM16 145h1v1h-1zM11 149h1v1h-1z"/><path fill="#00ffff" d="M11 0h1v1h-1zM12 2h1v1h-1zM11 4h1v1h-1zM14 5h1v1h-1zM10 7h1v1h-1zM9 8h2v1h-2zM8 10h2v1h-2zM10 11h1v1h-1zM10 12h1v1h-1zM10 14h2v1h-2zM10 15h1v1h-1zM12 15h1v1h-1zM8 16h1v1h-1zM11 16h1v1h-1zM9 17h1v1h-1zM8 18h1v1h-1zM8 30h1v1h-1zM8 33h1v1h-1zM9 40h1v1h-1zM14 40h1v1h-1zM9 41h1v1h-1zM10 42h1v1h-1zM10 43h1v1h-1zM12 45h1v1h-1zM15 45h1v1h-1zM11 51h1v1h-1zM12 53h1v1h-1zM10 54h1v1h-1zM9 55h1v1h-1zM11 56h1v1h-1zM10 57h1v1h-1zM9 59h1v1h-1zM9 62h1v1h-1zM11 64h1v1h-1zM10 65h1v1h-1zM9 66h1v1h-1zM12 68h1v1h-1zM10 69h1v1h-1zM11 71h1v1h-1zM9 72h1v1h-1zM11 73h1v1h-1zM9 74h1v1h-1zM13 77h1v1h-1zM10 78h1v1h-1zM13 80h1v1h-1zM11 82h1v1h-1zM17 84h1v1h-1zM11 86h1v1h-1zM8 88h1v1h-1zM11 88h1v1h-1zM10 89h1v1h-1zM8 90h1v1h-1zM10 91h1v1h-1zM12 91h1v1h-1zM12 94h1v1h-1zM11 96h1v1h-1zM11 98h1v1h-1zM11 102h1v1h-1zM8 104h1v1h-1zM9 105h1v1h-1zM9 106h1v1h-1zM14 107h1v1h-1zM9 108h1v1h-1zM10 110h2v1h-2zM13 111h1v1h-1zM8 115h1v1h-1zM10 115h1v1h-1zM11 124h1v1h-1zM8 129h1v1h-1zM10 130h1v1h-1zM9 131h1v1h-1zM11 131h1v1h-1zM12 137h1v1h-1zM9 139h1v1h-1zM10 141h2v1h-2zM9 143h1v1h-1zM11 143h1v1h-1zM9 148h1v1h-1z"/><path fill="#afff50" d="M13 0h1v1h-1zM17 5h1v1h-1zM14 11h1v1h-1zM16 11h1v1h-1zM13 12h1v1h-1zM17 23h1v1h-1zM17 25h1v1h-1zM14 27h1v1h-1zM14 37h1v1h-1zM15 42h1v1h-1zM16 45h1v1h-1zM14 48h1v1h-1zM15 49h1v1h-1zM17 50h1v1h-1zM13 51h1v1h-1zM16 54h1v1h-1zM13 57h1v1h-1zM14 72h1v1h-1zM13 73h1v1h-1zM15 85h2v1h-2zM17 88h1v1h-1zM15 90h2v1h-2zM15 94h1v1h-1zM17 95h1v1h-1zM17 96h1v1h-1zM12 98h1v1h-1zM17 98h1v1h-1zM15 101h1v1h-1zM17 101h1v1h-1zM14 103h1v1h-1zM13 104h1v1h-1zM14 108h2v1h-2zM17 114h1v1h-1zM13 115h1v1h-1zM16 125h1v1h-1zM12 130h1v1h-1zM14 131h1v1h-1zM17 132h1v1h-1zM15 134h1v1h-1zM16 135h1v1h-1zM17 136h1v1h-1zM12 141h1v1h-1zM14 141h1v1h-1zM17 142h1v1h-1zM15 146h1v1h-1zM15 148h1v1h-1z"/><path fill="#bfff40" d="M14 0h1v1h-1zM17 1h1v1h-1zM15 6h1v1h-1zM17 10h1v1h-1zM16 14h2v1h-2zM16 16h2v1h-2zM13 19h1v1h-1zM16 19h1v1h-1zM15 20h1v1h-1zM13 38h1v1h-1zM17 41h1v1h-1zM13 49h1v1h-1zM17 53h1v1h-1zM16 55h1v1h-1zM14 56h1v1h-1zM16 58h1v1h-1zM16 59h1v1h-1zM14 60h1v1h-1zM16 62h1v1h-1zM13 63h1v1h-1zM17 66h1v1h-1zM17 70h1v1h-1zM16 71h1v1h-1zM13 79h2v1h-2zM16 83h2v1h-2zM13 86h1v1h-1zM14 89h1v1h-1zM16 94h1v1h-1zM16 101h1v1h-1zM15 105h1v1h-1zM17 105h1v1h-1zM16 111h1v1h-1zM13 113h1v1h-1zM17 115h1v1h-1zM15 116h1v1h-1zM17 117h1v1h-1zM17 118h1v1h-1zM16 119h1v1h-1zM13 123h1v1h-1zM17 123h1v1h-1zM13 127h1v1h-1zM15 129h1v1h-1zM16 131h1v1h-1zM13 132h1v1h-1zM16 132h1v1h-1zM14 133h1v1h-1zM16 138h1v1h-1zM17 145h1v1h-1zM16 146h1v1h-1z"/><path fill="#50ffaf" d="M15 0h1v1h-1zM17 0h1v1h-1zM12 6h1v1h-1zM11 9h1v1h-1zM16 20h1v1h-1zM11 22h1v1h-1zM14 24h1v1h-1zM12 27h2v1h-2zM13 30h1v1h-1zM12 31h1v1h-1zM12 32h1v1h-1zM15 34h2v1h-2zM15 37h1v1h-1zM17 38h1v1h-1zM14 39h1v1h-1zM15 40h1v1h-1zM16 44h1v1h-1zM14 45h1v1h-1zM13 48h1v1h-1zM12 49h1v1h-1zM12 51h1v1h-1zM13 67h1v1h-1zM13 68h1v1h-1zM14 69h1v1h-1zM14 70h1v1h-1zM17 71h1v1h-1zM13 75h2v1h-2zM11 77h1v1h-1zM9 78h1v1h-1zM11 78h1v1h-1zM14 78h3v1h-3zM15 79h1v1h-1zM17 80h1v1h-1zM12 82h1v1h-1zM15 83h1v1h-1zM17 85h1v1h-1zM12 86h1v1h-1zM12 95h1v1h-1zM12 96h1v1h-1zM15 109h1v1h-1zM15 110h2v1h-2zM12 111h1v1h-1zM15 111h1v1h-1zM13 112h1v1h-1zM15 113h1v1h-1zM12 114h1v1h-1zM12 116h1v1h-1zM14 116h1v1h-1zM17 116h1v1h-1zM10 117h1v1h-1zM13 117h1v1h-1zM15 118h1v1h-1zM11 121h1v1h-1zM14 124h1v1h-1zM10 129h1v1h-1zM13 129h1v1h-1zM15 133h1v1h-1zM13 137h1v1h-1zM13 138h1v1h-1zM16 140h1v1h-1zM15 143h1v1h-1zM17 144h1v1h-1zM15 147h2v1h-2z"/><path fill="#ffff00" d="M16 0h1v1h-1zM16 9h1v1h-1zM13 14h1v1h-1zM16 31h1v1h-1zM16 43h1v1h-1zM17 48h1v1h-1zM14 51h1v1h-1zM14 52h1v1h-1zM13 54h1v1h-1zM17 54h1v1h-1zM17 60h1v1h-1zM17 62h1v1h-1zM16 63h1v1h-1zM15 67h1v1h-1zM17 69h1v1h-1zM14 82h2v1h-2zM16 89h1v1h-1zM17 92h1v1h-1zM15 120h1v1h-1zM17 124h1v1h-1zM14 126h1v1h-1zM15 130h1v1h-1zM16 143h1v1h-1z"/><path fill="#0000cf" d="M0 1h1v1h-1zM0 5h1v1h-1zM1 9h1v1h-1zM3 14h1v1h-1zM2 17h1v1h-1zM1 19h1v1h-1zM0 22h1v1h-1zM0 27h1v1h-1zM1 32h1v1h-1zM0 34h1v1h-1zM0 35h1v1h-1zM1 38h1v1h-1zM0 42h1v1h-1zM0 47h1v1h-1zM0 48h2v1h-2zM2 55h1v1h-1zM3 57h1v1h-1zM0 58h1v1h-1zM1 62h1v1h-1zM0 64h1v1h-1zM1 65h1v1h-1zM0 67h1v1h-1zM1 68h1v1h-1zM1 69h1v1h-1zM0 73h2v1h-2zM0 77h1v1h-1zM1 78h1v1h-1zM0 80h1v1h-1zM0 86h1v1h-1zM2 88h1v1h-1zM0 90h1v1h-1zM0 99h2v1h-2zM2 100h1v1h-1zM0 102h1v1h-1zM0 105h1v1h-1zM1 109h1v1h-1zM0 114h2v1h-2zM0 118h1v1h-1zM1 120h1v1h-1zM0 138h1v1h-1zM1 149h1v1h-1z"/><path fill="#0020ff" d="M1 1h1v1h-1zM3 6h1v1h-1zM2 8h3v1h-3zM3 9h1v1h-1zM2 14h1v1h-1zM2 15h1v1h-1zM6 15h1v1h-1zM2 16h1v1h-1zM5 19h1v1h-1zM2 20h2v1h-2zM2 21h1v1h-1zM1 22h1v1h-1zM5 22h1v1h-1zM3 27h1v1h-1zM3 28h1v1h-1zM1 31h1v1h-1zM2 36h1v1h-1zM4 42h1v1h-1zM6 42h1v1h-1zM1 44h1v1h-1zM0 45h1v1h-1zM2 46h1v1h-1zM5 49h1v1h-1zM2 51h1v1h-1zM4 51h1v1h-1zM1 52h1v1h-1zM5 57h1v1h-1zM2 63h1v1h-1zM4 65h1v1h-1zM4 66h1v1h-1zM1 67h1v1h-1zM5 67h1v1h-1zM5 69h1v1h-1zM1 71h1v1h-1zM3 79h1v1h-1zM3 80h1v1h-1zM1 88h1v1h-1zM4 89h2v1h-2zM2 91h1v1h-1zM1 92h1v1h-1zM3 92h1v1h-1zM4 93h1v1h-1zM2 96h1v1h-1zM6 97h1v1h-1zM1 98h1v1h-1zM6 100h1v1h-1zM3 101h2v1h-2zM4 107h1v1h-1zM0 108h2v1h-2zM4 109h1v1h-1zM2 112h1v1h-1zM1 115h2v1h-2zM1 117h1v1h-1zM4 119h2v1h-2zM5 123h1v1h-1zM5 124h1v1h-1zM3 128h1v1h-1zM1 129h1v1h-1zM3 130h1v1h-1zM1 133h1v1h-1zM1 134h1v1h-1zM1 135h1v1h-1zM1 138h1v1h-1zM3 138h1v1h-1zM2 141h3v1h-3zM1 142h1v1h-1zM1 144h1v1h-1zM1 145h1v1h-1zM3 145h1v1h-1z"/><path fill="#0000bf" d="M2 1h1v1h-1zM0 3h1v1h-1zM1 5h2v1h-2zM0 6h1v1h-1zM0 13h2v1h-2zM0 14h2v1h-2zM0 16h1v1h-1zM0 18h1v1h-1zM0 29h1v1h-1zM0 31h1v1h-1zM0 33h1v1h-1zM0 37h1v1h-1zM1 46h1v1h-1zM0 50h2v1h-2zM0 51h1v1h-1zM0 52h1v1h-1zM0 56h1v1h-1zM0 57h1v1h-1zM2 67h1v1h-1zM0 69h1v1h-1zM1 75h1v1h-1zM0 76h1v1h-1zM0 79h1v1h-1zM0 81h1v1h-1zM1 83h1v1h-1zM1 87h1v1h-1zM0 88h1v1h-1zM1 90h1v1h-1zM2 94h1v1h-1zM1 96h1v1h-1zM3 96h1v1h-1zM0 100h1v1h-1zM0 101h1v1h-1zM0 103h1v1h-1zM0 112h1v1h-1zM0 117h1v1h-1zM0 120h1v1h-1zM1 139h1v1h-1zM0 140h1v1h-1zM0 141h1v1h-1zM0 143h1v1h-1zM0 144h1v1h-1z"/><path fill="#0040ff" d="M4 1h1v1h-1zM6 1h1v1h-1zM3 7h1v1h-1zM2 9h1v1h-1zM4 9h1v1h-1zM1 10h2v1h-2zM1 11h1v1h-1zM7 12h1v1h-1zM3 15h1v1h-1zM4 19h1v1h-1zM5 20h1v1h-1zM4 21h1v1h-1zM3 23h3v1h-3zM5 24h1v1h-1zM2 26h2v1h-2zM5 26h1v1h-1zM4 27h1v1h-1zM7 29h1v1h-1zM2 30h1v1h-1zM4 32h1v1h-1zM7 35h1v1h-1zM1 36h1v1h-1zM3 36h2v1h-2zM5 37h1v1h-1zM7 38h1v1h-1zM7 41h1v1h-1zM6 43h1v1h-1zM5 44h1v1h-1zM5 46h1v1h-1zM5 48h1v1h-1zM2 49h1v1h-1zM4 49h1v1h-1zM2 50h1v1h-1zM4 53h1v1h-1zM4 54h1v1h-1zM3 56h1v1h-1zM4 58h1v1h-1zM6 62h1v1h-1zM7 63h1v1h-1zM6 64h1v1h-1zM5 65h1v1h-1zM2 66h1v1h-1zM2 68h2v1h-2zM2 69h1v1h-1zM4 71h1v1h-1zM3 72h1v1h-1zM5 72h1v1h-1zM6 73h1v1h-1zM3 74h1v1h-1zM5 77h1v1h-1zM5 78h2v1h-2zM4 79h1v1h-1zM5 80h1v1h-1zM6 81h1v1h-1zM2 82h1v1h-1zM4 84h1v1h-1zM6 84h1v1h-1zM2 85h1v1h-1zM2 87h1v1h-1zM4 88h1v1h-1zM7 89h1v1h-1zM5 90h1v1h-1zM5 91h1v1h-1zM6 92h1v1h-1zM3 93h1v1h-1zM6 94h1v1h-1zM3 97h2v1h-2zM4 98h1v1h-1zM4 100h1v1h-1zM4 102h1v1h-1zM6 102h1v1h-1zM6 103h1v1h-1zM4 104h2v1h-2zM5 107h1v1h-1zM5 108h1v1h-1zM2 110h1v1h-1zM4 111h1v1h-1zM4 118h1v1h-1zM1 119h1v1h-1zM3 119h1v1h-1zM5 121h2v1h-2zM5 122h1v1h-1zM4 124h1v1h-1zM6 124h1v1h-1zM5 125h1v1h-1zM4 126h2v1h-2zM2 127h1v1h-1zM5 128h1v1h-1zM5 129h1v1h-1zM5 130h2v1h-2zM3 134h1v1h-1zM5 137h1v1h-1zM4 139h1v1h-1zM5 140h1v1h-1zM3 142h1v1h-1zM5 145h1v1h-1zM3 146h1v1h-1zM5 146h1v1h-1zM2 148h1v1h-1zM4 148h1v1h-1z"/><path fill="#008fff" d="M7 1h1v1h-1zM6 4h1v1h-1zM7 6h1v1h-1zM7 10h1v1h-1zM5 11h1v1h-1zM3 13h1v1h-1zM7 13h1v1h-1zM7 16h1v1h-1zM7 18h1v1h-1zM6 21h2v1h-2zM6 22h1v1h-1zM7 32h1v1h-1zM4 33h2v1h-2zM7 34h1v1h-1zM7 37h1v1h-1zM8 41h1v1h-1zM5 42h1v1h-1zM8 45h1v1h-1zM6 46h1v1h-1zM9 46h1v1h-1zM8 48h1v1h-1zM7 49h1v1h-1zM6 51h1v1h-1zM6 56h3v1h-3zM5 59h1v1h-1zM8 62h1v1h-1zM7 66h1v1h-1zM7 69h1v1h-1zM8 71h1v1h-1zM8 77h1v1h-1zM5 79h1v1h-1zM7 79h1v1h-1zM6 80h1v1h-1zM8 80h1v1h-1zM6 83h1v1h-1zM5 85h2v1h-2zM8 87h1v1h-1zM8 94h1v1h-1zM7 96h1v1h-1zM8 98h1v1h-1zM7 100h1v1h-1zM7 108h1v1h-1zM6 111h1v1h-1zM6 113h1v1h-1zM7 114h1v1h-1zM5 115h1v1h-1zM8 126h1v1h-1zM9 136h1v1h-1zM7 140h1v1h-1zM5 141h3v1h-3zM7 143h2v1h-2z"/><path fill="#00bfff" d="M9 1h1v1h-1zM11 1h1v1h-1zM11 5h1v1h-1zM9 6h1v1h-1zM12 7h1v1h-1zM8 13h1v1h-1zM11 13h1v1h-1zM8 14h1v1h-1zM8 22h2v1h-2zM8 24h2v1h-2zM8 25h1v1h-1zM7 27h1v1h-1zM10 27h1v1h-1zM8 28h1v1h-1zM8 29h1v1h-1zM7 30h1v1h-1zM7 33h1v1h-1zM9 33h1v1h-1zM11 35h1v1h-1zM9 37h1v1h-1zM7 40h1v1h-1zM12 43h1v1h-1zM8 44h1v1h-1zM8 50h1v1h-1zM11 50h1v1h-1zM7 51h1v1h-1zM11 54h1v1h-1zM7 57h1v1h-1zM8 59h1v1h-1zM8 63h1v1h-1zM8 64h1v1h-1zM8 69h1v1h-1zM7 75h1v1h-1zM6 77h1v1h-1zM8 79h1v1h-1zM12 80h1v1h-1zM8 82h1v1h-1zM8 84h1v1h-1zM7 85h1v1h-1zM10 86h1v1h-1zM9 90h1v1h-1zM8 100h1v1h-1zM11 100h1v1h-1zM8 101h1v1h-1zM8 103h2v1h-2zM10 106h1v1h-1zM8 111h1v1h-1zM8 112h1v1h-1zM11 114h1v1h-1zM10 119h1v1h-1zM8 124h1v1h-1zM7 132h1v1h-1zM7 135h1v1h-1zM11 136h1v1h-1zM7 137h1v1h-1zM8 144h1v1h-1zM11 144h1v1h-1zM8 146h1v1h-1zM7 147h2v1h-2z"/><path fill="#00efff" d="M10 1h1v1h-1zM9 3h1v1h-1zM9 5h2v1h-2zM12 5h1v1h-1zM14 7h1v1h-1zM10 10h1v1h-1zM11 11h1v1h-1zM11 15h1v1h-1zM11 17h1v1h-1zM8 19h2v1h-2zM9 21h1v1h-1zM8 23h1v1h-1zM12 23h1v1h-1zM9 28h1v1h-1zM17 28h1v1h-1zM9 31h1v1h-1zM17 32h1v1h-1zM9 38h2v1h-2zM12 38h1v1h-1zM9 39h1v1h-1zM12 40h1v1h-1zM8 43h1v1h-1zM11 45h1v1h-1zM8 47h2v1h-2zM10 48h1v1h-1zM10 49h1v1h-1zM9 52h1v1h-1zM10 53h2v1h-2zM11 55h1v1h-1zM9 60h1v1h-1zM9 61h1v1h-1zM11 61h1v1h-1zM12 62h1v1h-1zM7 65h1v1h-1zM10 66h2v1h-2zM10 67h1v1h-1zM9 68h2v1h-2zM8 70h2v1h-2zM10 73h1v1h-1zM8 74h1v1h-1zM9 75h1v1h-1zM14 76h1v1h-1zM9 77h1v1h-1zM8 78h1v1h-1zM9 80h2v1h-2zM9 82h2v1h-2zM8 86h1v1h-1zM9 93h1v1h-1zM9 94h1v1h-1zM11 99h1v1h-1zM10 100h1v1h-1zM10 105h1v1h-1zM10 107h1v1h-1zM13 108h1v1h-1zM12 110h1v1h-1zM10 112h1v1h-1zM9 113h2v1h-2zM9 115h1v1h-1zM11 115h1v1h-1zM9 117h1v1h-1zM12 117h1v1h-1zM12 119h1v1h-1zM10 122h1v1h-1zM11 127h1v1h-1zM12 129h1v1h-1zM9 130h1v1h-1zM10 131h1v1h-1zM8 133h1v1h-1zM10 138h1v1h-1zM10 140h1v1h-1zM8 141h2v1h-2zM9 142h1v1h-1zM6 144h1v1h-1zM9 144h1v1h-1zM10 145h1v1h-1zM10 146h1v1h-1zM9 149h1v1h-1z"/><path fill="#80ff80" d="M12 1h1v1h-1zM16 1h1v1h-1zM13 3h1v1h-1zM16 3h1v1h-1zM15 5h2v1h-2zM15 9h1v1h-1zM15 10h2v1h-2zM12 14h1v1h-1zM13 17h3v1h-3zM14 21h1v1h-1zM12 25h1v1h-1zM16 26h1v1h-1zM14 28h2v1h-2zM17 31h1v1h-1zM14 33h1v1h-1zM16 33h1v1h-1zM17 34h1v1h-1zM17 36h1v1h-1zM16 37h1v1h-1zM17 43h1v1h-1zM13 45h1v1h-1zM14 55h1v1h-1zM13 56h1v1h-1zM13 59h1v1h-1zM13 60h1v1h-1zM15 60h1v1h-1zM14 62h1v1h-1zM16 65h1v1h-1zM13 70h1v1h-1zM16 70h1v1h-1zM15 72h1v1h-1zM16 73h1v1h-1zM15 75h1v1h-1zM17 75h1v1h-1zM14 83h1v1h-1zM13 87h1v1h-1zM16 88h1v1h-1zM15 91h1v1h-1zM13 92h1v1h-1zM15 93h1v1h-1zM13 97h1v1h-1zM15 98h1v1h-1zM16 100h2v1h-2zM16 103h1v1h-1zM14 106h1v1h-1zM17 106h1v1h-1zM15 107h1v1h-1zM14 113h1v1h-1zM14 115h1v1h-1zM16 116h1v1h-1zM14 120h1v1h-1zM16 120h2v1h-2zM15 121h1v1h-1zM17 121h1v1h-1zM17 125h1v1h-1zM17 127h1v1h-1zM13 130h1v1h-1zM13 131h1v1h-1zM12 132h1v1h-1zM12 134h2v1h-2zM17 143h1v1h-1zM15 144h1v1h-1zM13 146h1v1h-1zM14 148h1v1h-1zM17 148h1v1h-1z"/><path fill="#10ffef" d="M13 1h1v1h-1zM9 2h3v1h-3zM11 3h2v1h-2zM9 4h2v1h-2zM8 5h1v1h-1zM17 7h1v1h-1zM8 8h1v1h-1zM9 9h1v1h-1zM12 13h1v1h-1zM10 16h1v1h-1zM13 16h1v1h-1zM10 18h1v1h-1zM10 19h2v1h-2zM9 20h1v1h-1zM11 20h1v1h-1zM10 22h1v1h-1zM12 22h1v1h-1zM9 23h1v1h-1zM9 25h1v1h-1zM10 32h1v1h-1zM14 32h1v1h-1zM12 33h1v1h-1zM15 35h1v1h-1zM8 36h1v1h-1zM10 36h2v1h-2zM14 38h1v1h-1zM12 39h1v1h-1zM12 44h2v1h-2zM13 46h1v1h-1zM11 47h1v1h-1zM9 51h1v1h-1zM12 56h1v1h-1zM8 57h2v1h-2zM9 58h1v1h-1zM11 58h1v1h-1zM11 62h1v1h-1zM11 63h1v1h-1zM13 64h1v1h-1zM12 65h1v1h-1zM10 70h1v1h-1zM12 70h1v1h-1zM12 74h1v1h-1zM16 74h1v1h-1zM12 75h1v1h-1zM10 77h1v1h-1zM11 81h1v1h-1zM9 83h3v1h-3zM14 84h1v1h-1zM10 87h1v1h-1zM10 88h1v1h-1zM13 88h1v1h-1zM11 89h1v1h-1zM10 95h1v1h-1zM9 98h1v1h-1zM10 99h1v1h-1zM10 101h2v1h-2zM10 103h1v1h-1zM9 104h1v1h-1zM12 104h1v1h-1zM12 105h1v1h-1zM12 106h1v1h-1zM12 107h1v1h-1zM8 113h1v1h-1zM10 114h1v1h-1zM12 115h1v1h-1zM15 115h1v1h-1zM13 118h1v1h-1zM8 121h1v1h-1zM12 121h1v1h-1zM9 127h1v1h-1zM12 128h1v1h-1zM8 132h1v1h-1zM9 133h1v1h-1zM9 134h1v1h-1zM10 135h1v1h-1zM8 136h1v1h-1zM10 137h1v1h-1zM8 138h1v1h-1zM10 139h1v1h-1zM10 142h1v1h-1zM12 142h1v1h-1zM12 145h2v1h-2zM11 147h1v1h-1zM11 148h1v1h-1zM14 149h1v1h-1z"/><path fill="#60ff9f" d="M15 1h1v1h-1zM14 2h3v1h-3zM14 3h1v1h-1zM13 5h1v1h-1zM12 10h1v1h-1zM11 12h1v1h-1zM12 18h2v1h-2zM12 20h1v1h-1zM13 23h1v1h-1zM15 29h1v1h-1zM12 30h1v1h-1zM15 31h1v1h-1zM13 34h1v1h-1zM15 36h1v1h-1zM16 39h1v1h-1zM13 40h1v1h-1zM13 43h2v1h-2zM17 45h1v1h-1zM17 46h1v1h-1zM12 47h1v1h-1zM14 50h2v1h-2zM15 51h1v1h-1zM11 52h1v1h-1zM13 52h1v1h-1zM12 59h1v1h-1zM14 63h1v1h-1zM13 66h1v1h-1zM16 66h1v1h-1zM14 67h1v1h-1zM15 69h1v1h-1zM17 72h1v1h-1zM14 73h1v1h-1zM17 76h1v1h-1zM14 77h1v1h-1zM17 78h1v1h-1zM12 79h1v1h-1zM15 80h1v1h-1zM13 81h1v1h-1zM12 83h1v1h-1zM13 84h1v1h-1zM13 85h1v1h-1zM15 86h1v1h-1zM15 89h1v1h-1zM12 92h1v1h-1zM13 94h1v1h-1zM13 95h1v1h-1zM16 96h1v1h-1zM11 97h1v1h-1zM17 97h1v1h-1zM13 99h1v1h-1zM16 102h1v1h-1zM17 104h1v1h-1zM13 105h1v1h-1zM16 105h1v1h-1zM16 106h1v1h-1zM14 109h1v1h-1zM17 109h1v1h-1zM11 111h1v1h-1zM16 112h1v1h-1zM10 116h1v1h-1zM13 116h1v1h-1zM15 117h1v1h-1zM13 121h1v1h-1zM15 125h1v1h-1zM10 126h1v1h-1zM16 127h1v1h-1zM14 128h1v1h-1zM14 137h1v1h-1zM15 139h1v1h-1zM17 139h1v1h-1zM15 141h1v1h-1zM13 142h1v1h-1zM13 144h1v1h-1zM16 144h1v1h-1zM14 145h1v1h-1z"/><path fill="#0000df" d="M1 2h1v1h-1zM0 4h2v1h-2zM0 7h1v1h-1zM1 12h1v1h-1zM4 12h1v1h-1zM2 13h1v1h-1zM1 17h1v1h-1zM0 28h1v1h-1zM5 35h1v1h-1zM1 37h1v1h-1zM0 40h1v1h-1zM4 41h1v1h-1zM0 43h2v1h-2zM4 45h1v1h-1zM0 49h1v1h-1zM0 54h1v1h-1zM3 54h1v1h-1zM0 55h1v1h-1zM1 56h1v1h-1zM1 60h1v1h-1zM3 60h1v1h-1zM0 61h1v1h-1zM2 64h1v1h-1zM1 66h1v1h-1zM0 72h1v1h-1zM2 72h1v1h-1zM1 76h1v1h-1zM1 79h1v1h-1zM1 81h3v1h-3zM2 84h1v1h-1zM1 91h1v1h-1zM0 94h1v1h-1zM1 101h1v1h-1zM0 107h1v1h-1zM0 109h1v1h-1zM0 113h1v1h-1zM1 116h1v1h-1zM0 119h1v1h-1zM3 120h1v1h-1zM2 121h1v1h-1zM2 122h1v1h-1zM1 124h1v1h-1zM0 125h1v1h-1zM1 127h1v1h-1zM4 129h1v1h-1zM1 132h1v1h-1zM1 140h1v1h-1zM0 142h1v1h-1zM1 143h1v1h-1zM2 145h1v1h-1zM0 149h1v1h-1z"/><path fill="#20ffdf" d="M8 2h1v1h-1zM13 2h1v1h-1zM15 3h1v1h-1zM11 10h1v1h-1zM12 11h1v1h-1zM13 15h1v1h-1zM12 17h1v1h-1zM10 20h1v1h-1zM13 21h1v1h-1zM16 22h1v1h-1zM10 25h1v1h-1zM13 25h1v1h-1zM10 26h1v1h-1zM14 26h1v1h-1zM11 27h1v1h-1zM11 28h1v1h-1zM10 29h1v1h-1zM11 32h1v1h-1zM13 33h1v1h-1zM15 33h1v1h-1zM10 35h1v1h-1zM13 36h1v1h-1zM17 37h1v1h-1zM8 38h1v1h-1zM11 38h1v1h-1zM15 38h1v1h-1zM10 39h1v1h-1zM17 39h1v1h-1zM9 42h1v1h-1zM12 42h1v1h-1zM10 44h1v1h-1zM15 44h1v1h-1zM10 45h1v1h-1zM11 46h1v1h-1zM10 50h1v1h-1zM10 52h1v1h-1zM10 55h1v1h-1zM10 59h1v1h-1zM14 59h1v1h-1zM11 60h1v1h-1zM13 61h1v1h-1zM10 64h1v1h-1zM14 68h1v1h-1zM16 68h1v1h-1zM10 72h1v1h-1zM10 74h1v1h-1zM10 79h1v1h-1zM16 79h1v1h-1zM13 83h1v1h-1zM10 84h1v1h-1zM12 84h1v1h-1zM10 85h1v1h-1zM14 85h1v1h-1zM9 86h1v1h-1zM11 90h1v1h-1zM10 94h1v1h-1zM9 95h1v1h-1zM11 95h1v1h-1zM9 96h2v1h-2zM10 97h1v1h-1zM12 97h1v1h-1zM16 99h1v1h-1zM9 100h1v1h-1zM9 101h1v1h-1zM14 101h1v1h-1zM11 106h1v1h-1zM13 106h1v1h-1zM9 107h1v1h-1zM10 109h1v1h-1zM16 109h1v1h-1zM11 112h1v1h-1zM15 119h1v1h-1zM9 120h1v1h-1zM10 121h1v1h-1zM11 122h1v1h-1zM11 123h1v1h-1zM9 125h2v1h-2zM11 126h1v1h-1zM8 130h1v1h-1zM9 132h1v1h-1zM10 134h2v1h-2zM8 137h1v1h-1zM15 137h2v1h-2zM12 139h1v1h-1zM12 140h2v1h-2zM12 143h1v1h-1zM17 146h1v1h-1zM10 147h1v1h-1zM8 148h1v1h-1zM16 148h1v1h-1zM10 149h1v1h-1z"/><path fill="#30ffcf" d="M17 2h1v1h-1zM12 4h1v1h-1zM12 8h1v1h-1zM10 9h1v1h-1zM13 11h1v1h-1zM9 12h1v1h-1zM12 16h1v1h-1zM8 17h1v1h-1zM14 18h1v1h-1zM11 21h1v1h-1zM13 22h1v1h-1zM15 22h1v1h-1zM10 23h1v1h-1zM15 23h1v1h-1zM10 28h1v1h-1zM12 28h1v1h-1zM13 31h1v1h-1zM14 34h1v1h-1zM12 35h1v1h-1zM14 35h1v1h-1zM12 36h1v1h-1zM12 37h1v1h-1zM15 39h1v1h-1zM11 40h1v1h-1zM11 44h1v1h-1zM14 46h1v1h-1zM14 47h1v1h-1zM12 48h1v1h-1zM12 50h1v1h-1zM10 51h1v1h-1zM9 53h1v1h-1zM12 54h1v1h-1zM12 55h1v1h-1zM12 57h1v1h-1zM12 60h1v1h-1zM10 61h1v1h-1zM12 61h1v1h-1zM12 64h1v1h-1zM16 64h1v1h-1zM11 65h1v1h-1zM12 66h1v1h-1zM15 70h1v1h-1zM10 71h1v1h-1zM12 71h1v1h-1zM15 71h1v1h-1zM12 73h1v1h-1zM15 73h1v1h-1zM14 74h1v1h-1zM9 81h1v1h-1zM11 85h2v1h-2zM11 87h1v1h-1zM10 93h1v1h-1zM12 93h1v1h-1zM12 99h1v1h-1zM12 100h2v1h-2zM11 104h1v1h-1zM11 108h2v1h-2zM9 114h1v1h-1zM13 114h1v1h-1zM16 117h1v1h-1zM10 118h1v1h-1zM12 118h1v1h-1zM10 123h1v1h-1zM12 123h1v1h-1zM10 124h1v1h-1zM12 124h1v1h-1zM12 125h1v1h-1zM10 127h1v1h-1zM11 128h1v1h-1zM11 129h1v1h-1zM12 131h1v1h-1zM10 132h1v1h-1zM11 133h1v1h-1zM13 133h1v1h-1zM12 136h1v1h-1zM8 142h1v1h-1zM10 144h1v1h-1zM12 144h1v1h-1zM12 146h1v1h-1zM10 148h1v1h-1zM12 148h1v1h-1z"/><path fill="#0010ff" d="M1 3h1v1h-1zM2 12h1v1h-1zM4 15h1v1h-1zM1 16h1v1h-1zM2 18h1v1h-1zM0 20h1v1h-1zM1 21h1v1h-1zM2 22h1v1h-1zM2 24h2v1h-2zM2 27h1v1h-1zM0 30h1v1h-1zM3 30h1v1h-1zM1 33h1v1h-1zM3 34h1v1h-1zM4 35h1v1h-1zM1 41h2v1h-2zM3 46h1v1h-1zM2 47h1v1h-1zM4 48h1v1h-1zM5 50h1v1h-1zM3 55h1v1h-1zM2 57h1v1h-1zM1 59h1v1h-1zM7 59h1v1h-1zM2 62h1v1h-1zM4 62h1v1h-1zM1 63h1v1h-1zM3 64h1v1h-1zM3 65h1v1h-1zM3 70h1v1h-1zM3 75h1v1h-1zM4 77h1v1h-1zM2 78h1v1h-1zM1 80h2v1h-2zM1 82h1v1h-1zM4 83h1v1h-1zM3 85h1v1h-1zM1 86h2v1h-2zM5 86h1v1h-1zM2 92h1v1h-1zM4 96h1v1h-1zM2 98h1v1h-1zM2 102h1v1h-1zM3 104h1v1h-1zM2 105h1v1h-1zM4 105h1v1h-1zM1 107h3v1h-3zM3 113h1v1h-1zM3 114h1v1h-1zM6 114h1v1h-1zM3 118h1v1h-1zM1 121h1v1h-1zM6 125h1v1h-1zM3 127h1v1h-1zM1 128h1v1h-1zM1 131h1v1h-1zM2 132h2v1h-2zM4 134h1v1h-1zM2 135h1v1h-1zM4 136h1v1h-1zM0 139h1v1h-1zM2 140h1v1h-1zM2 143h1v1h-1zM4 144h1v1h-1zM2 149h2v1h-2z"/><path fill="#70ff8f" d="M17 3h1v1h-1zM14 4h3v1h-3zM13 6h1v1h-1zM13 7h1v1h-1zM16 7h1v1h-1zM14 10h1v1h-1zM13 28h1v1h-1zM13 29h1v1h-1zM14 30h1v1h-1zM10 33h1v1h-1zM14 36h1v1h-1zM16 38h1v1h-1zM17 40h1v1h-1zM13 42h1v1h-1zM14 44h1v1h-1zM16 48h1v1h-1zM14 49h1v1h-1zM17 49h1v1h-1zM17 52h1v1h-1zM14 54h1v1h-1zM14 57h1v1h-1zM13 62h1v1h-1zM15 62h1v1h-1zM16 67h1v1h-1zM15 68h1v1h-1zM13 71h1v1h-1zM15 74h1v1h-1zM17 74h1v1h-1zM13 76h1v1h-1zM15 76h1v1h-1zM17 79h1v1h-1zM13 82h1v1h-1zM17 82h1v1h-1zM17 86h1v1h-1zM14 87h1v1h-1zM17 89h1v1h-1zM13 90h1v1h-1zM14 92h1v1h-1zM16 92h1v1h-1zM14 97h2v1h-2zM13 98h1v1h-1zM15 99h1v1h-1zM12 103h2v1h-2zM15 104h1v1h-1zM16 108h2v1h-2zM13 109h1v1h-1zM13 110h2v1h-2zM15 114h1v1h-1zM14 117h1v1h-1zM14 118h1v1h-1zM17 122h1v1h-1zM13 135h1v1h-1zM15 135h1v1h-1zM17 137h1v1h-1zM15 138h1v1h-1zM15 140h1v1h-1zM17 140h1v1h-1zM15 142h2v1h-2zM12 147h2v1h-2zM13 148h1v1h-1zM13 149h1v1h-1z"/><path fill="#efff10" d="M13 4h1v1h-1zM15 13h1v1h-1zM17 13h1v1h-1zM16 23h1v1h-1zM16 49h1v1h-1zM16 56h1v1h-1zM17 58h1v1h-1zM17 59h1v1h-1zM13 72h1v1h-1zM14 86h1v1h-1zM13 89h1v1h-1zM16 95h1v1h-1zM14 98h1v1h-1zM14 99h1v1h-1zM16 115h1v1h-1zM15 123h1v1h-1zM16 124h1v1h-1zM16 133h1v1h-1zM13 136h1v1h-1zM14 138h1v1h-1zM13 139h1v1h-1zM16 139h1v1h-1z"/><path fill="#8fff70" d="M17 4h1v1h-1zM16 6h1v1h-1zM13 8h2v1h-2zM16 12h1v1h-1zM13 13h1v1h-1zM15 16h1v1h-1zM15 18h1v1h-1zM15 19h1v1h-1zM13 20h2v1h-2zM17 22h1v1h-1zM14 23h1v1h-1zM12 24h1v1h-1zM15 24h1v1h-1zM17 24h1v1h-1zM15 25h1v1h-1zM13 26h1v1h-1zM16 27h1v1h-1zM12 29h1v1h-1zM16 30h1v1h-1zM14 31h1v1h-1zM16 32h1v1h-1zM13 37h1v1h-1zM14 41h1v1h-1zM16 41h1v1h-1zM14 42h1v1h-1zM15 46h1v1h-1zM15 48h1v1h-1zM13 50h1v1h-1zM15 52h1v1h-1zM13 55h1v1h-1zM15 57h1v1h-1zM13 58h1v1h-1zM14 61h1v1h-1zM12 63h1v1h-1zM15 64h1v1h-1zM17 68h1v1h-1zM13 74h1v1h-1zM15 77h2v1h-2zM14 80h1v1h-1zM16 80h1v1h-1zM12 81h1v1h-1zM17 81h1v1h-1zM15 84h1v1h-1zM16 86h1v1h-1zM14 88h2v1h-2zM13 96h1v1h-1zM14 100h1v1h-1zM17 103h1v1h-1zM14 104h1v1h-1zM11 105h1v1h-1zM15 106h1v1h-1zM16 107h2v1h-2zM14 111h1v1h-1zM17 111h1v1h-1zM15 112h1v1h-1zM17 112h1v1h-1zM16 113h2v1h-2zM14 114h1v1h-1zM13 120h1v1h-1zM16 121h1v1h-1zM14 122h2v1h-2zM13 124h1v1h-1zM12 126h2v1h-2zM15 126h1v1h-1zM14 129h1v1h-1zM17 134h1v1h-1zM14 135h1v1h-1zM17 135h1v1h-1zM14 139h1v1h-1zM14 140h1v1h-1zM15 145h1v1h-1zM17 147h1v1h-1z"/><path fill="#00afff" d="M7 5h1v1h-1zM6 6h1v1h-1zM8 7h1v1h-1zM5 8h1v1h-1zM6 12h1v1h-1zM7 14h1v1h-1zM9 14h1v1h-1zM7 15h1v1h-1zM11 18h1v1h-1zM11 26h1v1h-1zM9 29h1v1h-1zM5 30h1v1h-1zM9 35h1v1h-1zM8 39h1v1h-1zM8 42h1v1h-1zM11 42h1v1h-1zM8 46h1v1h-1zM7 48h1v1h-1zM7 50h1v1h-1zM8 51h1v1h-1zM7 52h1v1h-1zM7 54h1v1h-1zM8 61h1v1h-1zM9 67h1v1h-1zM9 71h1v1h-1zM7 74h1v1h-1zM8 75h1v1h-1zM7 78h1v1h-1zM7 80h1v1h-1zM8 83h1v1h-1zM11 84h1v1h-1zM7 88h1v1h-1zM7 92h1v1h-1zM11 93h1v1h-1zM7 95h1v1h-1zM9 99h1v1h-1zM8 108h1v1h-1zM9 109h1v1h-1zM8 119h1v1h-1zM7 121h1v1h-1zM6 123h1v1h-1zM7 126h1v1h-1zM7 127h1v1h-1zM12 127h1v1h-1zM8 131h1v1h-1zM7 133h1v1h-1zM8 135h1v1h-1zM11 138h1v1h-1zM8 140h1v1h-1zM7 148h1v1h-1zM8 149h1v1h-1zM12 149h1v1h-1z"/><path fill="#00cfff" d="M8 6h1v1h-1zM11 6h1v1h-1zM9 7h1v1h-1zM12 19h1v1h-1zM8 20h1v1h-1zM8 21h1v1h-1zM11 24h1v1h-1zM11 25h1v1h-1zM8 26h2v1h-2zM11 29h1v1h-1zM10 30h2v1h-2zM10 31h2v1h-2zM8 32h1v1h-1zM11 33h1v1h-1zM8 34h1v1h-1zM8 37h1v1h-1zM11 37h1v1h-1zM8 40h1v1h-1zM10 41h2v1h-2zM7 42h1v1h-1zM11 43h1v1h-1zM9 44h1v1h-1zM10 46h1v1h-1zM11 49h1v1h-1zM9 50h1v1h-1zM8 52h1v1h-1zM8 53h1v1h-1zM9 54h1v1h-1zM9 56h1v1h-1zM8 58h1v1h-1zM7 62h1v1h-1zM13 65h1v1h-1zM8 66h1v1h-1zM12 67h1v1h-1zM8 68h1v1h-1zM9 69h1v1h-1zM12 72h1v1h-1zM8 73h1v1h-1zM10 75h1v1h-1zM8 76h1v1h-1zM11 76h1v1h-1zM11 79h1v1h-1zM11 80h1v1h-1zM9 84h1v1h-1zM8 85h2v1h-2zM9 88h1v1h-1zM8 89h2v1h-2zM11 91h1v1h-1zM8 92h1v1h-1zM9 102h1v1h-1zM10 104h1v1h-1zM8 105h1v1h-1zM8 107h1v1h-1zM9 110h1v1h-1zM9 111h1v1h-1zM11 116h1v1h-1zM7 117h1v1h-1zM11 118h1v1h-1zM10 120h1v1h-1zM12 120h1v1h-1zM9 121h1v1h-1zM9 122h1v1h-1zM9 129h1v1h-1zM11 132h1v1h-1zM8 134h1v1h-1zM9 137h1v1h-1zM11 139h1v1h-1zM11 140h1v1h-1zM10 143h1v1h-1z"/><path fill="#9fff60" d="M17 6h1v1h-1zM17 8h1v1h-1zM13 9h1v1h-1zM15 11h1v1h-1zM12 12h1v1h-1zM15 14h1v1h-1zM15 21h1v1h-1zM14 22h1v1h-1zM13 24h1v1h-1zM14 25h1v1h-1zM17 26h1v1h-1zM17 29h1v1h-1zM15 30h1v1h-1zM17 30h1v1h-1zM16 35h2v1h-2zM16 40h1v1h-1zM17 42h1v1h-1zM16 46h1v1h-1zM15 47h2v1h-2zM16 52h1v1h-1zM17 56h1v1h-1zM14 58h1v1h-1zM10 63h1v1h-1zM15 63h1v1h-1zM17 63h1v1h-1zM17 64h1v1h-1zM16 69h1v1h-1zM15 87h2v1h-2zM17 90h1v1h-1zM13 91h1v1h-1zM16 91h1v1h-1zM13 93h2v1h-2zM14 94h1v1h-1zM16 97h1v1h-1zM17 99h1v1h-1zM14 102h2v1h-2zM16 104h1v1h-1zM17 110h1v1h-1zM14 119h1v1h-1zM14 123h1v1h-1zM15 124h1v1h-1zM17 130h1v1h-1zM15 131h1v1h-1zM12 135h1v1h-1zM13 141h1v1h-1zM16 141h1v1h-1zM14 144h1v1h-1zM14 146h1v1h-1zM14 147h1v1h-1zM15 149h3v1h-3z"/><path fill="#cfff30" d="M16 8h1v1h-1zM17 11h1v1h-1zM15 12h1v1h-1zM15 15h1v1h-1zM14 16h1v1h-1zM14 19h1v1h-1zM17 21h1v1h-1zM16 25h1v1h-1zM15 26h1v1h-1zM15 27h1v1h-1zM17 27h1v1h-1zM17 33h1v1h-1zM15 43h1v1h-1zM17 44h1v1h-1zM12 46h1v1h-1zM17 47h1v1h-1zM16 51h1v1h-1zM13 53h1v1h-1zM15 54h1v1h-1zM15 55h1v1h-1zM15 56h1v1h-1zM15 58h1v1h-1zM17 61h1v1h-1zM14 65h1v1h-1zM14 71h1v1h-1zM16 76h1v1h-1zM17 77h1v1h-1zM14 81h1v1h-1zM17 94h1v1h-1zM15 95h1v1h-1zM13 102h1v1h-1zM15 103h1v1h-1zM13 107h1v1h-1zM16 118h1v1h-1zM17 119h1v1h-1zM15 127h1v1h-1zM15 128h1v1h-1zM17 129h1v1h-1zM14 130h1v1h-1zM14 132h1v1h-1zM14 134h1v1h-1zM16 134h1v1h-1zM17 138h1v1h-1z"/><path fill="#00009f" d="M0 9h1v1h-1zM0 15h1v1h-1zM0 25h1v1h-1zM0 32h1v1h-1zM0 46h1v1h-1zM1 54h1v1h-1zM0 60h1v1h-1zM0 66h1v1h-1zM0 70h1v1h-1zM0 71h1v1h-1zM0 84h1v1h-1zM0 91h1v1h-1zM0 93h1v1h-1zM0 106h1v1h-1zM0 116h1v1h-1zM2 130h1v1h-1zM0 136h1v1h-1z"/><path fill="#dfff20" d="M14 9h1v1h-1zM17 12h1v1h-1zM16 15h1v1h-1zM17 17h1v1h-1zM17 19h1v1h-1zM16 24h1v1h-1zM16 28h1v1h-1zM15 53h1v1h-1zM16 57h1v1h-1zM16 60h1v1h-1zM15 61h1v1h-1zM15 66h1v1h-1zM17 67h1v1h-1zM17 73h1v1h-1zM16 75h1v1h-1zM16 81h1v1h-1zM17 87h1v1h-1zM14 90h1v1h-1zM17 91h1v1h-1zM15 92h1v1h-1zM14 95h1v1h-1zM14 96h1v1h-1zM16 122h1v1h-1zM14 125h1v1h-1zM16 126h1v1h-1zM14 127h1v1h-1zM15 132h1v1h-1zM16 136h1v1h-1z"/><path fill="#ffef00" d="M17 9h1v1h-1zM14 15h1v1h-1zM17 20h1v1h-1zM16 128h1v1h-1zM16 129h1v1h-1zM16 130h1v1h-1zM17 141h1v1h-1z"/><path fill="#ffcf00" d="M14 12h1v1h-1zM16 13h1v1h-1zM16 17h1v1h-1zM17 126h1v1h-1z"/><path fill="#ffdf00" d="M14 13h1v1h-1zM16 21h1v1h-1zM13 125h1v1h-1zM17 128h1v1h-1zM17 133h1v1h-1z"/><path fill="#4a3a12" d="M14 14h1v1h-1zM16 18h2v1h-2zM14 53h1v1h-1zM15 59h1v1h-1zM16 61h1v1h-1zM16 93h2v1h-2zM15 96h1v1h-1zM16 98h1v1h-1zM13 128h1v1h-1zM17 131h1v1h-1zM14 136h1v1h-1z"/><path fill="#ff9f00" d="M17 15h1v1h-1z"/><path fill="#0000af" d="M0 23h1v1h-1zM0 24h1v1h-1zM1 28h1v1h-1zM1 39h1v1h-1zM1 40h1v1h-1zM0 41h1v1h-1zM1 47h1v1h-1zM0 62h1v1h-1zM0 63h1v1h-1zM0 65h1v1h-1zM0 68h1v1h-1zM0 74h1v1h-1zM0 75h1v1h-1zM1 77h1v1h-1zM0 85h1v1h-1zM0 110h1v1h-1zM1 113h1v1h-1zM2 114h1v1h-1zM0 121h1v1h-1zM0 122h2v1h-2zM1 130h1v1h-1zM0 134h1v1h-1zM0 137h1v1h-1zM0 147h1v1h-1z"/><path fill="#ff7000" d="M16 50h1v1h-1zM17 51h1v1h-1zM16 53h1v1h-1zM17 55h1v1h-1z"/><path fill="#ffbf00" d="M17 57h1v1h-1z"/><path fill="#ffaf00" d="M16 123h1v1h-1z"/></svg><div class="edge"></div><div class="ledge"></div></div><div class="ax" style="left:221.8px;top:224px;width:18.8px;height:150px"><svg width="18.8" height="150" viewBox="0 0 1 64" preserveAspectRatio="none" shape-rendering="crispEdges" style="position:absolute;left:0;top:0"><rect x="0" y="0" width="1" height="1" fill="#800000"/><rect x="0" y="1" width="1" height="1" fill="#8f0000"/><rect x="0" y="2" width="1" height="1" fill="#9f0000"/><rect x="0" y="3" width="1" height="1" fill="#af0000"/><rect x="0" y="4" width="1" height="1" fill="#bf0000"/><rect x="0" y="5" width="1" height="1" fill="#cf0000"/><rect x="0" y="6" width="1" height="1" fill="#df0000"/><rect x="0" y="7" width="1" height="1" fill="#ef0000"/><rect x="0" y="8" width="1" height="1" fill="#ff0000"/><rect x="0" y="9" width="1" height="1" fill="#ff1000"/><rect x="0" y="10" width="1" height="1" fill="#ff2000"/><rect x="0" y="11" width="1" height="1" fill="#ff3000"/><rect x="0" y="12" width="1" height="1" fill="#ff4000"/><rect x="0" y="13" width="1" height="1" fill="#ff5000"/><rect x="0" y="14" width="1" height="1" fill="#ff6000"/><rect x="0" y="15" width="1" height="1" fill="#ff7000"/><rect x="0" y="16" width="1" height="1" fill="#ff8000"/><rect x="0" y="17" width="1" height="1" fill="#ff8f00"/><rect x="0" y="18" width="1" height="1" fill="#ff9f00"/><rect x="0" y="19" width="1" height="1" fill="#ffaf00"/><rect x="0" y="20" width="1" height="1" fill="#ffbf00"/><rect x="0" y="21" width="1" height="1" fill="#ffcf00"/><rect x="0" y="22" width="1" height="1" fill="#ffdf00"/><rect x="0" y="23" width="1" height="1" fill="#ffef00"/><rect x="0" y="24" width="1" height="1" fill="#ffff00"/><rect x="0" y="25" width="1" height="1" fill="#efff10"/><rect x="0" y="26" width="1" height="1" fill="#dfff20"/><rect x="0" y="27" width="1" height="1" fill="#cfff30"/><rect x="0" y="28" width="1" height="1" fill="#bfff40"/><rect x="0" y="29" width="1" height="1" fill="#afff50"/><rect x="0" y="30" width="1" height="1" fill="#9fff60"/><rect x="0" y="31" width="1" height="1" fill="#8fff70"/><rect x="0" y="32" width="1" height="1" fill="#80ff80"/><rect x="0" y="33" width="1" height="1" fill="#70ff8f"/><rect x="0" y="34" width="1" height="1" fill="#60ff9f"/><rect x="0" y="35" width="1" height="1" fill="#50ffaf"/><rect x="0" y="36" width="1" height="1" fill="#40ffbf"/><rect x="0" y="37" width="1" height="1" fill="#30ffcf"/><rect x="0" y="38" width="1" height="1" fill="#20ffdf"/><rect x="0" y="39" width="1" height="1" fill="#10ffef"/><rect x="0" y="40" width="1" height="1" fill="#00ffff"/><rect x="0" y="41" width="1" height="1" fill="#00efff"/><rect x="0" y="42" width="1" height="1" fill="#00dfff"/><rect x="0" y="43" width="1" height="1" fill="#00cfff"/><rect x="0" y="44" width="1" height="1" fill="#00bfff"/><rect x="0" y="45" width="1" height="1" fill="#00afff"/><rect x="0" y="46" width="1" height="1" fill="#009fff"/><rect x="0" y="47" width="1" height="1" fill="#008fff"/><rect x="0" y="48" width="1" height="1" fill="#0080ff"/><rect x="0" y="49" width="1" height="1" fill="#0070ff"/><rect x="0" y="50" width="1" height="1" fill="#0060ff"/><rect x="0" y="51" width="1" height="1" fill="#0050ff"/><rect x="0" y="52" width="1" height="1" fill="#0040ff"/><rect x="0" y="53" width="1" height="1" fill="#0030ff"/><rect x="0" y="54" width="1" height="1" fill="#0020ff"/><rect x="0" y="55" width="1" height="1" fill="#0010ff"/><rect x="0" y="56" width="1" height="1" fill="#0000ff"/><rect x="0" y="57" width="1" height="1" fill="#0000ef"/><rect x="0" y="58" width="1" height="1" fill="#0000df"/><rect x="0" y="59" width="1" height="1" fill="#0000cf"/><rect x="0" y="60" width="1" height="1" fill="#0000bf"/><rect x="0" y="61" width="1" height="1" fill="#0000af"/><rect x="0" y="62" width="1" height="1" fill="#00009f"/><rect x="0" y="63" width="1" height="1" fill="#00008f"/></svg><div class="box"></div></div><div class="lab" style="left:122.6px;top:209.7px">Maximum error of wind speed, m/s</div><div class="lab" style="left:122.6px;top:392.5px">Wind speed, m/s</div><div class="ylab" style="left:10.599999999999998px;top:299.0px">Wind direction, deg.</div><div class="xt" style="left:66.36666666666666px;top:378.4px">5</div><div class="xt" style="left:113.47777777777776px;top:378.4px">10</div><div class="xt" style="left:160.5888888888889px;top:378.4px">15</div><div class="xt" style="left:207.7px;top:378.4px">20</div><div class="yt" style="right:516.1px;top:368.5px">0</div><div class="yt" style="right:516.1px;top:349.75px">45</div><div class="yt" style="right:516.1px;top:331.0px">90</div><div class="yt" style="right:516.1px;top:312.25px">135</div><div class="yt" style="right:516.1px;top:293.5px">180</div><div class="yt" style="right:516.1px;top:274.75px">225</div><div class="yt" style="right:516.1px;top:256.0px">270</div><div class="yt" style="right:516.1px;top:237.25px">315</div><div class="yt" style="right:516.1px;top:218.5px">360</div><div class="ctk" style="left:238.40000000000003px;top:346.5px"></div><div class="ct" style="left:244.10000000000002px;top:341.5px">0.1</div><div class="ctk" style="left:238.40000000000003px;top:314.8px"></div><div class="ct" style="left:244.10000000000002px;top:309.8px">0.2</div><div class="ctk" style="left:238.40000000000003px;top:283.8px"></div><div class="ct" style="left:244.10000000000002px;top:278.8px">0.3</div><div class="ctk" style="left:238.40000000000003px;top:252.1px"></div><div class="ct" style="left:244.10000000000002px;top:247.1px">0.4</div><div class="ax" style="left:328.4px;top:224px;width:171px;height:150px"><svg width="171" height="150" viewBox="0 0 18 150" preserveAspectRatio="none" shape-rendering="crispEdges" style="position:absolute;left:0;top:0;filter:blur(0.35px)"><path fill="#10ffef" d="M0 0h1v1h-1zM0 26h1v1h-1zM0 42h1v1h-1zM0 43h1v1h-1zM7 67h1v1h-1zM0 68h1v1h-1zM0 76h1v1h-1zM0 82h1v1h-1zM0 83h1v1h-1zM0 86h1v1h-1zM5 96h1v1h-1zM1 101h1v1h-1z"/><path fill="#009fff" d="M1 0h1v1h-1zM1 1h1v1h-1zM3 2h1v1h-1zM1 3h1v1h-1zM1 4h1v1h-1zM1 5h1v1h-1zM3 8h1v1h-1zM3 9h1v1h-1zM2 11h2v1h-2zM1 12h1v1h-1zM2 16h1v1h-1zM1 19h1v1h-1zM1 20h1v1h-1zM1 21h1v1h-1zM9 21h1v1h-1zM1 22h1v1h-1zM2 23h1v1h-1zM4 23h1v1h-1zM3 25h1v1h-1zM1 26h1v1h-1zM3 27h1v1h-1zM10 28h1v1h-1zM1 29h1v1h-1zM0 30h2v1h-2zM0 32h1v1h-1zM2 35h1v1h-1zM1 37h1v1h-1zM2 39h1v1h-1zM2 44h1v1h-1zM2 48h1v1h-1zM1 49h1v1h-1zM1 50h1v1h-1zM2 51h1v1h-1zM5 51h1v1h-1zM12 51h1v1h-1zM17 51h1v1h-1zM1 52h1v1h-1zM3 54h1v1h-1zM5 55h1v1h-1zM6 57h1v1h-1zM1 60h1v1h-1zM1 62h1v1h-1zM1 63h1v1h-1zM4 63h1v1h-1zM2 65h1v1h-1zM5 65h1v1h-1zM1 68h1v1h-1zM1 69h1v1h-1zM13 69h1v1h-1zM1 70h1v1h-1zM3 71h1v1h-1zM0 73h1v1h-1zM15 73h1v1h-1zM1 74h1v1h-1zM0 75h1v1h-1zM1 76h1v1h-1zM0 77h1v1h-1zM15 77h1v1h-1zM1 78h1v1h-1zM1 83h1v1h-1zM3 84h1v1h-1zM2 85h1v1h-1zM1 86h1v1h-1zM1 87h1v1h-1zM3 87h1v1h-1zM12 88h1v1h-1zM2 89h1v1h-1zM1 90h1v1h-1zM1 92h1v1h-1zM1 99h1v1h-1zM3 99h1v1h-1zM3 100h1v1h-1zM2 101h1v1h-1zM0 103h1v1h-1zM3 103h1v1h-1zM3 106h1v1h-1zM2 107h1v1h-1zM1 108h1v1h-1zM1 109h1v1h-1zM3 111h1v1h-1zM2 115h1v1h-1zM3 117h1v1h-1zM14 123h2v1h-2zM2 125h1v1h-1zM7 126h1v1h-1zM3 127h1v1h-1zM12 127h1v1h-1zM14 131h1v1h-1zM1 134h3v1h-3zM6 134h1v1h-1zM2 138h1v1h-1zM0 143h1v1h-1zM3 143h1v1h-1zM1 144h1v1h-1zM14 145h1v1h-1zM3 146h1v1h-1zM14 146h1v1h-1zM3 148h1v1h-1zM16 149h1v1h-1z"/><path fill="#0070ff" d="M2 0h1v1h-1zM8 0h1v1h-1zM9 2h1v1h-1zM3 3h1v1h-1zM2 4h1v1h-1zM4 4h1v1h-1zM6 5h2v1h-2zM11 5h1v1h-1zM2 6h1v1h-1zM13 6h1v1h-1zM3 7h1v1h-1zM5 7h1v1h-1zM8 7h1v1h-1zM11 7h1v1h-1zM1 8h2v1h-2zM4 8h1v1h-1zM4 10h1v1h-1zM1 11h1v1h-1zM2 12h1v1h-1zM4 14h1v1h-1zM3 16h1v1h-1zM4 18h1v1h-1zM10 18h1v1h-1zM2 19h2v1h-2zM3 20h1v1h-1zM5 20h1v1h-1zM8 20h1v1h-1zM8 21h1v1h-1zM2 22h1v1h-1zM13 22h1v1h-1zM15 23h1v1h-1zM1 24h1v1h-1zM5 26h1v1h-1zM7 26h1v1h-1zM5 27h1v1h-1zM2 28h1v1h-1zM3 29h1v1h-1zM9 29h1v1h-1zM9 31h1v1h-1zM3 32h1v1h-1zM5 32h1v1h-1zM9 32h1v1h-1zM5 33h1v1h-1zM1 34h1v1h-1zM5 34h1v1h-1zM3 35h1v1h-1zM3 36h1v1h-1zM0 37h1v1h-1zM15 37h1v1h-1zM2 38h2v1h-2zM9 38h1v1h-1zM6 39h1v1h-1zM7 40h1v1h-1zM2 41h1v1h-1zM4 42h3v1h-3zM5 44h1v1h-1zM8 45h1v1h-1zM4 46h1v1h-1zM6 46h1v1h-1zM4 48h1v1h-1zM2 49h1v1h-1zM4 49h1v1h-1zM9 52h2v1h-2zM4 53h1v1h-1zM1 56h1v1h-1zM8 56h1v1h-1zM7 57h1v1h-1zM9 57h1v1h-1zM4 58h1v1h-1zM3 59h1v1h-1zM7 59h1v1h-1zM3 60h1v1h-1zM6 60h1v1h-1zM2 61h1v1h-1zM6 61h1v1h-1zM3 62h1v1h-1zM4 64h2v1h-2zM4 66h1v1h-1zM12 66h1v1h-1zM2 67h1v1h-1zM3 68h1v1h-1zM7 68h1v1h-1zM4 69h1v1h-1zM9 70h1v1h-1zM17 70h1v1h-1zM0 71h1v1h-1zM1 72h1v1h-1zM10 72h1v1h-1zM7 73h1v1h-1zM12 73h1v1h-1zM17 74h1v1h-1zM2 75h2v1h-2zM6 75h1v1h-1zM9 76h1v1h-1zM12 76h1v1h-1zM6 77h2v1h-2zM11 77h1v1h-1zM2 78h1v1h-1zM5 79h1v1h-1zM9 79h1v1h-1zM12 81h1v1h-1zM8 83h1v1h-1zM9 84h1v1h-1zM3 85h1v1h-1zM7 86h1v1h-1zM15 86h1v1h-1zM2 87h1v1h-1zM15 87h1v1h-1zM10 88h1v1h-1zM1 89h1v1h-1zM5 89h1v1h-1zM3 90h1v1h-1zM17 90h1v1h-1zM1 91h1v1h-1zM7 91h1v1h-1zM2 93h1v1h-1zM5 93h1v1h-1zM3 98h1v1h-1zM5 98h1v1h-1zM5 99h1v1h-1zM2 100h1v1h-1zM13 100h1v1h-1zM10 101h1v1h-1zM3 102h1v1h-1zM7 103h1v1h-1zM2 104h3v1h-3zM13 104h1v1h-1zM15 105h1v1h-1zM7 107h1v1h-1zM14 107h1v1h-1zM4 108h1v1h-1zM11 109h1v1h-1zM4 111h1v1h-1zM8 111h1v1h-1zM1 112h1v1h-1zM13 112h1v1h-1zM3 113h1v1h-1zM15 114h1v1h-1zM4 115h1v1h-1zM9 115h1v1h-1zM3 116h1v1h-1zM1 118h2v1h-2zM7 118h2v1h-2zM9 120h1v1h-1zM15 121h1v1h-1zM3 122h1v1h-1zM6 122h1v1h-1zM17 122h1v1h-1zM1 123h1v1h-1zM4 123h1v1h-1zM10 124h1v1h-1zM16 124h1v1h-1zM2 126h1v1h-1zM4 126h1v1h-1zM5 127h1v1h-1zM1 128h1v1h-1zM7 128h1v1h-1zM9 128h1v1h-1zM6 129h1v1h-1zM4 131h1v1h-1zM16 132h1v1h-1zM8 135h1v1h-1zM7 136h1v1h-1zM6 137h1v1h-1zM6 138h1v1h-1zM11 139h1v1h-1zM3 140h1v1h-1zM3 141h1v1h-1zM9 143h1v1h-1zM3 145h1v1h-1zM2 146h1v1h-1zM15 147h1v1h-1zM6 148h1v1h-1zM3 149h1v1h-1zM11 149h1v1h-1z"/><path fill="#00efff" d="M3 0h1v1h-1zM4 9h1v1h-1zM0 38h1v1h-1zM3 52h1v1h-1zM4 56h1v1h-1zM2 59h1v1h-1zM2 60h1v1h-1zM0 70h1v1h-1zM0 72h1v1h-1zM9 77h1v1h-1zM0 79h1v1h-1zM7 88h1v1h-1zM0 102h1v1h-1zM0 107h1v1h-1zM0 109h1v1h-1zM0 115h1v1h-1zM0 137h1v1h-1zM6 140h1v1h-1zM0 141h1v1h-1z"/><path fill="#0080ff" d="M4 0h1v1h-1zM7 1h1v1h-1zM2 2h1v1h-1zM5 2h1v1h-1zM2 3h1v1h-1zM5 3h1v1h-1zM3 4h1v1h-1zM0 5h1v1h-1zM3 5h1v1h-1zM1 6h1v1h-1zM1 7h1v1h-1zM10 7h1v1h-1zM7 11h1v1h-1zM3 12h1v1h-1zM2 13h1v1h-1zM1 14h1v1h-1zM3 14h1v1h-1zM2 15h1v1h-1zM7 18h1v1h-1zM4 21h1v1h-1zM3 22h1v1h-1zM2 24h1v1h-1zM1 25h2v1h-2zM4 25h1v1h-1zM17 26h1v1h-1zM3 28h2v1h-2zM10 29h1v1h-1zM16 30h1v1h-1zM2 31h2v1h-2zM2 34h2v1h-2zM1 35h1v1h-1zM2 40h1v1h-1zM3 41h1v1h-1zM8 41h1v1h-1zM1 43h1v1h-1zM3 44h1v1h-1zM16 45h1v1h-1zM2 46h1v1h-1zM5 46h1v1h-1zM3 47h1v1h-1zM3 49h1v1h-1zM10 49h1v1h-1zM2 53h1v1h-1zM1 54h1v1h-1zM8 55h1v1h-1zM2 56h1v1h-1zM2 57h1v1h-1zM8 58h1v1h-1zM5 59h1v1h-1zM9 59h1v1h-1zM9 60h1v1h-1zM1 61h1v1h-1zM9 62h1v1h-1zM9 63h1v1h-1zM3 67h1v1h-1zM6 67h1v1h-1zM9 69h1v1h-1zM5 70h1v1h-1zM4 71h1v1h-1zM9 71h1v1h-1zM3 73h1v1h-1zM2 74h1v1h-1zM8 74h1v1h-1zM1 75h1v1h-1zM2 76h1v1h-1zM2 77h1v1h-1zM5 77h1v1h-1zM3 78h1v1h-1zM7 80h1v1h-1zM1 81h1v1h-1zM5 81h1v1h-1zM6 82h1v1h-1zM4 83h1v1h-1zM1 85h1v1h-1zM6 85h1v1h-1zM2 88h1v1h-1zM13 88h1v1h-1zM3 89h2v1h-2zM9 90h1v1h-1zM2 92h2v1h-2zM9 92h1v1h-1zM3 93h1v1h-1zM6 93h1v1h-1zM2 94h1v1h-1zM5 94h1v1h-1zM8 94h1v1h-1zM1 95h1v1h-1zM3 95h1v1h-1zM9 95h1v1h-1zM2 99h1v1h-1zM9 102h1v1h-1zM2 103h1v1h-1zM7 106h1v1h-1zM14 106h1v1h-1zM3 109h1v1h-1zM9 109h1v1h-1zM6 111h1v1h-1zM2 113h1v1h-1zM4 113h1v1h-1zM2 114h1v1h-1zM7 115h1v1h-1zM10 116h1v1h-1zM1 117h1v1h-1zM6 120h1v1h-1zM2 121h2v1h-2zM1 122h1v1h-1zM3 123h1v1h-1zM5 123h1v1h-1zM13 124h1v1h-1zM3 125h1v1h-1zM8 126h1v1h-1zM4 128h1v1h-1zM8 128h1v1h-1zM3 130h2v1h-2zM1 132h1v1h-1zM3 132h1v1h-1zM8 136h1v1h-1zM9 138h1v1h-1zM2 139h1v1h-1zM2 141h1v1h-1zM3 142h1v1h-1zM5 142h1v1h-1zM1 143h1v1h-1zM2 144h1v1h-1zM1 145h2v1h-2zM1 146h1v1h-1zM5 146h1v1h-1zM0 147h1v1h-1zM7 147h1v1h-1zM2 148h1v1h-1z"/><path fill="#0040ff" d="M5 0h1v1h-1zM9 0h1v1h-1zM15 0h1v1h-1zM14 1h1v1h-1zM6 2h1v1h-1zM13 2h1v1h-1zM11 3h1v1h-1zM8 4h2v1h-2zM14 4h1v1h-1zM17 4h1v1h-1zM4 6h2v1h-2zM9 6h3v1h-3zM5 8h3v1h-3zM6 9h1v1h-1zM7 10h2v1h-2zM13 10h1v1h-1zM13 11h2v1h-2zM5 13h1v1h-1zM8 13h1v1h-1zM10 13h1v1h-1zM7 14h1v1h-1zM16 14h1v1h-1zM4 15h2v1h-2zM8 15h2v1h-2zM11 15h1v1h-1zM8 16h1v1h-1zM14 16h2v1h-2zM5 17h1v1h-1zM7 17h1v1h-1zM11 17h3v1h-3zM15 17h2v1h-2zM6 18h1v1h-1zM8 18h2v1h-2zM12 18h1v1h-1zM8 19h2v1h-2zM11 19h1v1h-1zM13 19h1v1h-1zM9 20h2v1h-2zM6 21h2v1h-2zM5 22h1v1h-1zM7 22h2v1h-2zM15 22h2v1h-2zM5 23h1v1h-1zM13 23h1v1h-1zM4 24h2v1h-2zM7 24h1v1h-1zM4 26h1v1h-1zM15 26h1v1h-1zM9 27h2v1h-2zM15 27h1v1h-1zM7 28h1v1h-1zM11 28h2v1h-2zM4 29h1v1h-1zM8 29h1v1h-1zM5 30h1v1h-1zM8 30h1v1h-1zM10 31h1v1h-1zM16 31h1v1h-1zM7 32h1v1h-1zM11 32h1v1h-1zM16 32h1v1h-1zM8 33h1v1h-1zM14 33h1v1h-1zM13 34h1v1h-1zM12 35h1v1h-1zM14 35h1v1h-1zM17 35h1v1h-1zM5 36h1v1h-1zM15 36h1v1h-1zM5 37h2v1h-2zM10 37h3v1h-3zM17 37h1v1h-1zM6 38h1v1h-1zM12 38h1v1h-1zM16 38h2v1h-2zM8 40h2v1h-2zM5 41h3v1h-3zM14 42h1v1h-1zM5 43h4v1h-4zM10 44h2v1h-2zM10 45h1v1h-1zM13 45h1v1h-1zM7 46h1v1h-1zM10 46h1v1h-1zM5 47h1v1h-1zM14 47h1v1h-1zM5 48h1v1h-1zM12 48h1v1h-1zM12 49h1v1h-1zM5 50h2v1h-2zM6 51h1v1h-1zM14 51h1v1h-1zM5 52h1v1h-1zM11 52h1v1h-1zM15 52h1v1h-1zM12 53h1v1h-1zM17 53h1v1h-1zM4 54h2v1h-2zM10 54h1v1h-1zM6 55h1v1h-1zM13 57h1v1h-1zM4 59h1v1h-1zM11 59h2v1h-2zM13 60h1v1h-1zM4 61h1v1h-1zM11 61h1v1h-1zM14 61h1v1h-1zM11 62h1v1h-1zM13 62h1v1h-1zM15 62h3v1h-3zM5 63h1v1h-1zM15 63h1v1h-1zM17 63h1v1h-1zM10 64h1v1h-1zM15 64h1v1h-1zM8 65h1v1h-1zM10 65h1v1h-1zM15 65h1v1h-1zM6 66h2v1h-2zM10 66h1v1h-1zM16 66h1v1h-1zM9 67h1v1h-1zM12 67h1v1h-1zM11 70h1v1h-1zM8 71h1v1h-1zM10 71h3v1h-3zM6 72h1v1h-1zM12 72h1v1h-1zM16 72h1v1h-1zM14 73h1v1h-1zM11 74h2v1h-2zM4 75h1v1h-1zM6 76h1v1h-1zM13 76h1v1h-1zM8 77h1v1h-1zM4 78h2v1h-2zM13 78h2v1h-2zM16 78h1v1h-1zM6 79h1v1h-1zM15 79h1v1h-1zM11 80h1v1h-1zM16 80h1v1h-1zM16 81h1v1h-1zM4 82h2v1h-2zM8 82h1v1h-1zM13 82h1v1h-1zM15 82h1v1h-1zM16 83h1v1h-1zM7 84h2v1h-2zM15 84h1v1h-1zM10 85h1v1h-1zM14 85h1v1h-1zM3 86h1v1h-1zM11 86h1v1h-1zM16 86h2v1h-2zM7 87h1v1h-1zM9 87h2v1h-2zM4 88h1v1h-1zM11 88h1v1h-1zM6 89h2v1h-2zM12 89h2v1h-2zM5 90h1v1h-1zM7 90h1v1h-1zM10 90h1v1h-1zM12 90h1v1h-1zM4 91h1v1h-1zM8 91h2v1h-2zM15 91h1v1h-1zM11 92h1v1h-1zM4 93h1v1h-1zM7 93h1v1h-1zM15 93h1v1h-1zM11 94h1v1h-1zM13 94h1v1h-1zM14 95h3v1h-3zM6 96h1v1h-1zM8 96h1v1h-1zM3 97h2v1h-2zM12 97h1v1h-1zM17 97h1v1h-1zM4 98h1v1h-1zM11 98h1v1h-1zM13 98h1v1h-1zM7 99h1v1h-1zM11 99h1v1h-1zM13 99h1v1h-1zM4 100h1v1h-1zM5 101h1v1h-1zM9 101h1v1h-1zM12 101h1v1h-1zM5 102h1v1h-1zM8 103h1v1h-1zM10 103h1v1h-1zM13 103h1v1h-1zM16 103h1v1h-1zM7 104h1v1h-1zM8 105h1v1h-1zM14 105h1v1h-1zM13 106h1v1h-1zM9 107h1v1h-1zM5 108h1v1h-1zM8 108h1v1h-1zM13 108h1v1h-1zM17 108h1v1h-1zM6 109h2v1h-2zM6 110h2v1h-2zM11 110h1v1h-1zM10 111h2v1h-2zM9 112h1v1h-1zM7 113h1v1h-1zM10 113h1v1h-1zM12 113h1v1h-1zM14 114h1v1h-1zM13 115h1v1h-1zM7 116h1v1h-1zM12 116h1v1h-1zM9 117h1v1h-1zM13 117h1v1h-1zM17 117h1v1h-1zM5 118h1v1h-1zM12 118h1v1h-1zM4 119h2v1h-2zM7 119h1v1h-1zM10 119h1v1h-1zM3 120h1v1h-1zM5 120h1v1h-1zM13 120h1v1h-1zM11 121h1v1h-1zM5 122h1v1h-1zM9 122h1v1h-1zM14 122h1v1h-1zM7 123h1v1h-1zM16 123h2v1h-2zM4 124h1v1h-1zM17 124h1v1h-1zM7 125h1v1h-1zM9 125h1v1h-1zM12 125h1v1h-1zM3 126h1v1h-1zM5 126h2v1h-2zM11 126h1v1h-1zM6 127h2v1h-2zM3 128h1v1h-1zM8 129h1v1h-1zM10 129h1v1h-1zM16 129h1v1h-1zM5 130h3v1h-3zM9 130h2v1h-2zM13 130h1v1h-1zM3 131h1v1h-1zM5 131h1v1h-1zM7 131h1v1h-1zM17 131h1v1h-1zM9 132h1v1h-1zM14 132h1v1h-1zM5 133h1v1h-1zM9 133h1v1h-1zM15 133h1v1h-1zM7 134h1v1h-1zM9 134h1v1h-1zM15 134h1v1h-1zM12 135h1v1h-1zM5 136h1v1h-1zM9 136h1v1h-1zM13 136h1v1h-1zM15 136h1v1h-1zM5 137h1v1h-1zM7 137h1v1h-1zM9 137h1v1h-1zM14 137h1v1h-1zM11 138h2v1h-2zM15 138h2v1h-2zM7 139h1v1h-1zM10 139h1v1h-1zM13 139h2v1h-2zM11 140h1v1h-1zM17 140h1v1h-1zM8 141h1v1h-1zM4 142h1v1h-1zM11 142h1v1h-1zM13 143h1v1h-1zM10 144h2v1h-2zM6 145h1v1h-1zM11 146h1v1h-1zM12 147h1v1h-1zM8 148h1v1h-1zM12 148h1v1h-1zM5 149h2v1h-2zM10 149h1v1h-1z"/><path fill="#0050ff" d="M6 0h1v1h-1zM14 0h1v1h-1zM16 0h2v1h-2zM9 1h1v1h-1zM15 1h1v1h-1zM9 3h1v1h-1zM13 3h1v1h-1zM5 4h3v1h-3zM8 5h1v1h-1zM10 5h1v1h-1zM12 5h1v1h-1zM8 6h1v1h-1zM15 6h1v1h-1zM9 7h1v1h-1zM8 8h1v1h-1zM10 8h1v1h-1zM15 8h1v1h-1zM17 8h1v1h-1zM10 9h1v1h-1zM14 9h1v1h-1zM12 10h1v1h-1zM6 11h1v1h-1zM8 11h1v1h-1zM11 11h2v1h-2zM4 12h1v1h-1zM9 12h2v1h-2zM12 12h1v1h-1zM14 12h1v1h-1zM4 13h1v1h-1zM6 13h2v1h-2zM9 13h1v1h-1zM12 13h1v1h-1zM2 14h1v1h-1zM8 14h1v1h-1zM15 15h1v1h-1zM5 16h1v1h-1zM7 16h1v1h-1zM14 17h1v1h-1zM17 20h1v1h-1zM5 21h1v1h-1zM11 21h2v1h-2zM15 21h1v1h-1zM17 22h1v1h-1zM6 23h4v1h-4zM12 23h1v1h-1zM8 24h1v1h-1zM11 24h1v1h-1zM14 24h2v1h-2zM7 25h1v1h-1zM10 25h1v1h-1zM15 25h3v1h-3zM6 26h1v1h-1zM4 27h1v1h-1zM5 28h1v1h-1zM3 30h1v1h-1zM5 31h1v1h-1zM8 31h1v1h-1zM6 32h1v1h-1zM6 33h1v1h-1zM6 34h2v1h-2zM9 35h1v1h-1zM16 35h1v1h-1zM14 36h1v1h-1zM3 39h2v1h-2zM13 39h2v1h-2zM16 39h1v1h-1zM3 40h1v1h-1zM5 40h1v1h-1zM4 41h1v1h-1zM9 41h1v1h-1zM7 42h1v1h-1zM9 42h1v1h-1zM2 43h1v1h-1zM11 43h1v1h-1zM4 44h1v1h-1zM6 44h1v1h-1zM8 44h1v1h-1zM16 44h1v1h-1zM11 45h1v1h-1zM8 46h2v1h-2zM4 47h1v1h-1zM6 47h1v1h-1zM8 47h1v1h-1zM7 48h1v1h-1zM6 49h1v1h-1zM8 49h1v1h-1zM11 49h1v1h-1zM15 49h1v1h-1zM3 50h1v1h-1zM9 50h1v1h-1zM7 51h2v1h-2zM11 51h1v1h-1zM15 51h1v1h-1zM7 52h1v1h-1zM12 52h1v1h-1zM14 52h1v1h-1zM16 52h1v1h-1zM7 53h2v1h-2zM10 53h1v1h-1zM13 53h1v1h-1zM8 54h1v1h-1zM11 54h1v1h-1zM14 54h2v1h-2zM17 54h1v1h-1zM12 55h1v1h-1zM11 56h1v1h-1zM14 56h1v1h-1zM5 57h1v1h-1zM3 58h1v1h-1zM6 58h1v1h-1zM11 58h1v1h-1zM8 59h1v1h-1zM4 60h1v1h-1zM9 61h2v1h-2zM17 61h1v1h-1zM2 62h1v1h-1zM2 63h1v1h-1zM14 63h1v1h-1zM9 64h1v1h-1zM6 65h1v1h-1zM9 65h1v1h-1zM16 65h2v1h-2zM2 66h1v1h-1zM8 66h1v1h-1zM14 66h1v1h-1zM17 67h1v1h-1zM4 68h1v1h-1zM6 68h1v1h-1zM14 68h1v1h-1zM17 68h1v1h-1zM5 69h1v1h-1zM7 69h1v1h-1zM6 70h1v1h-1zM10 70h1v1h-1zM15 72h1v1h-1zM4 73h3v1h-3zM9 73h1v1h-1zM6 74h2v1h-2zM9 74h1v1h-1zM13 74h1v1h-1zM16 74h1v1h-1zM5 75h1v1h-1zM16 75h1v1h-1zM4 76h1v1h-1zM8 76h1v1h-1zM12 77h1v1h-1zM16 77h1v1h-1zM9 78h3v1h-3zM8 79h1v1h-1zM16 79h1v1h-1zM15 81h1v1h-1zM16 82h1v1h-1zM5 83h1v1h-1zM10 83h1v1h-1zM4 84h1v1h-1zM14 84h1v1h-1zM4 85h1v1h-1zM9 85h1v1h-1zM9 86h1v1h-1zM13 86h1v1h-1zM14 87h1v1h-1zM14 88h2v1h-2zM8 89h1v1h-1zM14 89h1v1h-1zM13 90h1v1h-1zM6 91h1v1h-1zM13 91h1v1h-1zM8 92h1v1h-1zM12 92h1v1h-1zM14 92h1v1h-1zM10 93h1v1h-1zM9 94h1v1h-1zM16 94h2v1h-2zM13 95h1v1h-1zM2 96h1v1h-1zM4 96h1v1h-1zM7 96h1v1h-1zM13 96h1v1h-1zM17 96h1v1h-1zM5 97h1v1h-1zM9 97h1v1h-1zM11 97h1v1h-1zM10 98h1v1h-1zM5 100h1v1h-1zM8 100h1v1h-1zM10 100h1v1h-1zM14 100h1v1h-1zM6 101h1v1h-1zM11 101h1v1h-1zM6 103h1v1h-1zM15 103h1v1h-1zM10 105h1v1h-1zM17 105h1v1h-1zM16 106h1v1h-1zM4 107h3v1h-3zM13 107h1v1h-1zM15 107h1v1h-1zM14 108h1v1h-1zM13 109h1v1h-1zM1 110h1v1h-1zM5 110h1v1h-1zM15 110h1v1h-1zM9 111h1v1h-1zM4 112h1v1h-1zM6 112h2v1h-2zM4 114h3v1h-3zM3 115h1v1h-1zM5 115h1v1h-1zM14 115h1v1h-1zM6 116h1v1h-1zM8 116h1v1h-1zM4 117h1v1h-1zM6 117h1v1h-1zM10 117h1v1h-1zM4 118h1v1h-1zM6 118h1v1h-1zM9 118h1v1h-1zM6 119h1v1h-1zM11 119h1v1h-1zM4 120h1v1h-1zM11 120h1v1h-1zM7 121h1v1h-1zM10 121h1v1h-1zM7 122h1v1h-1zM11 122h1v1h-1zM8 123h1v1h-1zM12 123h1v1h-1zM12 124h1v1h-1zM4 125h1v1h-1zM6 125h1v1h-1zM10 125h1v1h-1zM10 126h1v1h-1zM12 126h1v1h-1zM17 126h1v1h-1zM4 127h1v1h-1zM8 127h2v1h-2zM5 128h2v1h-2zM4 129h1v1h-1zM9 129h1v1h-1zM8 130h1v1h-1zM17 130h1v1h-1zM4 132h1v1h-1zM7 132h1v1h-1zM10 132h1v1h-1zM13 132h1v1h-1zM2 133h1v1h-1zM7 135h1v1h-1zM13 135h1v1h-1zM4 136h1v1h-1zM6 136h1v1h-1zM11 136h2v1h-2zM8 137h1v1h-1zM3 138h2v1h-2zM7 138h1v1h-1zM14 138h1v1h-1zM3 139h1v1h-1zM8 139h2v1h-2zM7 140h1v1h-1zM5 141h1v1h-1zM9 142h1v1h-1zM12 142h1v1h-1zM15 142h1v1h-1zM6 143h1v1h-1zM4 144h1v1h-1zM8 144h2v1h-2zM4 145h2v1h-2zM7 145h2v1h-2zM4 146h1v1h-1zM8 146h1v1h-1zM17 146h1v1h-1zM9 148h1v1h-1zM13 148h1v1h-1zM4 149h1v1h-1zM13 149h1v1h-1zM15 149h1v1h-1z"/><path fill="#0020ff" d="M7 0h1v1h-1zM10 0h1v1h-1zM12 0h1v1h-1zM5 1h1v1h-1zM10 1h1v1h-1zM17 1h1v1h-1zM15 2h1v1h-1zM15 3h2v1h-2zM12 4h1v1h-1zM12 6h1v1h-1zM14 6h1v1h-1zM12 7h1v1h-1zM9 8h1v1h-1zM11 8h1v1h-1zM9 10h3v1h-3zM14 10h2v1h-2zM9 11h1v1h-1zM8 12h1v1h-1zM16 12h1v1h-1zM13 13h1v1h-1zM15 13h3v1h-3zM12 15h1v1h-1zM4 16h1v1h-1zM17 16h1v1h-1zM4 17h1v1h-1zM6 17h1v1h-1zM9 17h2v1h-2zM16 18h2v1h-2zM6 19h1v1h-1zM16 19h1v1h-1zM13 20h1v1h-1zM16 20h1v1h-1zM10 21h1v1h-1zM16 21h1v1h-1zM17 23h1v1h-1zM6 24h1v1h-1zM13 24h1v1h-1zM17 24h1v1h-1zM5 25h1v1h-1zM14 25h1v1h-1zM10 26h1v1h-1zM13 26h2v1h-2zM13 27h1v1h-1zM15 28h1v1h-1zM14 29h2v1h-2zM4 30h1v1h-1zM10 30h3v1h-3zM14 30h1v1h-1zM13 31h1v1h-1zM12 32h1v1h-1zM14 32h2v1h-2zM7 33h1v1h-1zM15 34h2v1h-2zM13 35h1v1h-1zM8 36h1v1h-1zM13 36h1v1h-1zM16 36h2v1h-2zM14 37h1v1h-1zM5 38h1v1h-1zM5 39h1v1h-1zM9 39h1v1h-1zM11 40h1v1h-1zM15 40h1v1h-1zM10 41h1v1h-1zM14 41h2v1h-2zM12 42h2v1h-2zM4 43h1v1h-1zM10 43h1v1h-1zM14 45h1v1h-1zM15 46h2v1h-2zM13 47h1v1h-1zM15 47h1v1h-1zM9 48h1v1h-1zM15 48h3v1h-3zM7 49h1v1h-1zM15 50h1v1h-1zM17 50h1v1h-1zM16 51h1v1h-1zM6 52h1v1h-1zM11 53h1v1h-1zM14 53h2v1h-2zM4 55h1v1h-1zM11 55h1v1h-1zM16 55h1v1h-1zM12 56h2v1h-2zM12 57h1v1h-1zM15 57h1v1h-1zM10 58h1v1h-1zM12 58h2v1h-2zM15 58h1v1h-1zM10 59h1v1h-1zM16 59h1v1h-1zM15 60h1v1h-1zM6 64h2v1h-2zM17 64h1v1h-1zM11 65h1v1h-1zM15 66h1v1h-1zM16 67h1v1h-1zM10 68h2v1h-2zM11 69h2v1h-2zM14 69h1v1h-1zM15 70h2v1h-2zM5 71h1v1h-1zM15 71h1v1h-1zM9 72h1v1h-1zM11 72h1v1h-1zM14 72h1v1h-1zM17 72h1v1h-1zM10 73h1v1h-1zM16 73h1v1h-1zM15 74h1v1h-1zM7 75h2v1h-2zM7 76h1v1h-1zM16 76h1v1h-1zM13 77h2v1h-2zM17 77h1v1h-1zM11 79h1v1h-1zM9 80h1v1h-1zM12 80h1v1h-1zM14 80h2v1h-2zM17 80h1v1h-1zM14 81h1v1h-1zM11 82h1v1h-1zM17 82h1v1h-1zM7 83h1v1h-1zM15 83h1v1h-1zM10 84h1v1h-1zM8 85h1v1h-1zM12 86h1v1h-1zM11 87h1v1h-1zM13 87h1v1h-1zM6 88h1v1h-1zM16 88h1v1h-1zM4 90h1v1h-1zM15 90h2v1h-2zM6 92h1v1h-1zM17 92h1v1h-1zM10 94h1v1h-1zM11 95h2v1h-2zM15 96h1v1h-1zM10 97h1v1h-1zM13 97h2v1h-2zM16 97h1v1h-1zM12 98h1v1h-1zM12 99h1v1h-1zM16 99h1v1h-1zM9 100h1v1h-1zM12 100h1v1h-1zM16 100h2v1h-2zM14 101h1v1h-1zM17 101h1v1h-1zM8 102h1v1h-1zM13 102h4v1h-4zM12 103h1v1h-1zM14 103h1v1h-1zM17 103h1v1h-1zM15 104h1v1h-1zM4 105h1v1h-1zM6 105h2v1h-2zM12 105h1v1h-1zM4 106h1v1h-1zM6 106h1v1h-1zM10 106h1v1h-1zM8 107h1v1h-1zM17 107h1v1h-1zM4 109h1v1h-1zM12 109h1v1h-1zM16 109h2v1h-2zM8 110h1v1h-1zM10 110h1v1h-1zM16 110h1v1h-1zM14 111h1v1h-1zM5 112h1v1h-1zM16 112h1v1h-1zM6 113h1v1h-1zM14 113h1v1h-1zM11 114h3v1h-3zM12 115h1v1h-1zM16 115h2v1h-2zM9 116h1v1h-1zM16 116h1v1h-1zM8 117h1v1h-1zM16 117h1v1h-1zM8 119h1v1h-1zM13 119h1v1h-1zM15 119h1v1h-1zM17 119h1v1h-1zM14 121h1v1h-1zM17 121h1v1h-1zM6 124h1v1h-1zM9 124h1v1h-1zM8 125h1v1h-1zM11 125h1v1h-1zM17 125h1v1h-1zM13 126h1v1h-1zM15 126h1v1h-1zM10 127h1v1h-1zM13 127h1v1h-1zM10 128h1v1h-1zM15 128h1v1h-1zM12 129h1v1h-1zM17 129h1v1h-1zM16 131h1v1h-1zM6 132h1v1h-1zM17 132h1v1h-1zM14 133h1v1h-1zM16 133h1v1h-1zM10 134h1v1h-1zM12 134h1v1h-1zM15 135h1v1h-1zM10 136h1v1h-1zM17 136h1v1h-1zM10 137h1v1h-1zM12 137h2v1h-2zM16 137h1v1h-1zM17 138h1v1h-1zM16 139h1v1h-1zM8 142h1v1h-1zM13 142h1v1h-1zM17 142h1v1h-1zM5 143h1v1h-1zM7 143h1v1h-1zM12 143h1v1h-1zM14 143h1v1h-1zM17 143h1v1h-1zM5 144h1v1h-1zM16 144h1v1h-1zM11 145h1v1h-1zM13 145h1v1h-1zM16 145h1v1h-1zM13 146h1v1h-1zM10 147h1v1h-1zM16 147h2v1h-2zM15 148h1v1h-1zM17 148h1v1h-1zM8 149h2v1h-2z"/><path fill="#0030ff" d="M11 0h1v1h-1zM13 0h1v1h-1zM4 1h1v1h-1zM8 1h1v1h-1zM12 1h2v1h-2zM16 1h1v1h-1zM12 2h1v1h-1zM6 3h1v1h-1zM8 3h1v1h-1zM12 3h1v1h-1zM11 4h1v1h-1zM13 4h1v1h-1zM15 4h2v1h-2zM4 5h1v1h-1zM13 5h4v1h-4zM4 7h1v1h-1zM7 7h1v1h-1zM13 7h1v1h-1zM15 7h3v1h-3zM12 8h1v1h-1zM14 8h1v1h-1zM7 9h1v1h-1zM9 9h1v1h-1zM17 9h1v1h-1zM6 10h1v1h-1zM16 10h1v1h-1zM15 11h1v1h-1zM11 12h1v1h-1zM13 12h1v1h-1zM17 12h1v1h-1zM14 13h1v1h-1zM5 14h1v1h-1zM9 14h3v1h-3zM13 14h1v1h-1zM10 16h1v1h-1zM12 16h1v1h-1zM15 18h1v1h-1zM4 19h1v1h-1zM15 19h1v1h-1zM6 20h2v1h-2zM11 20h1v1h-1zM13 21h2v1h-2zM4 22h1v1h-1zM11 22h1v1h-1zM14 22h1v1h-1zM10 23h1v1h-1zM16 23h1v1h-1zM12 24h1v1h-1zM6 25h1v1h-1zM12 25h1v1h-1zM11 26h1v1h-1zM8 27h1v1h-1zM12 27h1v1h-1zM17 27h1v1h-1zM16 28h1v1h-1zM5 29h1v1h-1zM13 29h1v1h-1zM17 30h1v1h-1zM14 31h2v1h-2zM12 33h1v1h-1zM4 34h1v1h-1zM11 34h2v1h-2zM17 34h1v1h-1zM6 35h2v1h-2zM10 35h2v1h-2zM15 35h1v1h-1zM9 36h2v1h-2zM7 37h3v1h-3zM13 37h1v1h-1zM16 37h1v1h-1zM4 38h1v1h-1zM13 38h3v1h-3zM10 39h3v1h-3zM4 40h1v1h-1zM13 40h2v1h-2zM16 40h1v1h-1zM11 41h1v1h-1zM13 41h1v1h-1zM16 41h2v1h-2zM3 42h1v1h-1zM10 42h1v1h-1zM17 42h1v1h-1zM13 43h2v1h-2zM17 43h1v1h-1zM7 44h1v1h-1zM12 44h2v1h-2zM5 45h2v1h-2zM11 46h2v1h-2zM17 46h1v1h-1zM11 47h1v1h-1zM6 48h1v1h-1zM8 48h1v1h-1zM14 48h1v1h-1zM5 49h1v1h-1zM14 50h1v1h-1zM16 50h1v1h-1zM4 51h1v1h-1zM9 51h2v1h-2zM17 52h1v1h-1zM5 53h2v1h-2zM6 54h2v1h-2zM12 54h1v1h-1zM3 55h1v1h-1zM7 55h1v1h-1zM15 55h1v1h-1zM9 56h2v1h-2zM14 57h1v1h-1zM16 57h2v1h-2zM16 58h2v1h-2zM6 59h1v1h-1zM13 59h2v1h-2zM5 60h1v1h-1zM14 60h1v1h-1zM16 60h1v1h-1zM7 61h1v1h-1zM13 61h1v1h-1zM16 61h1v1h-1zM4 62h1v1h-1zM8 62h1v1h-1zM8 63h1v1h-1zM10 63h1v1h-1zM8 64h1v1h-1zM11 64h4v1h-4zM16 64h1v1h-1zM7 65h1v1h-1zM13 65h2v1h-2zM11 66h1v1h-1zM11 67h1v1h-1zM15 67h1v1h-1zM5 68h1v1h-1zM13 68h1v1h-1zM15 69h1v1h-1zM17 69h1v1h-1zM4 70h1v1h-1zM12 70h1v1h-1zM14 70h1v1h-1zM6 71h1v1h-1zM13 71h2v1h-2zM16 71h1v1h-1zM5 72h1v1h-1zM7 72h1v1h-1zM13 72h1v1h-1zM8 73h1v1h-1zM13 73h1v1h-1zM10 74h1v1h-1zM14 74h1v1h-1zM14 75h1v1h-1zM17 75h1v1h-1zM5 76h1v1h-1zM4 77h1v1h-1zM10 77h1v1h-1zM7 78h1v1h-1zM15 78h1v1h-1zM4 79h1v1h-1zM10 79h1v1h-1zM13 79h1v1h-1zM10 80h1v1h-1zM13 80h1v1h-1zM9 81h1v1h-1zM12 83h3v1h-3zM6 84h1v1h-1zM11 85h1v1h-1zM15 85h1v1h-1zM4 86h2v1h-2zM4 87h1v1h-1zM6 87h1v1h-1zM17 88h1v1h-1zM10 89h2v1h-2zM15 89h1v1h-1zM8 90h1v1h-1zM11 90h1v1h-1zM16 91h1v1h-1zM5 92h1v1h-1zM7 92h1v1h-1zM13 92h1v1h-1zM15 92h2v1h-2zM12 93h2v1h-2zM16 93h2v1h-2zM4 94h1v1h-1zM6 95h1v1h-1zM17 95h1v1h-1zM3 96h1v1h-1zM9 96h1v1h-1zM16 96h1v1h-1zM6 97h1v1h-1zM7 98h1v1h-1zM15 98h1v1h-1zM17 98h1v1h-1zM8 99h1v1h-1zM10 99h1v1h-1zM14 99h1v1h-1zM17 99h1v1h-1zM11 100h1v1h-1zM8 101h1v1h-1zM4 102h1v1h-1zM10 102h1v1h-1zM12 102h1v1h-1zM9 103h1v1h-1zM11 104h1v1h-1zM17 104h1v1h-1zM11 105h1v1h-1zM13 105h1v1h-1zM16 105h1v1h-1zM9 106h1v1h-1zM12 106h1v1h-1zM11 108h2v1h-2zM15 108h1v1h-1zM10 109h1v1h-1zM15 109h1v1h-1zM17 110h1v1h-1zM7 111h1v1h-1zM12 111h1v1h-1zM15 111h2v1h-2zM11 112h1v1h-1zM9 113h1v1h-1zM11 113h1v1h-1zM13 113h1v1h-1zM16 113h1v1h-1zM7 114h3v1h-3zM17 114h1v1h-1zM6 115h1v1h-1zM11 115h1v1h-1zM4 116h2v1h-2zM7 117h1v1h-1zM10 118h2v1h-2zM14 118h1v1h-1zM17 118h1v1h-1zM9 119h1v1h-1zM15 120h2v1h-2zM8 121h1v1h-1zM16 121h1v1h-1zM13 122h1v1h-1zM13 123h1v1h-1zM14 124h1v1h-1zM13 125h1v1h-1zM16 128h2v1h-2zM7 129h1v1h-1zM13 129h3v1h-3zM16 130h1v1h-1zM6 131h1v1h-1zM11 131h1v1h-1zM13 131h1v1h-1zM15 132h1v1h-1zM12 133h1v1h-1zM4 134h2v1h-2zM8 134h1v1h-1zM13 134h2v1h-2zM4 135h1v1h-1zM6 135h1v1h-1zM10 135h1v1h-1zM16 135h2v1h-2zM14 136h1v1h-1zM16 136h1v1h-1zM17 137h1v1h-1zM5 138h1v1h-1zM10 138h1v1h-1zM13 138h1v1h-1zM15 139h1v1h-1zM16 140h1v1h-1zM7 141h1v1h-1zM10 141h1v1h-1zM12 141h1v1h-1zM16 141h2v1h-2zM10 142h1v1h-1zM14 142h1v1h-1zM16 142h1v1h-1zM14 144h2v1h-2zM15 145h1v1h-1zM12 146h1v1h-1zM4 147h2v1h-2zM8 147h1v1h-1zM11 147h1v1h-1zM13 147h1v1h-1zM4 148h1v1h-1zM11 148h1v1h-1zM14 148h1v1h-1zM12 149h1v1h-1z"/><path fill="#00afff" d="M0 1h1v1h-1zM2 1h1v1h-1zM0 3h1v1h-1zM0 4h1v1h-1zM2 7h1v1h-1zM1 13h1v1h-1zM1 15h1v1h-1zM1 16h1v1h-1zM3 17h1v1h-1zM1 23h1v1h-1zM3 24h1v1h-1zM0 29h1v1h-1zM2 29h1v1h-1zM4 31h1v1h-1zM1 32h2v1h-2zM2 33h1v1h-1zM4 36h1v1h-1zM8 42h1v1h-1zM1 44h1v1h-1zM4 45h1v1h-1zM1 47h1v1h-1zM2 50h1v1h-1zM2 52h1v1h-1zM2 54h1v1h-1zM1 55h1v1h-1zM3 56h1v1h-1zM7 56h1v1h-1zM1 57h1v1h-1zM2 58h1v1h-1zM1 59h1v1h-1zM10 60h2v1h-2zM3 61h1v1h-1zM7 62h1v1h-1zM6 63h1v1h-1zM1 64h1v1h-1zM2 71h1v1h-1zM2 73h1v1h-1zM3 74h1v1h-1zM1 79h1v1h-1zM0 80h1v1h-1zM2 80h1v1h-1zM5 87h1v1h-1zM2 91h1v1h-1zM2 95h1v1h-1zM1 97h2v1h-2zM1 98h2v1h-2zM1 103h1v1h-1zM1 105h1v1h-1zM1 107h1v1h-1zM2 112h2v1h-2zM2 117h1v1h-1zM5 117h1v1h-1zM8 124h1v1h-1zM2 132h1v1h-1zM1 133h1v1h-1zM3 133h2v1h-2zM2 135h1v1h-1zM2 136h1v1h-1zM1 138h1v1h-1zM1 140h1v1h-1zM9 147h1v1h-1zM1 149h1v1h-1z"/><path fill="#00bfff" d="M3 1h1v1h-1zM0 2h1v1h-1zM7 3h1v1h-1zM2 10h1v1h-1zM0 24h1v1h-1zM1 27h1v1h-1zM6 31h1v1h-1zM10 32h1v1h-1zM0 40h2v1h-2zM0 41h1v1h-1zM12 41h1v1h-1zM1 48h1v1h-1zM1 51h1v1h-1zM3 63h1v1h-1zM2 64h1v1h-1zM2 68h1v1h-1zM15 75h1v1h-1zM3 76h1v1h-1zM3 81h1v1h-1zM5 91h1v1h-1zM1 102h1v1h-1zM1 104h1v1h-1zM0 113h1v1h-1zM1 119h1v1h-1zM1 121h1v1h-1zM1 124h1v1h-1zM1 125h1v1h-1zM2 129h1v1h-1zM1 136h1v1h-1zM0 144h1v1h-1zM6 144h1v1h-1zM16 146h1v1h-1zM2 147h1v1h-1z"/><path fill="#0060ff" d="M6 1h1v1h-1zM1 2h1v1h-1zM8 2h1v1h-1zM17 2h1v1h-1zM17 3h1v1h-1zM5 5h1v1h-1zM9 5h1v1h-1zM7 6h1v1h-1zM16 6h1v1h-1zM6 7h1v1h-1zM2 9h1v1h-1zM5 9h1v1h-1zM8 9h1v1h-1zM4 11h2v1h-2zM6 12h2v1h-2zM3 13h1v1h-1zM11 13h1v1h-1zM6 14h1v1h-1zM14 14h1v1h-1zM17 14h1v1h-1zM3 15h1v1h-1zM14 15h1v1h-1zM6 16h1v1h-1zM9 16h1v1h-1zM1 17h1v1h-1zM5 18h1v1h-1zM5 19h1v1h-1zM7 19h1v1h-1zM10 19h1v1h-1zM9 22h2v1h-2zM3 23h1v1h-1zM8 25h1v1h-1zM8 26h2v1h-2zM7 27h1v1h-1zM6 28h1v1h-1zM7 29h1v1h-1zM11 29h1v1h-1zM6 30h2v1h-2zM7 31h1v1h-1zM4 32h1v1h-1zM3 33h2v1h-2zM9 33h1v1h-1zM14 34h1v1h-1zM5 35h1v1h-1zM8 35h1v1h-1zM6 36h1v1h-1zM3 37h2v1h-2zM8 38h1v1h-1zM8 39h1v1h-1zM6 40h1v1h-1zM10 40h1v1h-1zM12 40h1v1h-1zM1 42h2v1h-2zM15 42h1v1h-1zM3 43h1v1h-1zM9 43h1v1h-1zM9 44h1v1h-1zM3 45h1v1h-1zM7 45h1v1h-1zM3 46h1v1h-1zM13 46h1v1h-1zM2 47h1v1h-1zM12 47h1v1h-1zM3 48h1v1h-1zM10 48h1v1h-1zM9 49h1v1h-1zM13 49h1v1h-1zM4 50h1v1h-1zM8 50h1v1h-1zM13 50h1v1h-1zM4 52h1v1h-1zM8 52h1v1h-1zM9 53h1v1h-1zM9 55h1v1h-1zM13 55h1v1h-1zM5 56h2v1h-2zM15 56h1v1h-1zM4 57h1v1h-1zM8 57h1v1h-1zM11 57h1v1h-1zM7 60h2v1h-2zM12 61h1v1h-1zM5 62h1v1h-1zM7 63h1v1h-1zM12 63h2v1h-2zM3 64h1v1h-1zM3 66h1v1h-1zM5 66h1v1h-1zM4 67h2v1h-2zM2 69h1v1h-1zM6 69h1v1h-1zM8 69h1v1h-1zM10 69h1v1h-1zM7 70h2v1h-2zM7 71h1v1h-1zM2 72h1v1h-1zM4 72h1v1h-1zM11 73h1v1h-1zM4 74h1v1h-1zM10 75h2v1h-2zM11 76h1v1h-1zM6 78h1v1h-1zM8 78h1v1h-1zM12 78h1v1h-1zM7 79h1v1h-1zM4 80h3v1h-3zM8 80h1v1h-1zM4 81h1v1h-1zM6 81h1v1h-1zM8 81h1v1h-1zM9 82h1v1h-1zM3 83h1v1h-1zM6 83h1v1h-1zM5 84h1v1h-1zM11 84h1v1h-1zM7 85h1v1h-1zM12 85h1v1h-1zM17 85h1v1h-1zM6 86h1v1h-1zM8 86h1v1h-1zM14 86h1v1h-1zM8 87h1v1h-1zM12 87h1v1h-1zM5 88h1v1h-1zM9 89h1v1h-1zM4 92h1v1h-1zM10 92h1v1h-1zM9 93h1v1h-1zM6 94h1v1h-1zM4 95h2v1h-2zM7 95h1v1h-1zM1 96h1v1h-1zM12 96h1v1h-1zM8 97h1v1h-1zM6 98h1v1h-1zM8 98h2v1h-2zM14 98h1v1h-1zM4 99h1v1h-1zM9 99h1v1h-1zM6 100h2v1h-2zM4 101h1v1h-1zM7 101h1v1h-1zM15 101h1v1h-1zM6 102h2v1h-2zM4 103h2v1h-2zM5 104h1v1h-1zM9 104h2v1h-2zM12 104h1v1h-1zM2 105h2v1h-2zM9 105h1v1h-1zM2 106h1v1h-1zM5 106h1v1h-1zM8 106h1v1h-1zM9 108h2v1h-2zM2 109h1v1h-1zM8 109h1v1h-1zM3 110h2v1h-2zM9 110h1v1h-1zM13 110h1v1h-1zM5 111h1v1h-1zM13 111h1v1h-1zM8 112h1v1h-1zM5 113h1v1h-1zM8 113h1v1h-1zM10 114h1v1h-1zM8 115h1v1h-1zM2 116h1v1h-1zM11 116h1v1h-1zM17 116h1v1h-1zM15 117h1v1h-1zM13 118h1v1h-1zM15 118h1v1h-1zM3 119h1v1h-1zM2 120h1v1h-1zM8 120h1v1h-1zM14 120h1v1h-1zM4 121h2v1h-2zM9 121h1v1h-1zM12 121h1v1h-1zM4 122h1v1h-1zM12 122h1v1h-1zM6 123h1v1h-1zM9 123h1v1h-1zM11 123h1v1h-1zM5 124h1v1h-1zM7 124h1v1h-1zM5 125h1v1h-1zM9 126h1v1h-1zM16 126h1v1h-1zM14 128h1v1h-1zM11 129h1v1h-1zM2 130h1v1h-1zM12 130h1v1h-1zM15 130h1v1h-1zM9 131h1v1h-1zM12 131h1v1h-1zM15 131h1v1h-1zM11 132h1v1h-1zM6 133h2v1h-2zM5 135h1v1h-1zM8 138h1v1h-1zM4 139h2v1h-2zM4 140h2v1h-2zM8 140h2v1h-2zM4 141h1v1h-1zM9 141h1v1h-1zM11 141h1v1h-1zM13 141h1v1h-1zM6 142h2v1h-2zM2 143h1v1h-1zM4 143h1v1h-1zM10 143h1v1h-1zM3 144h1v1h-1zM12 144h1v1h-1zM9 145h2v1h-2zM12 145h1v1h-1zM7 146h1v1h-1zM9 146h1v1h-1zM6 147h1v1h-1zM5 148h1v1h-1zM7 148h1v1h-1z"/><path fill="#0000ef" d="M11 1h1v1h-1zM12 14h1v1h-1zM16 15h2v1h-2zM11 18h1v1h-1zM12 19h1v1h-1zM17 19h1v1h-1zM16 33h1v1h-1zM16 43h1v1h-1zM14 55h1v1h-1zM17 55h1v1h-1zM14 58h1v1h-1zM17 81h1v1h-1zM10 86h1v1h-1zM8 88h1v1h-1zM17 89h1v1h-1zM12 91h1v1h-1zM8 93h1v1h-1zM15 115h1v1h-1zM14 116h1v1h-1zM14 119h1v1h-1zM14 127h1v1h-1zM11 133h1v1h-1zM16 134h2v1h-2zM13 140h1v1h-1z"/><path fill="#00cfff" d="M4 2h1v1h-1zM2 18h1v1h-1zM2 20h1v1h-1zM0 31h1v1h-1zM4 35h1v1h-1zM0 46h1v1h-1zM2 55h1v1h-1zM12 62h1v1h-1zM0 63h1v1h-1zM3 65h1v1h-1zM8 68h2v1h-2zM1 73h1v1h-1zM0 81h1v1h-1zM1 88h1v1h-1zM3 91h1v1h-1zM0 106h1v1h-1zM0 111h1v1h-1zM1 126h1v1h-1zM1 127h1v1h-1zM1 142h1v1h-1z"/><path fill="#0010ff" d="M7 2h1v1h-1zM10 2h1v1h-1zM14 2h1v1h-1zM16 2h1v1h-1zM4 3h1v1h-1zM10 3h1v1h-1zM14 3h1v1h-1zM17 5h1v1h-1zM6 6h1v1h-1zM17 6h1v1h-1zM14 7h1v1h-1zM12 9h1v1h-1zM5 10h1v1h-1zM17 10h1v1h-1zM10 11h1v1h-1zM17 11h1v1h-1zM5 12h1v1h-1zM13 15h1v1h-1zM11 16h1v1h-1zM13 16h1v1h-1zM16 16h1v1h-1zM14 18h1v1h-1zM12 20h1v1h-1zM14 20h1v1h-1zM12 22h1v1h-1zM14 23h1v1h-1zM9 24h1v1h-1zM9 25h1v1h-1zM12 26h1v1h-1zM14 27h1v1h-1zM9 28h1v1h-1zM13 28h1v1h-1zM17 29h1v1h-1zM13 30h1v1h-1zM15 30h1v1h-1zM11 31h1v1h-1zM17 31h1v1h-1zM8 32h1v1h-1zM13 32h1v1h-1zM10 33h2v1h-2zM13 33h1v1h-1zM17 33h1v1h-1zM8 34h2v1h-2zM11 36h2v1h-2zM7 38h1v1h-1zM17 39h1v1h-1zM17 40h1v1h-1zM16 42h1v1h-1zM15 43h1v1h-1zM14 44h1v1h-1zM17 44h1v1h-1zM9 45h1v1h-1zM12 45h1v1h-1zM15 45h1v1h-1zM17 45h1v1h-1zM14 46h1v1h-1zM7 47h1v1h-1zM10 47h1v1h-1zM16 47h1v1h-1zM14 49h1v1h-1zM16 49h2v1h-2zM7 50h1v1h-1zM10 50h3v1h-3zM13 51h1v1h-1zM13 52h1v1h-1zM13 54h1v1h-1zM16 54h1v1h-1zM10 55h1v1h-1zM16 56h2v1h-2zM9 58h1v1h-1zM15 59h1v1h-1zM17 59h1v1h-1zM5 61h1v1h-1zM15 61h1v1h-1zM10 62h1v1h-1zM14 62h1v1h-1zM16 63h1v1h-1zM12 65h1v1h-1zM9 66h1v1h-1zM13 66h1v1h-1zM13 67h2v1h-2zM12 68h1v1h-1zM16 69h1v1h-1zM17 71h1v1h-1zM5 74h1v1h-1zM9 75h1v1h-1zM10 76h1v1h-1zM14 76h2v1h-2zM17 78h1v1h-1zM14 79h1v1h-1zM7 81h1v1h-1zM10 81h2v1h-2zM7 82h1v1h-1zM10 82h1v1h-1zM12 82h1v1h-1zM11 83h1v1h-1zM17 83h1v1h-1zM16 84h1v1h-1zM16 85h1v1h-1zM9 88h1v1h-1zM16 89h1v1h-1zM14 90h1v1h-1zM10 91h2v1h-2zM14 91h1v1h-1zM17 91h1v1h-1zM15 94h1v1h-1zM8 95h1v1h-1zM16 98h1v1h-1zM15 100h1v1h-1zM13 101h1v1h-1zM16 101h1v1h-1zM11 102h1v1h-1zM8 104h1v1h-1zM14 104h1v1h-1zM5 105h1v1h-1zM11 106h1v1h-1zM17 106h1v1h-1zM10 107h3v1h-3zM6 108h2v1h-2zM5 109h1v1h-1zM14 110h1v1h-1zM10 112h1v1h-1zM12 112h1v1h-1zM14 112h2v1h-2zM15 113h1v1h-1zM16 114h1v1h-1zM10 115h1v1h-1zM13 116h1v1h-1zM15 116h1v1h-1zM11 117h1v1h-1zM16 118h1v1h-1zM7 120h1v1h-1zM17 120h1v1h-1zM6 121h1v1h-1zM13 121h1v1h-1zM8 122h1v1h-1zM10 122h1v1h-1zM10 123h1v1h-1zM11 124h1v1h-1zM15 124h1v1h-1zM14 125h3v1h-3zM14 126h1v1h-1zM11 127h1v1h-1zM17 127h1v1h-1zM11 128h2v1h-2zM5 129h1v1h-1zM14 130h1v1h-1zM8 131h1v1h-1zM8 132h1v1h-1zM12 132h1v1h-1zM10 133h1v1h-1zM11 134h1v1h-1zM15 137h1v1h-1zM12 139h1v1h-1zM10 140h1v1h-1zM14 140h1v1h-1zM15 141h1v1h-1zM11 143h1v1h-1zM15 143h2v1h-2zM7 144h1v1h-1zM13 144h1v1h-1zM17 144h1v1h-1zM10 146h1v1h-1zM14 147h1v1h-1zM16 148h1v1h-1zM14 149h1v1h-1zM17 149h1v1h-1z"/><path fill="#0000ff" d="M11 2h1v1h-1zM10 4h1v1h-1zM11 9h1v1h-1zM13 9h1v1h-1zM15 9h2v1h-2zM16 11h1v1h-1zM8 17h1v1h-1zM17 17h1v1h-1zM13 18h1v1h-1zM15 20h1v1h-1zM17 21h1v1h-1zM11 23h1v1h-1zM11 25h1v1h-1zM13 25h1v1h-1zM16 26h1v1h-1zM6 27h1v1h-1zM11 27h1v1h-1zM14 28h1v1h-1zM17 28h1v1h-1zM12 29h1v1h-1zM16 29h1v1h-1zM12 31h1v1h-1zM17 32h1v1h-1zM15 33h1v1h-1zM11 38h1v1h-1zM11 42h1v1h-1zM12 43h1v1h-1zM15 44h1v1h-1zM17 47h1v1h-1zM11 48h1v1h-1zM13 48h1v1h-1zM16 53h1v1h-1zM7 58h1v1h-1zM12 60h1v1h-1zM17 60h1v1h-1zM11 63h1v1h-1zM17 66h1v1h-1zM8 67h1v1h-1zM10 67h1v1h-1zM13 70h1v1h-1zM17 73h1v1h-1zM12 75h2v1h-2zM17 76h1v1h-1zM12 79h1v1h-1zM13 81h1v1h-1zM12 84h1v1h-1zM17 84h1v1h-1zM13 85h1v1h-1zM17 87h1v1h-1zM6 90h1v1h-1zM11 93h1v1h-1zM7 94h1v1h-1zM12 94h1v1h-1zM10 95h1v1h-1zM10 96h2v1h-2zM14 96h1v1h-1zM15 97h1v1h-1zM16 104h1v1h-1zM15 106h1v1h-1zM16 107h1v1h-1zM16 108h1v1h-1zM14 109h1v1h-1zM12 110h1v1h-1zM17 112h1v1h-1zM17 113h1v1h-1zM12 117h1v1h-1zM12 119h1v1h-1zM10 120h1v1h-1zM12 120h1v1h-1zM15 122h1v1h-1zM13 128h1v1h-1zM11 130h1v1h-1zM13 133h1v1h-1zM17 133h1v1h-1zM11 137h1v1h-1zM17 139h1v1h-1zM12 140h1v1h-1zM15 140h1v1h-1zM14 141h1v1h-1zM15 146h1v1h-1zM10 148h1v1h-1zM7 149h1v1h-1z"/><path fill="#008fff" d="M2 5h1v1h-1zM3 6h1v1h-1zM1 9h1v1h-1zM3 10h1v1h-1zM15 12h1v1h-1zM6 15h1v1h-1zM10 15h1v1h-1zM2 17h1v1h-1zM3 18h1v1h-1zM4 20h1v1h-1zM2 21h2v1h-2zM6 22h1v1h-1zM2 26h2v1h-2zM16 27h1v1h-1zM1 28h1v1h-1zM8 28h1v1h-1zM6 29h1v1h-1zM2 30h1v1h-1zM1 31h1v1h-1zM1 33h1v1h-1zM1 36h2v1h-2zM2 37h1v1h-1zM1 38h1v1h-1zM1 39h1v1h-1zM7 39h1v1h-1zM1 41h1v1h-1zM2 45h1v1h-1zM9 47h1v1h-1zM3 51h1v1h-1zM3 53h1v1h-1zM9 54h1v1h-1zM3 57h1v1h-1zM10 57h1v1h-1zM1 58h1v1h-1zM6 62h1v1h-1zM1 65h1v1h-1zM4 65h1v1h-1zM0 66h2v1h-2zM1 67h1v1h-1zM0 69h1v1h-1zM3 69h1v1h-1zM2 70h2v1h-2zM1 71h1v1h-1zM3 72h1v1h-1zM8 72h1v1h-1zM1 77h1v1h-1zM3 77h1v1h-1zM3 79h1v1h-1zM3 80h1v1h-1zM2 81h1v1h-1zM1 82h3v1h-3zM14 82h1v1h-1zM2 83h1v1h-1zM9 83h1v1h-1zM1 84h2v1h-2zM13 84h1v1h-1zM5 85h1v1h-1zM2 86h1v1h-1zM3 88h1v1h-1zM2 90h1v1h-1zM1 94h1v1h-1zM3 94h1v1h-1zM7 97h1v1h-1zM6 99h1v1h-1zM1 100h1v1h-1zM3 101h1v1h-1zM2 102h1v1h-1zM17 102h1v1h-1zM6 104h1v1h-1zM1 106h1v1h-1zM3 107h1v1h-1zM0 108h1v1h-1zM3 108h1v1h-1zM2 110h1v1h-1zM2 111h1v1h-1zM1 114h1v1h-1zM3 114h1v1h-1zM1 115h1v1h-1zM1 116h1v1h-1zM2 119h1v1h-1zM16 119h1v1h-1zM1 120h1v1h-1zM2 122h1v1h-1zM2 123h1v1h-1zM2 124h2v1h-2zM2 127h1v1h-1zM2 128h1v1h-1zM3 129h1v1h-1zM1 130h1v1h-1zM2 131h1v1h-1zM10 131h1v1h-1zM5 132h1v1h-1zM8 133h1v1h-1zM1 135h1v1h-1zM3 135h1v1h-1zM9 135h1v1h-1zM11 135h1v1h-1zM1 137h4v1h-4zM1 139h1v1h-1zM6 139h1v1h-1zM1 141h1v1h-1zM6 141h1v1h-1zM2 142h1v1h-1zM1 147h1v1h-1zM3 147h1v1h-1zM1 148h1v1h-1zM2 149h1v1h-1z"/><path fill="#50ffaf" d="M0 6h1v1h-1zM0 47h1v1h-1zM0 49h1v1h-1zM5 58h1v1h-1zM0 84h1v1h-1zM0 97h1v1h-1zM0 114h1v1h-1zM0 117h1v1h-1zM3 118h1v1h-1zM0 121h1v1h-1zM0 123h1v1h-1zM0 131h1v1h-1zM0 133h1v1h-1z"/><path fill="#30ffcf" d="M0 7h1v1h-1zM0 33h1v1h-1zM0 34h1v1h-1zM0 35h1v1h-1zM0 48h1v1h-1zM0 65h1v1h-1zM0 67h1v1h-1zM2 108h1v1h-1zM1 111h1v1h-1zM0 116h1v1h-1zM0 145h1v1h-1z"/><path fill="#40ffbf" d="M0 8h1v1h-1zM0 39h1v1h-1zM0 87h1v1h-1zM0 122h1v1h-1zM0 146h1v1h-1z"/><path fill="#0000df" d="M13 8h1v1h-1zM16 8h1v1h-1zM15 14h1v1h-1zM10 24h1v1h-1zM16 24h1v1h-1zM9 30h1v1h-1zM10 34h1v1h-1zM15 39h1v1h-1zM8 61h1v1h-1zM15 68h2v1h-2zM17 79h1v1h-1zM16 87h1v1h-1zM14 93h1v1h-1zM14 94h1v1h-1zM15 99h1v1h-1zM11 103h1v1h-1zM17 111h1v1h-1zM16 122h1v1h-1zM15 127h1v1h-1zM14 135h1v1h-1zM8 143h1v1h-1zM17 145h1v1h-1z"/><path fill="#70ff8f" d="M0 9h1v1h-1zM0 10h1v1h-1zM0 11h1v1h-1zM0 16h1v1h-1zM0 61h1v1h-1zM0 62h1v1h-1zM0 132h1v1h-1z"/><path fill="#00dfff" d="M1 10h1v1h-1zM7 15h1v1h-1zM0 22h1v1h-1zM7 36h1v1h-1zM0 44h1v1h-1zM1 45h1v1h-1zM1 46h1v1h-1zM2 79h1v1h-1zM1 93h1v1h-1zM0 104h1v1h-1zM1 129h1v1h-1zM1 131h1v1h-1zM3 136h1v1h-1zM0 140h1v1h-1zM0 142h1v1h-1zM6 146h1v1h-1zM0 149h1v1h-1z"/><path fill="#20ffdf" d="M0 12h1v1h-1zM0 28h1v1h-1zM0 45h1v1h-1zM1 53h1v1h-1zM0 74h1v1h-1zM0 105h1v1h-1zM0 120h1v1h-1zM0 136h1v1h-1zM0 138h1v1h-1zM0 148h1v1h-1z"/><path fill="#bfff40" d="M0 13h1v1h-1zM0 55h1v1h-1zM0 57h1v1h-1zM0 134h1v1h-1z"/><path fill="#80ff80" d="M0 14h1v1h-1zM0 20h1v1h-1zM0 23h1v1h-1zM0 59h1v1h-1zM0 88h1v1h-1zM0 95h1v1h-1zM0 96h1v1h-1zM0 100h1v1h-1zM0 118h1v1h-1zM0 126h1v1h-1zM0 127h1v1h-1z"/><path fill="#afff50" d="M0 15h1v1h-1zM0 50h1v1h-1zM0 53h1v1h-1zM0 60h1v1h-1zM0 89h1v1h-1zM0 91h1v1h-1zM0 92h1v1h-1z"/><path fill="#efff10" d="M0 17h1v1h-1zM0 124h1v1h-1zM0 130h1v1h-1z"/><path fill="#8fff70" d="M0 18h1v1h-1zM2 27h1v1h-1zM0 51h1v1h-1zM0 58h1v1h-1zM0 85h1v1h-1zM0 119h1v1h-1zM0 135h1v1h-1z"/><path fill="#00ffff" d="M1 18h1v1h-1zM0 27h1v1h-1zM0 36h1v1h-1zM0 78h1v1h-1zM1 80h1v1h-1zM0 99h1v1h-1zM0 101h1v1h-1zM0 110h1v1h-1zM0 112h1v1h-1zM1 113h1v1h-1zM0 139h1v1h-1z"/><path fill="#60ff9f" d="M0 19h1v1h-1zM0 25h1v1h-1zM0 52h1v1h-1zM0 94h1v1h-1z"/><path fill="#0000cf" d="M14 19h1v1h-1zM10 38h1v1h-1zM14 117h1v1h-1zM16 127h1v1h-1z"/><path fill="#cfff30" d="M0 21h1v1h-1zM0 90h1v1h-1z"/><path fill="#ffdf00" d="M0 54h1v1h-1z"/><path fill="#9fff60" d="M0 56h1v1h-1zM0 64h1v1h-1zM0 93h1v1h-1zM0 98h1v1h-1zM2 140h1v1h-1z"/><path fill="#ffff00" d="M0 125h1v1h-1zM0 128h1v1h-1z"/><path fill="#ffcf00" d="M0 129h1v1h-1z"/></svg><div class="edge"></div><div class="ledge"></div></div><div class="ax" style="left:513.5px;top:224px;width:18.9px;height:150px"><svg width="18.9" height="150" viewBox="0 0 1 64" preserveAspectRatio="none" shape-rendering="crispEdges" style="position:absolute;left:0;top:0"><rect x="0" y="0" width="1" height="1" fill="#800000"/><rect x="0" y="1" width="1" height="1" fill="#8f0000"/><rect x="0" y="2" width="1" height="1" fill="#9f0000"/><rect x="0" y="3" width="1" height="1" fill="#af0000"/><rect x="0" y="4" width="1" height="1" fill="#bf0000"/><rect x="0" y="5" width="1" height="1" fill="#cf0000"/><rect x="0" y="6" width="1" height="1" fill="#df0000"/><rect x="0" y="7" width="1" height="1" fill="#ef0000"/><rect x="0" y="8" width="1" height="1" fill="#ff0000"/><rect x="0" y="9" width="1" height="1" fill="#ff1000"/><rect x="0" y="10" width="1" height="1" fill="#ff2000"/><rect x="0" y="11" width="1" height="1" fill="#ff3000"/><rect x="0" y="12" width="1" height="1" fill="#ff4000"/><rect x="0" y="13" width="1" height="1" fill="#ff5000"/><rect x="0" y="14" width="1" height="1" fill="#ff6000"/><rect x="0" y="15" width="1" height="1" fill="#ff7000"/><rect x="0" y="16" width="1" height="1" fill="#ff8000"/><rect x="0" y="17" width="1" height="1" fill="#ff8f00"/><rect x="0" y="18" width="1" height="1" fill="#ff9f00"/><rect x="0" y="19" width="1" height="1" fill="#ffaf00"/><rect x="0" y="20" width="1" height="1" fill="#ffbf00"/><rect x="0" y="21" width="1" height="1" fill="#ffcf00"/><rect x="0" y="22" width="1" height="1" fill="#ffdf00"/><rect x="0" y="23" width="1" height="1" fill="#ffef00"/><rect x="0" y="24" width="1" height="1" fill="#ffff00"/><rect x="0" y="25" width="1" height="1" fill="#efff10"/><rect x="0" y="26" width="1" height="1" fill="#dfff20"/><rect x="0" y="27" width="1" height="1" fill="#cfff30"/><rect x="0" y="28" width="1" height="1" fill="#bfff40"/><rect x="0" y="29" width="1" height="1" fill="#afff50"/><rect x="0" y="30" width="1" height="1" fill="#9fff60"/><rect x="0" y="31" width="1" height="1" fill="#8fff70"/><rect x="0" y="32" width="1" height="1" fill="#80ff80"/><rect x="0" y="33" width="1" height="1" fill="#70ff8f"/><rect x="0" y="34" width="1" height="1" fill="#60ff9f"/><rect x="0" y="35" width="1" height="1" fill="#50ffaf"/><rect x="0" y="36" width="1" height="1" fill="#40ffbf"/><rect x="0" y="37" width="1" height="1" fill="#30ffcf"/><rect x="0" y="38" width="1" height="1" fill="#20ffdf"/><rect x="0" y="39" width="1" height="1" fill="#10ffef"/><rect x="0" y="40" width="1" height="1" fill="#00ffff"/><rect x="0" y="41" width="1" height="1" fill="#00efff"/><rect x="0" y="42" width="1" height="1" fill="#00dfff"/><rect x="0" y="43" width="1" height="1" fill="#00cfff"/><rect x="0" y="44" width="1" height="1" fill="#00bfff"/><rect x="0" y="45" width="1" height="1" fill="#00afff"/><rect x="0" y="46" width="1" height="1" fill="#009fff"/><rect x="0" y="47" width="1" height="1" fill="#008fff"/><rect x="0" y="48" width="1" height="1" fill="#0080ff"/><rect x="0" y="49" width="1" height="1" fill="#0070ff"/><rect x="0" y="50" width="1" height="1" fill="#0060ff"/><rect x="0" y="51" width="1" height="1" fill="#0050ff"/><rect x="0" y="52" width="1" height="1" fill="#0040ff"/><rect x="0" y="53" width="1" height="1" fill="#0030ff"/><rect x="0" y="54" width="1" height="1" fill="#0020ff"/><rect x="0" y="55" width="1" height="1" fill="#0010ff"/><rect x="0" y="56" width="1" height="1" fill="#0000ff"/><rect x="0" y="57" width="1" height="1" fill="#0000ef"/><rect x="0" y="58" width="1" height="1" fill="#0000df"/><rect x="0" y="59" width="1" height="1" fill="#0000cf"/><rect x="0" y="60" width="1" height="1" fill="#0000bf"/><rect x="0" y="61" width="1" height="1" fill="#0000af"/><rect x="0" y="62" width="1" height="1" fill="#00009f"/><rect x="0" y="63" width="1" height="1" fill="#00008f"/></svg><div class="box"></div></div><div class="lab" style="left:413.9px;top:209.7px">Maximum error of wind direction, deg.</div><div class="lab" style="left:413.9px;top:392.5px">Wind speed, m/s</div><div class="ylab" style="left:301.2px;top:299.0px">Wind direction, deg.</div><div class="xt" style="left:357.9px;top:378.4px">5</div><div class="xt" style="left:405.4px;top:378.4px">10</div><div class="xt" style="left:452.9px;top:378.4px">15</div><div class="xt" style="left:500.4px;top:378.4px">20</div><div class="yt" style="right:223.8px;top:368.5px">0</div><div class="yt" style="right:223.8px;top:349.75px">45</div><div class="yt" style="right:223.8px;top:331.0px">90</div><div class="yt" style="right:223.8px;top:312.25px">135</div><div class="yt" style="right:223.8px;top:293.5px">180</div><div class="yt" style="right:223.8px;top:274.75px">225</div><div class="yt" style="right:223.8px;top:256.0px">270</div><div class="yt" style="right:223.8px;top:237.25px">315</div><div class="yt" style="right:223.8px;top:218.5px">360</div><div class="ctk" style="left:530.1999999999999px;top:368.9px"></div><div class="ct" style="left:535.9px;top:363.9px">1</div><div class="ctk" style="left:530.1999999999999px;top:342.1px"></div><div class="ct" style="left:535.9px;top:337.1px">2</div><div class="ctk" style="left:530.1999999999999px;top:315.3px"></div><div class="ct" style="left:535.9px;top:310.3px">3</div><div class="ctk" style="left:530.1999999999999px;top:288.5px"></div><div class="ct" style="left:535.9px;top:283.5px">4</div><div class="ctk" style="left:530.1999999999999px;top:261.7px"></div><div class="ct" style="left:535.9px;top:256.7px">5</div><div class="ctk" style="left:530.1999999999999px;top:234.9px"></div><div class="ct" style="left:535.9px;top:229.9px">6</div>
</body></html>
